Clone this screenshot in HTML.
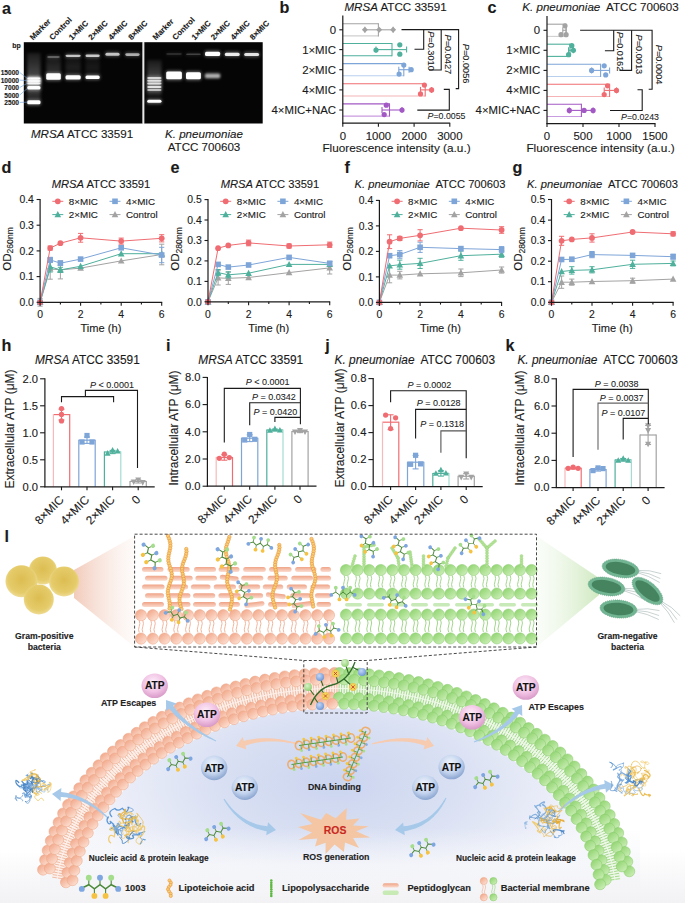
<!DOCTYPE html>
<html><head><meta charset="utf-8"><style>
html,body{margin:0;padding:0;background:#fff;width:685px;height:903px;overflow:hidden;}
svg{display:block;}
text{font-family:"Liberation Sans",sans-serif;white-space:pre;}
</style></head><body>
<svg width="685" height="903" viewBox="0 0 685 903">
<defs>
<filter id="gb05" x="-20%" y="-100%" width="140%" height="300%"><feGaussianBlur stdDeviation="0.5"/></filter>
<filter id="gb055" x="-20%" y="-100%" width="140%" height="300%"><feGaussianBlur stdDeviation="0.55"/></filter>
<filter id="gb06" x="-20%" y="-100%" width="140%" height="300%"><feGaussianBlur stdDeviation="0.6"/></filter>
<filter id="gb07" x="-20%" y="-100%" width="140%" height="300%"><feGaussianBlur stdDeviation="0.7"/></filter>
<filter id="gb08" x="-20%" y="-100%" width="140%" height="300%"><feGaussianBlur stdDeviation="0.8"/></filter>
<filter id="gb15" x="-30%" y="-150%" width="160%" height="400%"><feGaussianBlur stdDeviation="1.5"/></filter>
<linearGradient id="smear" x1="0" y1="0" x2="0" y2="1"><stop offset="0" stop-color="#fff" stop-opacity="0.3"/><stop offset="0.6" stop-color="#fff" stop-opacity="1"/><stop offset="1" stop-color="#fff" stop-opacity="0.4"/></linearGradient>

<linearGradient id="fadebot" x1="0" y1="0" x2="0" y2="1"><stop offset="0" stop-color="#f6f7fa" stop-opacity="0"/><stop offset="0.6" stop-color="#f6f7fa" stop-opacity="0.85"/><stop offset="1" stop-color="#f4f4f7" stop-opacity="1"/></linearGradient>
<radialGradient id="molblue" cx="0.4" cy="0.35" r="0.65"><stop offset="0" stop-color="#c5d8f5"/><stop offset="1" stop-color="#6f98d8"/></radialGradient>
<radialGradient id="molgreen" cx="0.4" cy="0.35" r="0.65"><stop offset="0" stop-color="#d8f2c8"/><stop offset="1" stop-color="#92d277"/></radialGradient>
<linearGradient id="sball" x1="0.15" y1="0.1" x2="0.85" y2="0.95"><stop offset="0" stop-color="#f2a98c"/><stop offset="1" stop-color="#fde2d5"/></linearGradient>
<linearGradient id="gball" x1="0.15" y1="0.1" x2="0.85" y2="0.95"><stop offset="0" stop-color="#92d572"/><stop offset="1" stop-color="#cdefb9"/></linearGradient>
<linearGradient id="pepg" x1="0" y1="0" x2="0" y2="1"><stop offset="0" stop-color="#efa386"/><stop offset="1" stop-color="#fbdccf"/></linearGradient>
<radialGradient id="yball" cx="0.5" cy="0.45" r="0.55"><stop offset="0" stop-color="#dcbd52"/><stop offset="0.75" stop-color="#e5cb6a"/><stop offset="1" stop-color="#efdc95"/></radialGradient>
<radialGradient id="pinkball" cx="0.45" cy="0.35" r="0.65"><stop offset="0" stop-color="#fdf0fa"/><stop offset="0.6" stop-color="#f1c2e4"/><stop offset="1" stop-color="#d89ac8"/></radialGradient>
<radialGradient id="blueball" cx="0.45" cy="0.35" r="0.65"><stop offset="0" stop-color="#f3f7fd"/><stop offset="0.6" stop-color="#c4d4ee"/><stop offset="1" stop-color="#8aa5d0"/></radialGradient>
<linearGradient id="conesal" x1="0" y1="0" x2="1" y2="0"><stop offset="0" stop-color="#f2cbbb"/><stop offset="1" stop-color="#fdf7f4" stop-opacity="0.5"/></linearGradient>
<linearGradient id="conegrn" x1="1" y1="0" x2="0" y2="0"><stop offset="0" stop-color="#cfe9c0"/><stop offset="1" stop-color="#f3faef" stop-opacity="0.4"/></linearGradient>
<radialGradient id="cellgrad" gradientUnits="userSpaceOnUse" cx="336" cy="782" r="265" gradientTransform="translate(336,782) scale(1,0.5) translate(-336,-782)"><stop offset="0" stop-color="#cbd5ef"/><stop offset="0.45" stop-color="#d9e0f3"/><stop offset="0.8" stop-color="#eaedf8"/><stop offset="1" stop-color="#f5f6fb"/></radialGradient>
<linearGradient id="botgrad" gradientUnits="userSpaceOnUse" x1="0" y1="850" x2="0" y2="903"><stop offset="0" stop-color="#ffffff"/><stop offset="0.6" stop-color="#f7f7f9"/><stop offset="1" stop-color="#f2f2f5"/></linearGradient>
<radialGradient id="rosgrad" cx="0.5" cy="0.5" r="0.5"><stop offset="0" stop-color="#fbe0c8"/><stop offset="1" stop-color="#f6b88a"/></radialGradient>
</defs>
<rect width="685" height="903" fill="#fff"/>
<text x="4.5" y="541.5" font-size="16.2" font-weight="bold" fill="#1a1a1a" stroke="#1a1a1a" stroke-width="0.12">l</text>
<rect x="0" y="850" width="685" height="53" fill="url(#botgrad)"/>
<polygon points="76.4,890.0 76.4,885.8 76.7,883.1 77.1,880.4 77.5,877.7 78.0,875.0 78.6,872.3 79.2,869.6 79.8,866.9 80.6,864.2 81.3,861.5 82.1,858.9 83.0,856.2 83.9,853.5 84.9,850.9 85.9,848.2 87.0,845.6 88.1,842.9 89.3,840.3 90.5,837.7 91.8,835.1 93.1,832.5 94.5,829.9 95.9,827.3 97.4,824.7 99.0,822.2 100.6,819.6 102.2,817.1 103.9,814.6 105.7,812.1 107.5,809.6 109.3,807.1 111.3,804.6 113.2,802.2 115.2,799.8 117.3,797.3 119.4,795.0 121.6,792.6 123.8,790.2 126.0,787.9 128.4,785.6 130.7,783.3 133.1,781.0 135.6,778.8 138.1,776.6 140.6,774.4 143.2,772.2 145.9,770.1 148.6,768.0 151.3,765.9 154.1,763.8 156.9,761.8 159.8,759.8 162.7,757.8 165.6,755.9 168.6,754.0 171.7,752.1 174.7,750.3 177.8,748.5 181.0,746.7 184.2,745.0 187.4,743.3 190.7,741.6 194.0,739.9 197.3,738.3 200.7,736.8 204.1,735.3 207.5,733.8 211.0,732.3 214.5,730.9 218.0,729.5 221.6,728.2 225.2,726.9 228.8,725.7 232.4,724.5 236.1,723.3 239.8,722.2 243.5,721.1 247.2,720.0 251.0,719.0 254.8,718.1 258.6,717.2 262.4,716.3 266.2,715.5 270.1,714.7 274.0,713.9 277.9,713.2 281.8,712.6 285.7,712.0 289.6,711.4 293.6,710.9 297.5,710.5 301.5,710.0 305.4,709.7 309.4,709.3 313.4,709.0 317.4,708.8 321.4,708.6 325.4,708.5 329.4,708.4 333.4,708.3 337.4,708.3 341.4,708.3 345.4,708.4 349.4,708.6 353.4,708.7 357.4,709.0 361.4,709.2 365.4,709.6 369.4,709.9 373.3,710.3 377.3,710.8 381.2,711.3 385.2,711.8 389.1,712.4 393.0,713.0 396.9,713.7 400.8,714.5 404.6,715.2 408.5,716.0 412.3,716.9 416.1,717.8 419.9,718.7 423.7,719.7 427.4,720.8 431.1,721.8 434.8,722.9 438.5,724.1 442.2,725.3 445.8,726.5 449.4,727.8 452.9,729.1 456.5,730.5 460.0,731.9 463.5,733.3 466.9,734.8 470.3,736.3 473.7,737.9 477.0,739.5 480.4,741.1 483.6,742.8 486.9,744.5 490.1,746.2 493.2,747.9 496.4,749.7 499.4,751.6 502.5,753.4 505.5,755.3 508.5,757.3 511.4,759.2 514.3,761.2 517.1,763.2 519.9,765.3 522.6,767.4 525.3,769.5 528.0,771.6 530.6,773.8 533.2,775.9 535.7,778.2 538.2,780.4 540.6,782.6 543.0,784.9 545.3,787.2 547.6,789.5 549.8,791.9 552.0,794.3 554.1,796.6 556.2,799.0 558.2,801.5 560.2,803.9 562.1,806.4 564.0,808.8 565.8,811.3 567.6,813.8 569.3,816.3 570.9,818.9 572.6,821.4 574.1,824.0 575.6,826.5 577.1,829.1 578.5,831.7 579.8,834.3 581.1,836.9 582.4,839.5 583.6,842.2 584.7,844.8 585.8,847.4 586.8,850.1 587.8,852.7 588.8,855.4 589.6,858.1 590.5,860.7 591.2,863.4 592.0,866.1 592.6,868.8 593.2,871.5 593.8,874.2 594.3,876.9 594.8,879.6 595.2,882.3 595.5,885.0 595.8,887.7 595.8,890.0" fill="url(#cellgrad)"/>
<rect x="40" y="828" width="600" height="62" fill="url(#fadebot)"/>
<polygon points="74,570 134.6,536 134.6,647 74,598" fill="url(#conesal)"/>
<polygon points="599,578 536.5,536 536.5,647 599,595" fill="url(#conegrn)"/>
<circle cx="42.9" cy="570.5" r="14.0" fill="url(#yball)"/>
<circle cx="21.5" cy="581.2" r="16.0" fill="url(#yball)"/>
<circle cx="64.0" cy="581.5" r="15.0" fill="url(#yball)"/>
<circle cx="38.8" cy="599.5" r="15.0" fill="url(#yball)"/>
<text x="44.3" y="639.2" font-size="8.7" text-anchor="middle" font-weight="bold" fill="#222" stroke="#222" stroke-width="0.12">Gram-positive</text>
<text x="44.3" y="649.6" font-size="8.7" text-anchor="middle" font-weight="bold" fill="#222" stroke="#222" stroke-width="0.12">bacteria</text>
<g transform="translate(620.5,568.5) rotate(10)"><path d="M17,0 q12,-1 24,3 M17,1 q12,1 24,6 M17,-1 q12,-3 24,-1" stroke="#9aa" stroke-width="0.5" fill="none"/><ellipse cx="0" cy="0" rx="18.5" ry="9" fill="#72b593" stroke="#62a383" stroke-width="0.8" stroke-dasharray="1,1"/><ellipse cx="0" cy="0" rx="15" ry="6.2" fill="#45845f"/></g>
<g transform="translate(606.5,586.5) rotate(10)"><path d="M17,0 q12,-1 24,3 M17,1 q12,1 24,6 M17,-1 q12,-3 24,-1" stroke="#9aa" stroke-width="0.5" fill="none"/><ellipse cx="0" cy="0" rx="18.5" ry="9" fill="#72b593" stroke="#62a383" stroke-width="0.8" stroke-dasharray="1,1"/><ellipse cx="0" cy="0" rx="15" ry="6.2" fill="#45845f"/></g>
<g transform="translate(647.5,591.0) rotate(40)"><path d="M17,0 q12,-1 24,3 M17,1 q12,1 24,6 M17,-1 q12,-3 24,-1" stroke="#9aa" stroke-width="0.5" fill="none"/><ellipse cx="0" cy="0" rx="18.5" ry="9" fill="#72b593" stroke="#62a383" stroke-width="0.8" stroke-dasharray="1,1"/><ellipse cx="0" cy="0" rx="15" ry="6.2" fill="#45845f"/></g>
<g transform="translate(618.5,609.0) rotate(5)"><path d="M17,0 q12,-1 24,3 M17,1 q12,1 24,6 M17,-1 q12,-3 24,-1" stroke="#9aa" stroke-width="0.5" fill="none"/><ellipse cx="0" cy="0" rx="18.5" ry="9" fill="#72b593" stroke="#62a383" stroke-width="0.8" stroke-dasharray="1,1"/><ellipse cx="0" cy="0" rx="15" ry="6.2" fill="#45845f"/></g>
<text x="627.5" y="639.0" font-size="8.6" text-anchor="middle" font-weight="bold" fill="#222" stroke="#222" stroke-width="0.12">Gram-negative</text>
<text x="627.5" y="649.8" font-size="8.6" text-anchor="middle" font-weight="bold" fill="#222" stroke="#222" stroke-width="0.12">bacteria</text>
<rect x="142.0" y="566.9" width="21.5" height="5.0" rx="2.5" fill="url(#pepg)" transform="rotate(0 152.7 569.4)"/>
<rect x="167.5" y="566.9" width="22.2" height="5.0" rx="2.5" fill="url(#pepg)" transform="rotate(0 178.6 569.4)"/>
<rect x="194.0" y="566.9" width="22.0" height="5.0" rx="2.5" fill="url(#pepg)" transform="rotate(0 205.0 569.4)"/>
<rect x="218.6" y="566.9" width="20.9" height="5.0" rx="2.5" fill="url(#pepg)" transform="rotate(0 229.0 569.4)"/>
<rect x="243.2" y="566.9" width="22.6" height="5.0" rx="2.5" fill="url(#pepg)" transform="rotate(0 254.5 569.4)"/>
<rect x="269.1" y="566.9" width="22.5" height="5.0" rx="2.5" fill="url(#pepg)" transform="rotate(0 280.3 569.4)"/>
<rect x="295.1" y="566.9" width="21.3" height="5.0" rx="2.5" fill="url(#pepg)" transform="rotate(0 305.8 569.4)"/>
<rect x="320.4" y="566.9" width="10.6" height="5.0" rx="2.5" fill="url(#pepg)" transform="rotate(0 325.7 569.4)"/>
<rect x="145.0" y="575.7" width="22.5" height="5.0" rx="2.5" fill="url(#pepg)" transform="rotate(0 156.2 578.2)"/>
<rect x="170.7" y="575.7" width="22.0" height="5.0" rx="2.5" fill="url(#pepg)" transform="rotate(0 181.8 578.2)"/>
<rect x="195.4" y="575.7" width="21.5" height="5.0" rx="2.5" fill="url(#pepg)" transform="rotate(0 206.2 578.2)"/>
<rect x="219.7" y="575.7" width="19.0" height="5.0" rx="2.5" fill="url(#pepg)" transform="rotate(7 229.2 578.2)"/>
<rect x="241.2" y="575.7" width="22.1" height="5.0" rx="2.5" fill="url(#pepg)" transform="rotate(0 252.2 578.2)"/>
<rect x="267.5" y="575.7" width="20.2" height="5.0" rx="2.5" fill="url(#pepg)" transform="rotate(0 277.6 578.2)"/>
<rect x="291.3" y="575.7" width="21.7" height="5.0" rx="2.5" fill="url(#pepg)" transform="rotate(0 302.1 578.2)"/>
<rect x="315.8" y="575.7" width="15.2" height="5.0" rx="2.5" fill="url(#pepg)" transform="rotate(0 323.4 578.2)"/>
<rect x="142.0" y="584.5" width="22.6" height="5.0" rx="2.5" fill="url(#pepg)" transform="rotate(0 153.3 587.0)"/>
<rect x="167.7" y="584.5" width="20.4" height="5.0" rx="2.5" fill="url(#pepg)" transform="rotate(0 177.9 587.0)"/>
<rect x="190.9" y="584.5" width="19.6" height="5.0" rx="2.5" fill="url(#pepg)" transform="rotate(0 200.7 587.0)"/>
<rect x="213.7" y="584.5" width="22.3" height="5.0" rx="2.5" fill="url(#pepg)" transform="rotate(0 224.8 587.0)"/>
<rect x="238.5" y="584.5" width="21.7" height="5.0" rx="2.5" fill="url(#pepg)" transform="rotate(0 249.3 587.0)"/>
<rect x="262.8" y="584.5" width="20.4" height="5.0" rx="2.5" fill="url(#pepg)" transform="rotate(0 273.0 587.0)"/>
<rect x="286.7" y="584.5" width="20.3" height="5.0" rx="2.5" fill="url(#pepg)" transform="rotate(0 296.8 587.0)"/>
<rect x="310.4" y="584.5" width="19.7" height="5.0" rx="2.5" fill="url(#pepg)" transform="rotate(0 320.3 587.0)"/>
<rect x="145.0" y="593.3" width="19.1" height="5.0" rx="2.5" fill="url(#pepg)" transform="rotate(0 154.5 595.8)"/>
<rect x="168.1" y="593.3" width="22.4" height="5.0" rx="2.5" fill="url(#pepg)" transform="rotate(0 179.3 595.8)"/>
<rect x="193.0" y="593.3" width="22.2" height="5.0" rx="2.5" fill="url(#pepg)" transform="rotate(0 204.1 595.8)"/>
<rect x="218.4" y="593.3" width="22.4" height="5.0" rx="2.5" fill="url(#pepg)" transform="rotate(0 229.6 595.8)"/>
<rect x="243.4" y="593.3" width="19.7" height="5.0" rx="2.5" fill="url(#pepg)" transform="rotate(0 253.2 595.8)"/>
<rect x="265.8" y="593.3" width="20.0" height="5.0" rx="2.5" fill="url(#pepg)" transform="rotate(7 275.8 595.8)"/>
<rect x="290.2" y="593.3" width="20.4" height="5.0" rx="2.5" fill="url(#pepg)" transform="rotate(0 300.4 595.8)"/>
<rect x="314.9" y="593.3" width="16.1" height="5.0" rx="2.5" fill="url(#pepg)" transform="rotate(0 322.9 595.8)"/>
<rect x="142.0" y="602.1" width="22.0" height="5.0" rx="2.5" fill="url(#pepg)" transform="rotate(0 153.0 604.6)"/>
<rect x="168.1" y="602.1" width="22.4" height="5.0" rx="2.5" fill="url(#pepg)" transform="rotate(0 179.3 604.6)"/>
<rect x="193.1" y="602.1" width="22.8" height="5.0" rx="2.5" fill="url(#pepg)" transform="rotate(0 204.5 604.6)"/>
<rect x="218.8" y="602.1" width="21.1" height="5.0" rx="2.5" fill="url(#pepg)" transform="rotate(0 229.3 604.6)"/>
<rect x="244.2" y="602.1" width="20.4" height="5.0" rx="2.5" fill="url(#pepg)" transform="rotate(-7 254.4 604.6)"/>
<rect x="268.1" y="602.1" width="20.2" height="5.0" rx="2.5" fill="url(#pepg)" transform="rotate(0 278.3 604.6)"/>
<rect x="291.5" y="602.1" width="22.2" height="5.0" rx="2.5" fill="url(#pepg)" transform="rotate(-7 302.6 604.6)"/>
<rect x="316.5" y="602.1" width="14.5" height="5.0" rx="2.5" fill="url(#pepg)" transform="rotate(0 323.7 604.6)"/>
<circle cx="141.0" cy="615.2" r="5.6" fill="url(#sball)" stroke="#eba283" stroke-width="0.5"/>
<circle cx="152.8" cy="615.2" r="5.6" fill="url(#sball)" stroke="#eba283" stroke-width="0.5"/>
<circle cx="164.5" cy="615.2" r="5.6" fill="url(#sball)" stroke="#eba283" stroke-width="0.5"/>
<circle cx="176.2" cy="615.2" r="5.6" fill="url(#sball)" stroke="#eba283" stroke-width="0.5"/>
<circle cx="188.0" cy="615.2" r="5.6" fill="url(#sball)" stroke="#eba283" stroke-width="0.5"/>
<circle cx="199.8" cy="615.2" r="5.6" fill="url(#sball)" stroke="#eba283" stroke-width="0.5"/>
<circle cx="211.5" cy="615.2" r="5.6" fill="url(#sball)" stroke="#eba283" stroke-width="0.5"/>
<circle cx="223.2" cy="615.2" r="5.6" fill="url(#sball)" stroke="#eba283" stroke-width="0.5"/>
<circle cx="235.0" cy="615.2" r="5.6" fill="url(#sball)" stroke="#eba283" stroke-width="0.5"/>
<circle cx="246.8" cy="615.2" r="5.6" fill="url(#sball)" stroke="#eba283" stroke-width="0.5"/>
<circle cx="258.5" cy="615.2" r="5.6" fill="url(#sball)" stroke="#eba283" stroke-width="0.5"/>
<circle cx="270.2" cy="615.2" r="5.6" fill="url(#sball)" stroke="#eba283" stroke-width="0.5"/>
<circle cx="282.0" cy="615.2" r="5.6" fill="url(#sball)" stroke="#eba283" stroke-width="0.5"/>
<circle cx="293.8" cy="615.2" r="5.6" fill="url(#sball)" stroke="#eba283" stroke-width="0.5"/>
<circle cx="305.5" cy="615.2" r="5.6" fill="url(#sball)" stroke="#eba283" stroke-width="0.5"/>
<circle cx="317.2" cy="615.2" r="5.6" fill="url(#sball)" stroke="#eba283" stroke-width="0.5"/>
<circle cx="329.0" cy="615.2" r="5.6" fill="url(#sball)" stroke="#eba283" stroke-width="0.5"/>
<circle cx="141.0" cy="638.6" r="5.6" fill="url(#sball)" stroke="#eba283" stroke-width="0.5"/>
<circle cx="152.8" cy="638.6" r="5.6" fill="url(#sball)" stroke="#eba283" stroke-width="0.5"/>
<circle cx="164.5" cy="638.6" r="5.6" fill="url(#sball)" stroke="#eba283" stroke-width="0.5"/>
<circle cx="176.2" cy="638.6" r="5.6" fill="url(#sball)" stroke="#eba283" stroke-width="0.5"/>
<circle cx="188.0" cy="638.6" r="5.6" fill="url(#sball)" stroke="#eba283" stroke-width="0.5"/>
<circle cx="199.8" cy="638.6" r="5.6" fill="url(#sball)" stroke="#eba283" stroke-width="0.5"/>
<circle cx="211.5" cy="638.6" r="5.6" fill="url(#sball)" stroke="#eba283" stroke-width="0.5"/>
<circle cx="223.2" cy="638.6" r="5.6" fill="url(#sball)" stroke="#eba283" stroke-width="0.5"/>
<circle cx="235.0" cy="638.6" r="5.6" fill="url(#sball)" stroke="#eba283" stroke-width="0.5"/>
<circle cx="246.8" cy="638.6" r="5.6" fill="url(#sball)" stroke="#eba283" stroke-width="0.5"/>
<circle cx="258.5" cy="638.6" r="5.6" fill="url(#sball)" stroke="#eba283" stroke-width="0.5"/>
<circle cx="270.2" cy="638.6" r="5.6" fill="url(#sball)" stroke="#eba283" stroke-width="0.5"/>
<circle cx="282.0" cy="638.6" r="5.6" fill="url(#sball)" stroke="#eba283" stroke-width="0.5"/>
<circle cx="293.8" cy="638.6" r="5.6" fill="url(#sball)" stroke="#eba283" stroke-width="0.5"/>
<circle cx="305.5" cy="638.6" r="5.6" fill="url(#sball)" stroke="#eba283" stroke-width="0.5"/>
<circle cx="317.2" cy="638.6" r="5.6" fill="url(#sball)" stroke="#eba283" stroke-width="0.5"/>
<circle cx="329.0" cy="638.6" r="5.6" fill="url(#sball)" stroke="#eba283" stroke-width="0.5"/>
<path d="M139.2,620.5q1.3,3 0,6q-1.3,3 0,6M142.8,620.5q1.3,3 0,6q-1.3,3 0,6M150.9,620.5q1.3,3 0,6q-1.3,3 0,6M154.6,620.5q1.3,3 0,6q-1.3,3 0,6M162.7,620.5q1.3,3 0,6q-1.3,3 0,6M166.3,620.5q1.3,3 0,6q-1.3,3 0,6M174.4,620.5q1.3,3 0,6q-1.3,3 0,6M178.1,620.5q1.3,3 0,6q-1.3,3 0,6M186.2,620.5q1.3,3 0,6q-1.3,3 0,6M189.8,620.5q1.3,3 0,6q-1.3,3 0,6M197.9,620.5q1.3,3 0,6q-1.3,3 0,6M201.6,620.5q1.3,3 0,6q-1.3,3 0,6M209.7,620.5q1.3,3 0,6q-1.3,3 0,6M213.3,620.5q1.3,3 0,6q-1.3,3 0,6M221.4,620.5q1.3,3 0,6q-1.3,3 0,6M225.1,620.5q1.3,3 0,6q-1.3,3 0,6M233.2,620.5q1.3,3 0,6q-1.3,3 0,6M236.8,620.5q1.3,3 0,6q-1.3,3 0,6M244.9,620.5q1.3,3 0,6q-1.3,3 0,6M248.6,620.5q1.3,3 0,6q-1.3,3 0,6M256.7,620.5q1.3,3 0,6q-1.3,3 0,6M260.3,620.5q1.3,3 0,6q-1.3,3 0,6M268.4,620.5q1.3,3 0,6q-1.3,3 0,6M272.1,620.5q1.3,3 0,6q-1.3,3 0,6M280.2,620.5q1.3,3 0,6q-1.3,3 0,6M283.8,620.5q1.3,3 0,6q-1.3,3 0,6M291.9,620.5q1.3,3 0,6q-1.3,3 0,6M295.6,620.5q1.3,3 0,6q-1.3,3 0,6M303.7,620.5q1.3,3 0,6q-1.3,3 0,6M307.3,620.5q1.3,3 0,6q-1.3,3 0,6M315.4,620.5q1.3,3 0,6q-1.3,3 0,6M319.1,620.5q1.3,3 0,6q-1.3,3 0,6M327.2,620.5q1.3,3 0,6q-1.3,3 0,6M330.8,620.5q1.3,3 0,6q-1.3,3 0,6" stroke="#efae92" stroke-width="0.9" fill="none"/>
<circle cx="168.0" cy="536.0" r="1.75" fill="#f8cf72" stroke="#e68e3a" stroke-width="0.55"/><circle cx="169.0" cy="538.5" r="1.75" fill="#f8cf72" stroke="#e68e3a" stroke-width="0.55"/><circle cx="169.8" cy="541.0" r="1.75" fill="#f8cf72" stroke="#e68e3a" stroke-width="0.55"/><circle cx="170.3" cy="543.5" r="1.75" fill="#f8cf72" stroke="#e68e3a" stroke-width="0.55"/><circle cx="170.4" cy="546.0" r="1.75" fill="#f8cf72" stroke="#e68e3a" stroke-width="0.55"/><circle cx="170.1" cy="548.5" r="1.75" fill="#f8cf72" stroke="#e68e3a" stroke-width="0.55"/><circle cx="169.6" cy="551.0" r="1.75" fill="#f8cf72" stroke="#e68e3a" stroke-width="0.55"/><circle cx="169.0" cy="553.5" r="1.75" fill="#f8cf72" stroke="#e68e3a" stroke-width="0.55"/><circle cx="168.5" cy="556.0" r="1.75" fill="#f8cf72" stroke="#e68e3a" stroke-width="0.55"/><circle cx="168.3" cy="558.5" r="1.75" fill="#f8cf72" stroke="#e68e3a" stroke-width="0.55"/><circle cx="168.4" cy="561.0" r="1.75" fill="#f8cf72" stroke="#e68e3a" stroke-width="0.55"/><circle cx="168.9" cy="563.5" r="1.75" fill="#f8cf72" stroke="#e68e3a" stroke-width="0.55"/><circle cx="169.7" cy="566.0" r="1.75" fill="#f8cf72" stroke="#e68e3a" stroke-width="0.55"/><circle cx="170.5" cy="568.5" r="1.75" fill="#f8cf72" stroke="#e68e3a" stroke-width="0.55"/><circle cx="171.2" cy="571.0" r="1.75" fill="#f8cf72" stroke="#e68e3a" stroke-width="0.55"/><circle cx="171.7" cy="573.5" r="1.75" fill="#f8cf72" stroke="#e68e3a" stroke-width="0.55"/><circle cx="171.8" cy="576.0" r="1.75" fill="#f8cf72" stroke="#e68e3a" stroke-width="0.55"/><circle cx="171.4" cy="578.5" r="1.75" fill="#f8cf72" stroke="#e68e3a" stroke-width="0.55"/><circle cx="170.7" cy="581.0" r="1.75" fill="#f8cf72" stroke="#e68e3a" stroke-width="0.55"/><circle cx="169.8" cy="583.5" r="1.75" fill="#f8cf72" stroke="#e68e3a" stroke-width="0.55"/><circle cx="168.9" cy="586.0" r="1.75" fill="#f8cf72" stroke="#e68e3a" stroke-width="0.55"/><circle cx="168.3" cy="588.5" r="1.75" fill="#f8cf72" stroke="#e68e3a" stroke-width="0.55"/><circle cx="167.9" cy="591.0" r="1.75" fill="#f8cf72" stroke="#e68e3a" stroke-width="0.55"/><circle cx="167.9" cy="593.5" r="1.75" fill="#f8cf72" stroke="#e68e3a" stroke-width="0.55"/><circle cx="168.3" cy="596.0" r="1.75" fill="#f8cf72" stroke="#e68e3a" stroke-width="0.55"/><circle cx="168.8" cy="598.5" r="1.75" fill="#f8cf72" stroke="#e68e3a" stroke-width="0.55"/><circle cx="169.4" cy="601.0" r="1.75" fill="#f8cf72" stroke="#e68e3a" stroke-width="0.55"/><circle cx="169.7" cy="603.5" r="1.75" fill="#f8cf72" stroke="#e68e3a" stroke-width="0.55"/><circle cx="169.8" cy="606.0" r="1.75" fill="#f8cf72" stroke="#e68e3a" stroke-width="0.55"/><circle cx="169.5" cy="608.5" r="1.75" fill="#f8cf72" stroke="#e68e3a" stroke-width="0.55"/>
<circle cx="186.3" cy="549.0" r="1.75" fill="#f8cf72" stroke="#e68e3a" stroke-width="0.55"/><circle cx="186.5" cy="551.5" r="1.75" fill="#f8cf72" stroke="#e68e3a" stroke-width="0.55"/><circle cx="186.2" cy="554.0" r="1.75" fill="#f8cf72" stroke="#e68e3a" stroke-width="0.55"/><circle cx="185.6" cy="556.5" r="1.75" fill="#f8cf72" stroke="#e68e3a" stroke-width="0.55"/><circle cx="184.7" cy="559.0" r="1.75" fill="#f8cf72" stroke="#e68e3a" stroke-width="0.55"/><circle cx="183.7" cy="561.5" r="1.75" fill="#f8cf72" stroke="#e68e3a" stroke-width="0.55"/><circle cx="182.8" cy="564.0" r="1.75" fill="#f8cf72" stroke="#e68e3a" stroke-width="0.55"/><circle cx="182.3" cy="566.5" r="1.75" fill="#f8cf72" stroke="#e68e3a" stroke-width="0.55"/><circle cx="182.1" cy="569.0" r="1.75" fill="#f8cf72" stroke="#e68e3a" stroke-width="0.55"/><circle cx="182.2" cy="571.5" r="1.75" fill="#f8cf72" stroke="#e68e3a" stroke-width="0.55"/><circle cx="182.7" cy="574.0" r="1.75" fill="#f8cf72" stroke="#e68e3a" stroke-width="0.55"/><circle cx="183.2" cy="576.5" r="1.75" fill="#f8cf72" stroke="#e68e3a" stroke-width="0.55"/><circle cx="183.7" cy="579.0" r="1.75" fill="#f8cf72" stroke="#e68e3a" stroke-width="0.55"/><circle cx="183.9" cy="581.5" r="1.75" fill="#f8cf72" stroke="#e68e3a" stroke-width="0.55"/><circle cx="183.8" cy="584.0" r="1.75" fill="#f8cf72" stroke="#e68e3a" stroke-width="0.55"/><circle cx="183.2" cy="586.5" r="1.75" fill="#f8cf72" stroke="#e68e3a" stroke-width="0.55"/><circle cx="182.4" cy="589.0" r="1.75" fill="#f8cf72" stroke="#e68e3a" stroke-width="0.55"/><circle cx="181.5" cy="591.5" r="1.75" fill="#f8cf72" stroke="#e68e3a" stroke-width="0.55"/><circle cx="180.5" cy="594.0" r="1.75" fill="#f8cf72" stroke="#e68e3a" stroke-width="0.55"/><circle cx="179.8" cy="596.5" r="1.75" fill="#f8cf72" stroke="#e68e3a" stroke-width="0.55"/><circle cx="179.5" cy="599.0" r="1.75" fill="#f8cf72" stroke="#e68e3a" stroke-width="0.55"/><circle cx="179.6" cy="601.5" r="1.75" fill="#f8cf72" stroke="#e68e3a" stroke-width="0.55"/><circle cx="180.1" cy="604.0" r="1.75" fill="#f8cf72" stroke="#e68e3a" stroke-width="0.55"/><circle cx="180.7" cy="606.5" r="1.75" fill="#f8cf72" stroke="#e68e3a" stroke-width="0.55"/><circle cx="181.5" cy="609.0" r="1.75" fill="#f8cf72" stroke="#e68e3a" stroke-width="0.55"/>
<circle cx="229.3" cy="537.0" r="1.75" fill="#f8cf72" stroke="#e68e3a" stroke-width="0.55"/><circle cx="228.6" cy="539.5" r="1.75" fill="#f8cf72" stroke="#e68e3a" stroke-width="0.55"/><circle cx="227.8" cy="542.0" r="1.75" fill="#f8cf72" stroke="#e68e3a" stroke-width="0.55"/><circle cx="226.9" cy="544.5" r="1.75" fill="#f8cf72" stroke="#e68e3a" stroke-width="0.55"/><circle cx="226.2" cy="547.0" r="1.75" fill="#f8cf72" stroke="#e68e3a" stroke-width="0.55"/><circle cx="225.8" cy="549.5" r="1.75" fill="#f8cf72" stroke="#e68e3a" stroke-width="0.55"/><circle cx="225.8" cy="552.0" r="1.75" fill="#f8cf72" stroke="#e68e3a" stroke-width="0.55"/><circle cx="226.2" cy="554.5" r="1.75" fill="#f8cf72" stroke="#e68e3a" stroke-width="0.55"/><circle cx="226.9" cy="557.0" r="1.75" fill="#f8cf72" stroke="#e68e3a" stroke-width="0.55"/><circle cx="227.7" cy="559.5" r="1.75" fill="#f8cf72" stroke="#e68e3a" stroke-width="0.55"/><circle cx="228.5" cy="562.0" r="1.75" fill="#f8cf72" stroke="#e68e3a" stroke-width="0.55"/><circle cx="229.1" cy="564.5" r="1.75" fill="#f8cf72" stroke="#e68e3a" stroke-width="0.55"/><circle cx="229.3" cy="567.0" r="1.75" fill="#f8cf72" stroke="#e68e3a" stroke-width="0.55"/><circle cx="229.1" cy="569.5" r="1.75" fill="#f8cf72" stroke="#e68e3a" stroke-width="0.55"/><circle cx="228.6" cy="572.0" r="1.75" fill="#f8cf72" stroke="#e68e3a" stroke-width="0.55"/><circle cx="228.0" cy="574.5" r="1.75" fill="#f8cf72" stroke="#e68e3a" stroke-width="0.55"/><circle cx="227.5" cy="577.0" r="1.75" fill="#f8cf72" stroke="#e68e3a" stroke-width="0.55"/><circle cx="227.2" cy="579.5" r="1.75" fill="#f8cf72" stroke="#e68e3a" stroke-width="0.55"/><circle cx="227.2" cy="582.0" r="1.75" fill="#f8cf72" stroke="#e68e3a" stroke-width="0.55"/><circle cx="227.6" cy="584.5" r="1.75" fill="#f8cf72" stroke="#e68e3a" stroke-width="0.55"/><circle cx="228.4" cy="587.0" r="1.75" fill="#f8cf72" stroke="#e68e3a" stroke-width="0.55"/><circle cx="229.4" cy="589.5" r="1.75" fill="#f8cf72" stroke="#e68e3a" stroke-width="0.55"/><circle cx="230.4" cy="592.0" r="1.75" fill="#f8cf72" stroke="#e68e3a" stroke-width="0.55"/><circle cx="231.3" cy="594.5" r="1.75" fill="#f8cf72" stroke="#e68e3a" stroke-width="0.55"/><circle cx="231.8" cy="597.0" r="1.75" fill="#f8cf72" stroke="#e68e3a" stroke-width="0.55"/><circle cx="231.9" cy="599.5" r="1.75" fill="#f8cf72" stroke="#e68e3a" stroke-width="0.55"/><circle cx="231.7" cy="602.0" r="1.75" fill="#f8cf72" stroke="#e68e3a" stroke-width="0.55"/><circle cx="231.2" cy="604.5" r="1.75" fill="#f8cf72" stroke="#e68e3a" stroke-width="0.55"/><circle cx="230.6" cy="607.0" r="1.75" fill="#f8cf72" stroke="#e68e3a" stroke-width="0.55"/><circle cx="230.0" cy="609.5" r="1.75" fill="#f8cf72" stroke="#e68e3a" stroke-width="0.55"/>
<circle cx="279.3" cy="545.0" r="1.75" fill="#f8cf72" stroke="#e68e3a" stroke-width="0.55"/><circle cx="279.5" cy="547.5" r="1.75" fill="#f8cf72" stroke="#e68e3a" stroke-width="0.55"/><circle cx="279.2" cy="550.0" r="1.75" fill="#f8cf72" stroke="#e68e3a" stroke-width="0.55"/><circle cx="278.6" cy="552.5" r="1.75" fill="#f8cf72" stroke="#e68e3a" stroke-width="0.55"/><circle cx="277.7" cy="555.0" r="1.75" fill="#f8cf72" stroke="#e68e3a" stroke-width="0.55"/><circle cx="276.7" cy="557.5" r="1.75" fill="#f8cf72" stroke="#e68e3a" stroke-width="0.55"/><circle cx="275.8" cy="560.0" r="1.75" fill="#f8cf72" stroke="#e68e3a" stroke-width="0.55"/><circle cx="275.3" cy="562.5" r="1.75" fill="#f8cf72" stroke="#e68e3a" stroke-width="0.55"/><circle cx="275.1" cy="565.0" r="1.75" fill="#f8cf72" stroke="#e68e3a" stroke-width="0.55"/><circle cx="275.2" cy="567.5" r="1.75" fill="#f8cf72" stroke="#e68e3a" stroke-width="0.55"/><circle cx="275.7" cy="570.0" r="1.75" fill="#f8cf72" stroke="#e68e3a" stroke-width="0.55"/><circle cx="276.2" cy="572.5" r="1.75" fill="#f8cf72" stroke="#e68e3a" stroke-width="0.55"/><circle cx="276.7" cy="575.0" r="1.75" fill="#f8cf72" stroke="#e68e3a" stroke-width="0.55"/><circle cx="276.9" cy="577.5" r="1.75" fill="#f8cf72" stroke="#e68e3a" stroke-width="0.55"/><circle cx="276.8" cy="580.0" r="1.75" fill="#f8cf72" stroke="#e68e3a" stroke-width="0.55"/><circle cx="276.2" cy="582.5" r="1.75" fill="#f8cf72" stroke="#e68e3a" stroke-width="0.55"/><circle cx="275.4" cy="585.0" r="1.75" fill="#f8cf72" stroke="#e68e3a" stroke-width="0.55"/><circle cx="274.5" cy="587.5" r="1.75" fill="#f8cf72" stroke="#e68e3a" stroke-width="0.55"/><circle cx="273.5" cy="590.0" r="1.75" fill="#f8cf72" stroke="#e68e3a" stroke-width="0.55"/><circle cx="272.8" cy="592.5" r="1.75" fill="#f8cf72" stroke="#e68e3a" stroke-width="0.55"/><circle cx="272.5" cy="595.0" r="1.75" fill="#f8cf72" stroke="#e68e3a" stroke-width="0.55"/><circle cx="272.6" cy="597.5" r="1.75" fill="#f8cf72" stroke="#e68e3a" stroke-width="0.55"/><circle cx="273.1" cy="600.0" r="1.75" fill="#f8cf72" stroke="#e68e3a" stroke-width="0.55"/><circle cx="273.7" cy="602.5" r="1.75" fill="#f8cf72" stroke="#e68e3a" stroke-width="0.55"/><circle cx="274.5" cy="605.0" r="1.75" fill="#f8cf72" stroke="#e68e3a" stroke-width="0.55"/><circle cx="275.1" cy="607.5" r="1.75" fill="#f8cf72" stroke="#e68e3a" stroke-width="0.55"/>
<circle cx="311.5" cy="539.0" r="1.75" fill="#f8cf72" stroke="#e68e3a" stroke-width="0.55"/><circle cx="312.5" cy="541.5" r="1.75" fill="#f8cf72" stroke="#e68e3a" stroke-width="0.55"/><circle cx="313.3" cy="544.0" r="1.75" fill="#f8cf72" stroke="#e68e3a" stroke-width="0.55"/><circle cx="313.8" cy="546.5" r="1.75" fill="#f8cf72" stroke="#e68e3a" stroke-width="0.55"/><circle cx="313.9" cy="549.0" r="1.75" fill="#f8cf72" stroke="#e68e3a" stroke-width="0.55"/><circle cx="313.6" cy="551.5" r="1.75" fill="#f8cf72" stroke="#e68e3a" stroke-width="0.55"/><circle cx="313.1" cy="554.0" r="1.75" fill="#f8cf72" stroke="#e68e3a" stroke-width="0.55"/><circle cx="312.5" cy="556.5" r="1.75" fill="#f8cf72" stroke="#e68e3a" stroke-width="0.55"/><circle cx="312.0" cy="559.0" r="1.75" fill="#f8cf72" stroke="#e68e3a" stroke-width="0.55"/><circle cx="311.8" cy="561.5" r="1.75" fill="#f8cf72" stroke="#e68e3a" stroke-width="0.55"/><circle cx="311.9" cy="564.0" r="1.75" fill="#f8cf72" stroke="#e68e3a" stroke-width="0.55"/><circle cx="312.4" cy="566.5" r="1.75" fill="#f8cf72" stroke="#e68e3a" stroke-width="0.55"/><circle cx="313.2" cy="569.0" r="1.75" fill="#f8cf72" stroke="#e68e3a" stroke-width="0.55"/><circle cx="314.0" cy="571.5" r="1.75" fill="#f8cf72" stroke="#e68e3a" stroke-width="0.55"/><circle cx="314.7" cy="574.0" r="1.75" fill="#f8cf72" stroke="#e68e3a" stroke-width="0.55"/><circle cx="315.2" cy="576.5" r="1.75" fill="#f8cf72" stroke="#e68e3a" stroke-width="0.55"/><circle cx="315.3" cy="579.0" r="1.75" fill="#f8cf72" stroke="#e68e3a" stroke-width="0.55"/><circle cx="314.9" cy="581.5" r="1.75" fill="#f8cf72" stroke="#e68e3a" stroke-width="0.55"/><circle cx="314.2" cy="584.0" r="1.75" fill="#f8cf72" stroke="#e68e3a" stroke-width="0.55"/><circle cx="313.3" cy="586.5" r="1.75" fill="#f8cf72" stroke="#e68e3a" stroke-width="0.55"/><circle cx="312.4" cy="589.0" r="1.75" fill="#f8cf72" stroke="#e68e3a" stroke-width="0.55"/><circle cx="311.8" cy="591.5" r="1.75" fill="#f8cf72" stroke="#e68e3a" stroke-width="0.55"/><circle cx="311.4" cy="594.0" r="1.75" fill="#f8cf72" stroke="#e68e3a" stroke-width="0.55"/><circle cx="311.4" cy="596.5" r="1.75" fill="#f8cf72" stroke="#e68e3a" stroke-width="0.55"/><circle cx="311.8" cy="599.0" r="1.75" fill="#f8cf72" stroke="#e68e3a" stroke-width="0.55"/><circle cx="312.3" cy="601.5" r="1.75" fill="#f8cf72" stroke="#e68e3a" stroke-width="0.55"/><circle cx="312.9" cy="604.0" r="1.75" fill="#f8cf72" stroke="#e68e3a" stroke-width="0.55"/><circle cx="313.2" cy="606.5" r="1.75" fill="#f8cf72" stroke="#e68e3a" stroke-width="0.55"/>
<circle cx="346.0" cy="570.0" r="5.6" fill="url(#gball)" stroke="#86c96a" stroke-width="0.5"/>
<circle cx="357.6" cy="570.0" r="5.6" fill="url(#gball)" stroke="#86c96a" stroke-width="0.5"/>
<circle cx="369.2" cy="570.0" r="5.6" fill="url(#gball)" stroke="#86c96a" stroke-width="0.5"/>
<circle cx="380.8" cy="570.0" r="5.6" fill="url(#gball)" stroke="#86c96a" stroke-width="0.5"/>
<circle cx="392.4" cy="570.0" r="5.6" fill="url(#gball)" stroke="#86c96a" stroke-width="0.5"/>
<circle cx="404.0" cy="570.0" r="5.6" fill="url(#gball)" stroke="#86c96a" stroke-width="0.5"/>
<circle cx="415.6" cy="570.0" r="5.6" fill="url(#gball)" stroke="#86c96a" stroke-width="0.5"/>
<circle cx="427.2" cy="570.0" r="5.6" fill="url(#gball)" stroke="#86c96a" stroke-width="0.5"/>
<circle cx="438.8" cy="570.0" r="5.6" fill="url(#gball)" stroke="#86c96a" stroke-width="0.5"/>
<circle cx="450.4" cy="570.0" r="5.6" fill="url(#gball)" stroke="#86c96a" stroke-width="0.5"/>
<circle cx="462.0" cy="570.0" r="5.6" fill="url(#gball)" stroke="#86c96a" stroke-width="0.5"/>
<circle cx="473.6" cy="570.0" r="5.6" fill="url(#gball)" stroke="#86c96a" stroke-width="0.5"/>
<circle cx="485.2" cy="570.0" r="5.6" fill="url(#gball)" stroke="#86c96a" stroke-width="0.5"/>
<circle cx="496.8" cy="570.0" r="5.6" fill="url(#gball)" stroke="#86c96a" stroke-width="0.5"/>
<circle cx="508.4" cy="570.0" r="5.6" fill="url(#gball)" stroke="#86c96a" stroke-width="0.5"/>
<circle cx="520.0" cy="570.0" r="5.6" fill="url(#gball)" stroke="#86c96a" stroke-width="0.5"/>
<circle cx="531.6" cy="570.0" r="5.6" fill="url(#gball)" stroke="#86c96a" stroke-width="0.5"/>
<circle cx="346.0" cy="593.6" r="5.6" fill="url(#gball)" stroke="#86c96a" stroke-width="0.5"/>
<circle cx="357.6" cy="593.6" r="5.6" fill="url(#gball)" stroke="#86c96a" stroke-width="0.5"/>
<circle cx="369.2" cy="593.6" r="5.6" fill="url(#gball)" stroke="#86c96a" stroke-width="0.5"/>
<circle cx="380.8" cy="593.6" r="5.6" fill="url(#gball)" stroke="#86c96a" stroke-width="0.5"/>
<circle cx="392.4" cy="593.6" r="5.6" fill="url(#gball)" stroke="#86c96a" stroke-width="0.5"/>
<circle cx="404.0" cy="593.6" r="5.6" fill="url(#gball)" stroke="#86c96a" stroke-width="0.5"/>
<circle cx="415.6" cy="593.6" r="5.6" fill="url(#gball)" stroke="#86c96a" stroke-width="0.5"/>
<circle cx="427.2" cy="593.6" r="5.6" fill="url(#gball)" stroke="#86c96a" stroke-width="0.5"/>
<circle cx="438.8" cy="593.6" r="5.6" fill="url(#gball)" stroke="#86c96a" stroke-width="0.5"/>
<circle cx="450.4" cy="593.6" r="5.6" fill="url(#gball)" stroke="#86c96a" stroke-width="0.5"/>
<circle cx="462.0" cy="593.6" r="5.6" fill="url(#gball)" stroke="#86c96a" stroke-width="0.5"/>
<circle cx="473.6" cy="593.6" r="5.6" fill="url(#gball)" stroke="#86c96a" stroke-width="0.5"/>
<circle cx="485.2" cy="593.6" r="5.6" fill="url(#gball)" stroke="#86c96a" stroke-width="0.5"/>
<circle cx="496.8" cy="593.6" r="5.6" fill="url(#gball)" stroke="#86c96a" stroke-width="0.5"/>
<circle cx="508.4" cy="593.6" r="5.6" fill="url(#gball)" stroke="#86c96a" stroke-width="0.5"/>
<circle cx="520.0" cy="593.6" r="5.6" fill="url(#gball)" stroke="#86c96a" stroke-width="0.5"/>
<circle cx="531.6" cy="593.6" r="5.6" fill="url(#gball)" stroke="#86c96a" stroke-width="0.5"/>
<circle cx="346.0" cy="614.6" r="5.6" fill="url(#gball)" stroke="#86c96a" stroke-width="0.5"/>
<circle cx="357.6" cy="614.6" r="5.6" fill="url(#gball)" stroke="#86c96a" stroke-width="0.5"/>
<circle cx="369.2" cy="614.6" r="5.6" fill="url(#gball)" stroke="#86c96a" stroke-width="0.5"/>
<circle cx="380.8" cy="614.6" r="5.6" fill="url(#gball)" stroke="#86c96a" stroke-width="0.5"/>
<circle cx="392.4" cy="614.6" r="5.6" fill="url(#gball)" stroke="#86c96a" stroke-width="0.5"/>
<circle cx="404.0" cy="614.6" r="5.6" fill="url(#gball)" stroke="#86c96a" stroke-width="0.5"/>
<circle cx="415.6" cy="614.6" r="5.6" fill="url(#gball)" stroke="#86c96a" stroke-width="0.5"/>
<circle cx="427.2" cy="614.6" r="5.6" fill="url(#gball)" stroke="#86c96a" stroke-width="0.5"/>
<circle cx="438.8" cy="614.6" r="5.6" fill="url(#gball)" stroke="#86c96a" stroke-width="0.5"/>
<circle cx="450.4" cy="614.6" r="5.6" fill="url(#gball)" stroke="#86c96a" stroke-width="0.5"/>
<circle cx="462.0" cy="614.6" r="5.6" fill="url(#gball)" stroke="#86c96a" stroke-width="0.5"/>
<circle cx="473.6" cy="614.6" r="5.6" fill="url(#gball)" stroke="#86c96a" stroke-width="0.5"/>
<circle cx="485.2" cy="614.6" r="5.6" fill="url(#gball)" stroke="#86c96a" stroke-width="0.5"/>
<circle cx="496.8" cy="614.6" r="5.6" fill="url(#gball)" stroke="#86c96a" stroke-width="0.5"/>
<circle cx="508.4" cy="614.6" r="5.6" fill="url(#gball)" stroke="#86c96a" stroke-width="0.5"/>
<circle cx="520.0" cy="614.6" r="5.6" fill="url(#gball)" stroke="#86c96a" stroke-width="0.5"/>
<circle cx="531.6" cy="614.6" r="5.6" fill="url(#gball)" stroke="#86c96a" stroke-width="0.5"/>
<circle cx="346.0" cy="638.4" r="5.6" fill="url(#gball)" stroke="#86c96a" stroke-width="0.5"/>
<circle cx="357.6" cy="638.4" r="5.6" fill="url(#gball)" stroke="#86c96a" stroke-width="0.5"/>
<circle cx="369.2" cy="638.4" r="5.6" fill="url(#gball)" stroke="#86c96a" stroke-width="0.5"/>
<circle cx="380.8" cy="638.4" r="5.6" fill="url(#gball)" stroke="#86c96a" stroke-width="0.5"/>
<circle cx="392.4" cy="638.4" r="5.6" fill="url(#gball)" stroke="#86c96a" stroke-width="0.5"/>
<circle cx="404.0" cy="638.4" r="5.6" fill="url(#gball)" stroke="#86c96a" stroke-width="0.5"/>
<circle cx="415.6" cy="638.4" r="5.6" fill="url(#gball)" stroke="#86c96a" stroke-width="0.5"/>
<circle cx="427.2" cy="638.4" r="5.6" fill="url(#gball)" stroke="#86c96a" stroke-width="0.5"/>
<circle cx="438.8" cy="638.4" r="5.6" fill="url(#gball)" stroke="#86c96a" stroke-width="0.5"/>
<circle cx="450.4" cy="638.4" r="5.6" fill="url(#gball)" stroke="#86c96a" stroke-width="0.5"/>
<circle cx="462.0" cy="638.4" r="5.6" fill="url(#gball)" stroke="#86c96a" stroke-width="0.5"/>
<circle cx="473.6" cy="638.4" r="5.6" fill="url(#gball)" stroke="#86c96a" stroke-width="0.5"/>
<circle cx="485.2" cy="638.4" r="5.6" fill="url(#gball)" stroke="#86c96a" stroke-width="0.5"/>
<circle cx="496.8" cy="638.4" r="5.6" fill="url(#gball)" stroke="#86c96a" stroke-width="0.5"/>
<circle cx="508.4" cy="638.4" r="5.6" fill="url(#gball)" stroke="#86c96a" stroke-width="0.5"/>
<circle cx="520.0" cy="638.4" r="5.6" fill="url(#gball)" stroke="#86c96a" stroke-width="0.5"/>
<circle cx="531.6" cy="638.4" r="5.6" fill="url(#gball)" stroke="#86c96a" stroke-width="0.5"/>
<path d="M344.2,575.5q1.3,3 0,6q-1.3,3 0,6M344.2,620.0q1.3,3 0,6q-1.3,3 0,6M347.8,575.5q1.3,3 0,6q-1.3,3 0,6M347.8,620.0q1.3,3 0,6q-1.3,3 0,6M355.8,575.5q1.3,3 0,6q-1.3,3 0,6M355.8,620.0q1.3,3 0,6q-1.3,3 0,6M359.4,575.5q1.3,3 0,6q-1.3,3 0,6M359.4,620.0q1.3,3 0,6q-1.3,3 0,6M367.4,575.5q1.3,3 0,6q-1.3,3 0,6M367.4,620.0q1.3,3 0,6q-1.3,3 0,6M371.0,575.5q1.3,3 0,6q-1.3,3 0,6M371.0,620.0q1.3,3 0,6q-1.3,3 0,6M379.0,575.5q1.3,3 0,6q-1.3,3 0,6M379.0,620.0q1.3,3 0,6q-1.3,3 0,6M382.6,575.5q1.3,3 0,6q-1.3,3 0,6M382.6,620.0q1.3,3 0,6q-1.3,3 0,6M390.6,575.5q1.3,3 0,6q-1.3,3 0,6M390.6,620.0q1.3,3 0,6q-1.3,3 0,6M394.2,575.5q1.3,3 0,6q-1.3,3 0,6M394.2,620.0q1.3,3 0,6q-1.3,3 0,6M402.2,575.5q1.3,3 0,6q-1.3,3 0,6M402.2,620.0q1.3,3 0,6q-1.3,3 0,6M405.8,575.5q1.3,3 0,6q-1.3,3 0,6M405.8,620.0q1.3,3 0,6q-1.3,3 0,6M413.8,575.5q1.3,3 0,6q-1.3,3 0,6M413.8,620.0q1.3,3 0,6q-1.3,3 0,6M417.4,575.5q1.3,3 0,6q-1.3,3 0,6M417.4,620.0q1.3,3 0,6q-1.3,3 0,6M425.4,575.5q1.3,3 0,6q-1.3,3 0,6M425.4,620.0q1.3,3 0,6q-1.3,3 0,6M429.0,575.5q1.3,3 0,6q-1.3,3 0,6M429.0,620.0q1.3,3 0,6q-1.3,3 0,6M437.0,575.5q1.3,3 0,6q-1.3,3 0,6M437.0,620.0q1.3,3 0,6q-1.3,3 0,6M440.6,575.5q1.3,3 0,6q-1.3,3 0,6M440.6,620.0q1.3,3 0,6q-1.3,3 0,6M448.6,575.5q1.3,3 0,6q-1.3,3 0,6M448.6,620.0q1.3,3 0,6q-1.3,3 0,6M452.2,575.5q1.3,3 0,6q-1.3,3 0,6M452.2,620.0q1.3,3 0,6q-1.3,3 0,6M460.2,575.5q1.3,3 0,6q-1.3,3 0,6M460.2,620.0q1.3,3 0,6q-1.3,3 0,6M463.8,575.5q1.3,3 0,6q-1.3,3 0,6M463.8,620.0q1.3,3 0,6q-1.3,3 0,6M471.8,575.5q1.3,3 0,6q-1.3,3 0,6M471.8,620.0q1.3,3 0,6q-1.3,3 0,6M475.4,575.5q1.3,3 0,6q-1.3,3 0,6M475.4,620.0q1.3,3 0,6q-1.3,3 0,6M483.4,575.5q1.3,3 0,6q-1.3,3 0,6M483.4,620.0q1.3,3 0,6q-1.3,3 0,6M487.0,575.5q1.3,3 0,6q-1.3,3 0,6M487.0,620.0q1.3,3 0,6q-1.3,3 0,6M495.0,575.5q1.3,3 0,6q-1.3,3 0,6M495.0,620.0q1.3,3 0,6q-1.3,3 0,6M498.6,575.5q1.3,3 0,6q-1.3,3 0,6M498.6,620.0q1.3,3 0,6q-1.3,3 0,6M506.6,575.5q1.3,3 0,6q-1.3,3 0,6M506.6,620.0q1.3,3 0,6q-1.3,3 0,6M510.2,575.5q1.3,3 0,6q-1.3,3 0,6M510.2,620.0q1.3,3 0,6q-1.3,3 0,6M518.2,575.5q1.3,3 0,6q-1.3,3 0,6M518.2,620.0q1.3,3 0,6q-1.3,3 0,6M521.8,575.5q1.3,3 0,6q-1.3,3 0,6M521.8,620.0q1.3,3 0,6q-1.3,3 0,6M529.8,575.5q1.3,3 0,6q-1.3,3 0,6M529.8,620.0q1.3,3 0,6q-1.3,3 0,6M533.4,575.5q1.3,3 0,6q-1.3,3 0,6M533.4,620.0q1.3,3 0,6q-1.3,3 0,6" stroke="#98d37f" stroke-width="0.9" fill="none"/>
<rect x="345.0" y="603.0" width="17" height="3.4" rx="1.7" fill="#c8eab8"/>
<rect x="367.0" y="603.0" width="17" height="3.4" rx="1.7" fill="#c8eab8"/>
<rect x="389.0" y="603.0" width="17" height="3.4" rx="1.7" fill="#c8eab8"/>
<rect x="411.0" y="603.0" width="17" height="3.4" rx="1.7" fill="#c8eab8"/>
<rect x="433.0" y="603.0" width="17" height="3.4" rx="1.7" fill="#c8eab8"/>
<rect x="455.0" y="603.0" width="17" height="3.4" rx="1.7" fill="#c8eab8"/>
<rect x="477.0" y="603.0" width="17" height="3.4" rx="1.7" fill="#c8eab8"/>
<rect x="499.0" y="603.0" width="17" height="3.4" rx="1.7" fill="#c8eab8"/>
<rect x="521.0" y="603.0" width="17" height="3.4" rx="1.7" fill="#c8eab8"/>
<circle cx="374.0" cy="545.0" r="1.5" fill="#b3e296" stroke="#95d177" stroke-width="0.4"/><circle cx="371.5" cy="545.5" r="1.5" fill="#b3e296" stroke="#95d177" stroke-width="0.4"/><circle cx="369.0" cy="546.0" r="1.5" fill="#b3e296" stroke="#95d177" stroke-width="0.4"/><circle cx="366.5" cy="546.5" r="1.5" fill="#b3e296" stroke="#95d177" stroke-width="0.4"/><circle cx="364.0" cy="547.0" r="1.5" fill="#b3e296" stroke="#95d177" stroke-width="0.4"/><circle cx="364.0" cy="547.0" r="1.5" fill="#b3e296" stroke="#95d177" stroke-width="0.4"/><circle cx="364.0" cy="549.4" r="1.5" fill="#b3e296" stroke="#95d177" stroke-width="0.4"/><circle cx="364.0" cy="551.8" r="1.5" fill="#b3e296" stroke="#95d177" stroke-width="0.4"/><circle cx="364.0" cy="554.1" r="1.5" fill="#b3e296" stroke="#95d177" stroke-width="0.4"/><circle cx="364.0" cy="556.5" r="1.5" fill="#b3e296" stroke="#95d177" stroke-width="0.4"/><circle cx="364.0" cy="558.9" r="1.5" fill="#b3e296" stroke="#95d177" stroke-width="0.4"/><circle cx="364.0" cy="561.2" r="1.5" fill="#b3e296" stroke="#95d177" stroke-width="0.4"/><circle cx="364.0" cy="563.6" r="1.5" fill="#b3e296" stroke="#95d177" stroke-width="0.4"/><circle cx="364.0" cy="566.0" r="1.5" fill="#b3e296" stroke="#95d177" stroke-width="0.4"/>
<circle cx="392.0" cy="548.0" r="1.5" fill="#b3e296" stroke="#95d177" stroke-width="0.4"/><circle cx="393.2" cy="550.0" r="1.5" fill="#b3e296" stroke="#95d177" stroke-width="0.4"/><circle cx="394.4" cy="552.0" r="1.5" fill="#b3e296" stroke="#95d177" stroke-width="0.4"/><circle cx="395.6" cy="554.0" r="1.5" fill="#b3e296" stroke="#95d177" stroke-width="0.4"/><circle cx="396.8" cy="556.0" r="1.5" fill="#b3e296" stroke="#95d177" stroke-width="0.4"/><circle cx="398.0" cy="558.0" r="1.5" fill="#b3e296" stroke="#95d177" stroke-width="0.4"/><circle cx="398.0" cy="558.0" r="1.5" fill="#b3e296" stroke="#95d177" stroke-width="0.4"/><circle cx="398.3" cy="560.7" r="1.5" fill="#b3e296" stroke="#95d177" stroke-width="0.4"/><circle cx="398.7" cy="563.3" r="1.5" fill="#b3e296" stroke="#95d177" stroke-width="0.4"/><circle cx="399.0" cy="566.0" r="1.5" fill="#b3e296" stroke="#95d177" stroke-width="0.4"/>
<circle cx="423.5" cy="556.0" r="1.5" fill="#b3e296" stroke="#95d177" stroke-width="0.4"/><circle cx="423.5" cy="558.5" r="1.5" fill="#b3e296" stroke="#95d177" stroke-width="0.4"/><circle cx="423.5" cy="561.0" r="1.5" fill="#b3e296" stroke="#95d177" stroke-width="0.4"/><circle cx="423.5" cy="563.5" r="1.5" fill="#b3e296" stroke="#95d177" stroke-width="0.4"/><circle cx="423.5" cy="566.0" r="1.5" fill="#b3e296" stroke="#95d177" stroke-width="0.4"/>
<circle cx="455.0" cy="548.0" r="1.5" fill="#b3e296" stroke="#95d177" stroke-width="0.4"/><circle cx="453.6" cy="550.0" r="1.5" fill="#b3e296" stroke="#95d177" stroke-width="0.4"/><circle cx="452.2" cy="552.0" r="1.5" fill="#b3e296" stroke="#95d177" stroke-width="0.4"/><circle cx="450.8" cy="554.0" r="1.5" fill="#b3e296" stroke="#95d177" stroke-width="0.4"/><circle cx="449.4" cy="556.0" r="1.5" fill="#b3e296" stroke="#95d177" stroke-width="0.4"/><circle cx="448.0" cy="558.0" r="1.5" fill="#b3e296" stroke="#95d177" stroke-width="0.4"/><circle cx="448.0" cy="558.0" r="1.5" fill="#b3e296" stroke="#95d177" stroke-width="0.4"/><circle cx="447.3" cy="560.7" r="1.5" fill="#b3e296" stroke="#95d177" stroke-width="0.4"/><circle cx="446.7" cy="563.3" r="1.5" fill="#b3e296" stroke="#95d177" stroke-width="0.4"/><circle cx="446.0" cy="566.0" r="1.5" fill="#b3e296" stroke="#95d177" stroke-width="0.4"/>
<circle cx="479.0" cy="539.0" r="1.5" fill="#b3e296" stroke="#95d177" stroke-width="0.4"/><circle cx="480.6" cy="540.8" r="1.5" fill="#b3e296" stroke="#95d177" stroke-width="0.4"/><circle cx="482.2" cy="542.6" r="1.5" fill="#b3e296" stroke="#95d177" stroke-width="0.4"/><circle cx="483.8" cy="544.4" r="1.5" fill="#b3e296" stroke="#95d177" stroke-width="0.4"/><circle cx="485.4" cy="546.2" r="1.5" fill="#b3e296" stroke="#95d177" stroke-width="0.4"/><circle cx="487.0" cy="548.0" r="1.5" fill="#b3e296" stroke="#95d177" stroke-width="0.4"/><circle cx="487.0" cy="548.0" r="1.5" fill="#b3e296" stroke="#95d177" stroke-width="0.4"/><circle cx="489.0" cy="546.2" r="1.5" fill="#b3e296" stroke="#95d177" stroke-width="0.4"/><circle cx="491.0" cy="544.5" r="1.5" fill="#b3e296" stroke="#95d177" stroke-width="0.4"/><circle cx="493.0" cy="542.8" r="1.5" fill="#b3e296" stroke="#95d177" stroke-width="0.4"/><circle cx="495.0" cy="541.0" r="1.5" fill="#b3e296" stroke="#95d177" stroke-width="0.4"/>
<circle cx="487.0" cy="548.0" r="1.5" fill="#b3e296" stroke="#95d177" stroke-width="0.4"/><circle cx="487.0" cy="550.6" r="1.5" fill="#b3e296" stroke="#95d177" stroke-width="0.4"/><circle cx="487.0" cy="553.1" r="1.5" fill="#b3e296" stroke="#95d177" stroke-width="0.4"/><circle cx="487.0" cy="555.7" r="1.5" fill="#b3e296" stroke="#95d177" stroke-width="0.4"/><circle cx="487.0" cy="558.3" r="1.5" fill="#b3e296" stroke="#95d177" stroke-width="0.4"/><circle cx="487.0" cy="560.9" r="1.5" fill="#b3e296" stroke="#95d177" stroke-width="0.4"/><circle cx="487.0" cy="563.4" r="1.5" fill="#b3e296" stroke="#95d177" stroke-width="0.4"/><circle cx="487.0" cy="566.0" r="1.5" fill="#b3e296" stroke="#95d177" stroke-width="0.4"/>
<circle cx="521.5" cy="556.0" r="1.5" fill="#b3e296" stroke="#95d177" stroke-width="0.4"/><circle cx="521.5" cy="558.5" r="1.5" fill="#b3e296" stroke="#95d177" stroke-width="0.4"/><circle cx="521.5" cy="561.0" r="1.5" fill="#b3e296" stroke="#95d177" stroke-width="0.4"/><circle cx="521.5" cy="563.5" r="1.5" fill="#b3e296" stroke="#95d177" stroke-width="0.4"/><circle cx="521.5" cy="566.0" r="1.5" fill="#b3e296" stroke="#95d177" stroke-width="0.4"/>
<circle cx="355.0" cy="556.0" r="1.5" fill="#b3e296" stroke="#95d177" stroke-width="0.4"/><circle cx="354.2" cy="558.5" r="1.5" fill="#b3e296" stroke="#95d177" stroke-width="0.4"/><circle cx="353.5" cy="561.0" r="1.5" fill="#b3e296" stroke="#95d177" stroke-width="0.4"/><circle cx="352.8" cy="563.5" r="1.5" fill="#b3e296" stroke="#95d177" stroke-width="0.4"/><circle cx="352.0" cy="566.0" r="1.5" fill="#b3e296" stroke="#95d177" stroke-width="0.4"/>
<circle cx="410.0" cy="552.0" r="1.5" fill="#b3e296" stroke="#95d177" stroke-width="0.4"/><circle cx="410.3" cy="554.3" r="1.5" fill="#b3e296" stroke="#95d177" stroke-width="0.4"/><circle cx="410.7" cy="556.7" r="1.5" fill="#b3e296" stroke="#95d177" stroke-width="0.4"/><circle cx="411.0" cy="559.0" r="1.5" fill="#b3e296" stroke="#95d177" stroke-width="0.4"/><circle cx="411.3" cy="561.3" r="1.5" fill="#b3e296" stroke="#95d177" stroke-width="0.4"/><circle cx="411.7" cy="563.7" r="1.5" fill="#b3e296" stroke="#95d177" stroke-width="0.4"/><circle cx="412.0" cy="566.0" r="1.5" fill="#b3e296" stroke="#95d177" stroke-width="0.4"/>
<g transform="translate(150.0,556.0) rotate(65) scale(1.0)"><path d="M-12,0 L-8,-2 L-4,1 L0,-2 L4,1 L8,-2 L12,0" stroke="#4c8a3a" stroke-width="1.1" fill="none"/><path d="M-8,-2 L-8,-6 M0,-2 L0,-6 M8,-2 L8,-6 M-4,1 L-4,5 M4,1 L4,5" stroke="#4c8a3a" stroke-width="0.8"/><circle cx="-8" cy="-7" r="2.1" fill="#a4dd8c"/><circle cx="0" cy="-7" r="2.1" fill="#7ea6e0"/><circle cx="8" cy="-7" r="2.1" fill="#a4dd8c"/><circle cx="-4" cy="6" r="2.1" fill="#f5c242"/><circle cx="4" cy="6" r="2.1" fill="#f5c242"/><circle cx="-13" cy="1" r="2.1" fill="#7ea6e0"/><circle cx="13" cy="1" r="2.1" fill="#7ea6e0"/></g>
<g transform="translate(225.0,560.0) rotate(60) scale(1.0)"><path d="M-12,0 L-8,-2 L-4,1 L0,-2 L4,1 L8,-2 L12,0" stroke="#4c8a3a" stroke-width="1.1" fill="none"/><path d="M-8,-2 L-8,-6 M0,-2 L0,-6 M8,-2 L8,-6 M-4,1 L-4,5 M4,1 L4,5" stroke="#4c8a3a" stroke-width="0.8"/><circle cx="-8" cy="-7" r="2.1" fill="#a4dd8c"/><circle cx="0" cy="-7" r="2.1" fill="#7ea6e0"/><circle cx="8" cy="-7" r="2.1" fill="#a4dd8c"/><circle cx="-4" cy="6" r="2.1" fill="#f5c242"/><circle cx="4" cy="6" r="2.1" fill="#f5c242"/><circle cx="-13" cy="1" r="2.1" fill="#7ea6e0"/><circle cx="13" cy="1" r="2.1" fill="#7ea6e0"/></g>
<g transform="translate(260.0,545.0) rotate(10) scale(0.9)"><path d="M-12,0 L-8,-2 L-4,1 L0,-2 L4,1 L8,-2 L12,0" stroke="#4c8a3a" stroke-width="1.1" fill="none"/><path d="M-8,-2 L-8,-6 M0,-2 L0,-6 M8,-2 L8,-6 M-4,1 L-4,5 M4,1 L4,5" stroke="#4c8a3a" stroke-width="0.8"/><circle cx="-8" cy="-7" r="2.1" fill="#a4dd8c"/><circle cx="0" cy="-7" r="2.1" fill="#7ea6e0"/><circle cx="8" cy="-7" r="2.1" fill="#a4dd8c"/><circle cx="-4" cy="6" r="2.1" fill="#f5c242"/><circle cx="4" cy="6" r="2.1" fill="#f5c242"/><circle cx="-13" cy="1" r="2.1" fill="#7ea6e0"/><circle cx="13" cy="1" r="2.1" fill="#7ea6e0"/></g>
<g transform="translate(300.0,553.0) rotate(-50) scale(0.9)"><path d="M-12,0 L-8,-2 L-4,1 L0,-2 L4,1 L8,-2 L12,0" stroke="#4c8a3a" stroke-width="1.1" fill="none"/><path d="M-8,-2 L-8,-6 M0,-2 L0,-6 M8,-2 L8,-6 M-4,1 L-4,5 M4,1 L4,5" stroke="#4c8a3a" stroke-width="0.8"/><circle cx="-8" cy="-7" r="2.1" fill="#a4dd8c"/><circle cx="0" cy="-7" r="2.1" fill="#7ea6e0"/><circle cx="8" cy="-7" r="2.1" fill="#a4dd8c"/><circle cx="-4" cy="6" r="2.1" fill="#f5c242"/><circle cx="4" cy="6" r="2.1" fill="#f5c242"/><circle cx="-13" cy="1" r="2.1" fill="#7ea6e0"/><circle cx="13" cy="1" r="2.1" fill="#7ea6e0"/></g>
<g transform="translate(177.0,616.0) rotate(20) scale(0.9)"><path d="M-12,0 L-8,-2 L-4,1 L0,-2 L4,1 L8,-2 L12,0" stroke="#4c8a3a" stroke-width="1.1" fill="none"/><path d="M-8,-2 L-8,-6 M0,-2 L0,-6 M8,-2 L8,-6 M-4,1 L-4,5 M4,1 L4,5" stroke="#4c8a3a" stroke-width="0.8"/><circle cx="-8" cy="-7" r="2.1" fill="#a4dd8c"/><circle cx="0" cy="-7" r="2.1" fill="#7ea6e0"/><circle cx="8" cy="-7" r="2.1" fill="#a4dd8c"/><circle cx="-4" cy="6" r="2.1" fill="#f5c242"/><circle cx="4" cy="6" r="2.1" fill="#f5c242"/><circle cx="-13" cy="1" r="2.1" fill="#7ea6e0"/><circle cx="13" cy="1" r="2.1" fill="#7ea6e0"/></g>
<g transform="translate(243.0,593.0) rotate(70) scale(0.9)"><path d="M-12,0 L-8,-2 L-4,1 L0,-2 L4,1 L8,-2 L12,0" stroke="#4c8a3a" stroke-width="1.1" fill="none"/><path d="M-8,-2 L-8,-6 M0,-2 L0,-6 M8,-2 L8,-6 M-4,1 L-4,5 M4,1 L4,5" stroke="#4c8a3a" stroke-width="0.8"/><circle cx="-8" cy="-7" r="2.1" fill="#a4dd8c"/><circle cx="0" cy="-7" r="2.1" fill="#7ea6e0"/><circle cx="8" cy="-7" r="2.1" fill="#a4dd8c"/><circle cx="-4" cy="6" r="2.1" fill="#f5c242"/><circle cx="4" cy="6" r="2.1" fill="#f5c242"/><circle cx="-13" cy="1" r="2.1" fill="#7ea6e0"/><circle cx="13" cy="1" r="2.1" fill="#7ea6e0"/></g>
<g transform="translate(294.0,600.0) rotate(80) scale(0.9)"><path d="M-12,0 L-8,-2 L-4,1 L0,-2 L4,1 L8,-2 L12,0" stroke="#4c8a3a" stroke-width="1.1" fill="none"/><path d="M-8,-2 L-8,-6 M0,-2 L0,-6 M8,-2 L8,-6 M-4,1 L-4,5 M4,1 L4,5" stroke="#4c8a3a" stroke-width="0.8"/><circle cx="-8" cy="-7" r="2.1" fill="#a4dd8c"/><circle cx="0" cy="-7" r="2.1" fill="#7ea6e0"/><circle cx="8" cy="-7" r="2.1" fill="#a4dd8c"/><circle cx="-4" cy="6" r="2.1" fill="#f5c242"/><circle cx="4" cy="6" r="2.1" fill="#f5c242"/><circle cx="-13" cy="1" r="2.1" fill="#7ea6e0"/><circle cx="13" cy="1" r="2.1" fill="#7ea6e0"/></g>
<g transform="translate(327.0,631.0) rotate(-10) scale(0.9)"><path d="M-12,0 L-8,-2 L-4,1 L0,-2 L4,1 L8,-2 L12,0" stroke="#4c8a3a" stroke-width="1.1" fill="none"/><path d="M-8,-2 L-8,-6 M0,-2 L0,-6 M8,-2 L8,-6 M-4,1 L-4,5 M4,1 L4,5" stroke="#4c8a3a" stroke-width="0.8"/><circle cx="-8" cy="-7" r="2.1" fill="#a4dd8c"/><circle cx="0" cy="-7" r="2.1" fill="#7ea6e0"/><circle cx="8" cy="-7" r="2.1" fill="#a4dd8c"/><circle cx="-4" cy="6" r="2.1" fill="#f5c242"/><circle cx="4" cy="6" r="2.1" fill="#f5c242"/><circle cx="-13" cy="1" r="2.1" fill="#7ea6e0"/><circle cx="13" cy="1" r="2.1" fill="#7ea6e0"/></g>
<g transform="translate(368.0,546.0) rotate(60) scale(0.9)"><path d="M-12,0 L-8,-2 L-4,1 L0,-2 L4,1 L8,-2 L12,0" stroke="#4c8a3a" stroke-width="1.1" fill="none"/><path d="M-8,-2 L-8,-6 M0,-2 L0,-6 M8,-2 L8,-6 M-4,1 L-4,5 M4,1 L4,5" stroke="#4c8a3a" stroke-width="0.8"/><circle cx="-8" cy="-7" r="2.1" fill="#a4dd8c"/><circle cx="0" cy="-7" r="2.1" fill="#7ea6e0"/><circle cx="8" cy="-7" r="2.1" fill="#a4dd8c"/><circle cx="-4" cy="6" r="2.1" fill="#f5c242"/><circle cx="4" cy="6" r="2.1" fill="#f5c242"/><circle cx="-13" cy="1" r="2.1" fill="#7ea6e0"/><circle cx="13" cy="1" r="2.1" fill="#7ea6e0"/></g>
<g transform="translate(400.0,548.0) rotate(70) scale(0.9)"><path d="M-12,0 L-8,-2 L-4,1 L0,-2 L4,1 L8,-2 L12,0" stroke="#4c8a3a" stroke-width="1.1" fill="none"/><path d="M-8,-2 L-8,-6 M0,-2 L0,-6 M8,-2 L8,-6 M-4,1 L-4,5 M4,1 L4,5" stroke="#4c8a3a" stroke-width="0.8"/><circle cx="-8" cy="-7" r="2.1" fill="#a4dd8c"/><circle cx="0" cy="-7" r="2.1" fill="#7ea6e0"/><circle cx="8" cy="-7" r="2.1" fill="#a4dd8c"/><circle cx="-4" cy="6" r="2.1" fill="#f5c242"/><circle cx="4" cy="6" r="2.1" fill="#f5c242"/><circle cx="-13" cy="1" r="2.1" fill="#7ea6e0"/><circle cx="13" cy="1" r="2.1" fill="#7ea6e0"/></g>
<g transform="translate(435.0,558.0) rotate(70) scale(0.9)"><path d="M-12,0 L-8,-2 L-4,1 L0,-2 L4,1 L8,-2 L12,0" stroke="#4c8a3a" stroke-width="1.1" fill="none"/><path d="M-8,-2 L-8,-6 M0,-2 L0,-6 M8,-2 L8,-6 M-4,1 L-4,5 M4,1 L4,5" stroke="#4c8a3a" stroke-width="0.8"/><circle cx="-8" cy="-7" r="2.1" fill="#a4dd8c"/><circle cx="0" cy="-7" r="2.1" fill="#7ea6e0"/><circle cx="8" cy="-7" r="2.1" fill="#a4dd8c"/><circle cx="-4" cy="6" r="2.1" fill="#f5c242"/><circle cx="4" cy="6" r="2.1" fill="#f5c242"/><circle cx="-13" cy="1" r="2.1" fill="#7ea6e0"/><circle cx="13" cy="1" r="2.1" fill="#7ea6e0"/></g>
<g transform="translate(470.0,545.0) rotate(-40) scale(0.9)"><path d="M-12,0 L-8,-2 L-4,1 L0,-2 L4,1 L8,-2 L12,0" stroke="#4c8a3a" stroke-width="1.1" fill="none"/><path d="M-8,-2 L-8,-6 M0,-2 L0,-6 M8,-2 L8,-6 M-4,1 L-4,5 M4,1 L4,5" stroke="#4c8a3a" stroke-width="0.8"/><circle cx="-8" cy="-7" r="2.1" fill="#a4dd8c"/><circle cx="0" cy="-7" r="2.1" fill="#7ea6e0"/><circle cx="8" cy="-7" r="2.1" fill="#a4dd8c"/><circle cx="-4" cy="6" r="2.1" fill="#f5c242"/><circle cx="4" cy="6" r="2.1" fill="#f5c242"/><circle cx="-13" cy="1" r="2.1" fill="#7ea6e0"/><circle cx="13" cy="1" r="2.1" fill="#7ea6e0"/></g>
<g transform="translate(395.0,601.0) rotate(20) scale(0.9)"><path d="M-12,0 L-8,-2 L-4,1 L0,-2 L4,1 L8,-2 L12,0" stroke="#4c8a3a" stroke-width="1.1" fill="none"/><path d="M-8,-2 L-8,-6 M0,-2 L0,-6 M8,-2 L8,-6 M-4,1 L-4,5 M4,1 L4,5" stroke="#4c8a3a" stroke-width="0.8"/><circle cx="-8" cy="-7" r="2.1" fill="#a4dd8c"/><circle cx="0" cy="-7" r="2.1" fill="#7ea6e0"/><circle cx="8" cy="-7" r="2.1" fill="#a4dd8c"/><circle cx="-4" cy="6" r="2.1" fill="#f5c242"/><circle cx="4" cy="6" r="2.1" fill="#f5c242"/><circle cx="-13" cy="1" r="2.1" fill="#7ea6e0"/><circle cx="13" cy="1" r="2.1" fill="#7ea6e0"/></g>
<g transform="translate(475.0,606.0) rotate(40) scale(0.9)"><path d="M-12,0 L-8,-2 L-4,1 L0,-2 L4,1 L8,-2 L12,0" stroke="#4c8a3a" stroke-width="1.1" fill="none"/><path d="M-8,-2 L-8,-6 M0,-2 L0,-6 M8,-2 L8,-6 M-4,1 L-4,5 M4,1 L4,5" stroke="#4c8a3a" stroke-width="0.8"/><circle cx="-8" cy="-7" r="2.1" fill="#a4dd8c"/><circle cx="0" cy="-7" r="2.1" fill="#7ea6e0"/><circle cx="8" cy="-7" r="2.1" fill="#a4dd8c"/><circle cx="-4" cy="6" r="2.1" fill="#f5c242"/><circle cx="4" cy="6" r="2.1" fill="#f5c242"/><circle cx="-13" cy="1" r="2.1" fill="#7ea6e0"/><circle cx="13" cy="1" r="2.1" fill="#7ea6e0"/></g>
<g transform="translate(343.0,594.0) rotate(0) scale(0.9)"><path d="M-12,0 L-8,-2 L-4,1 L0,-2 L4,1 L8,-2 L12,0" stroke="#4c8a3a" stroke-width="1.1" fill="none"/><path d="M-8,-2 L-8,-6 M0,-2 L0,-6 M8,-2 L8,-6 M-4,1 L-4,5 M4,1 L4,5" stroke="#4c8a3a" stroke-width="0.8"/><circle cx="-8" cy="-7" r="2.1" fill="#a4dd8c"/><circle cx="0" cy="-7" r="2.1" fill="#7ea6e0"/><circle cx="8" cy="-7" r="2.1" fill="#a4dd8c"/><circle cx="-4" cy="6" r="2.1" fill="#f5c242"/><circle cx="4" cy="6" r="2.1" fill="#f5c242"/><circle cx="-13" cy="1" r="2.1" fill="#7ea6e0"/><circle cx="13" cy="1" r="2.1" fill="#7ea6e0"/></g>
<rect x="134.6" y="534.2" width="401.9" height="112.8" fill="none" stroke="#333" stroke-width="0.9" stroke-dasharray="3,2"/>
<path d="M134.6,647 L303.8,660.5 M536.5,647 L367.2,660.5" stroke="#333" stroke-width="0.9" stroke-dasharray="3,2" fill="none"/>
<polygon points="51.3,877.1 51.5,875.8 51.7,874.5 51.9,873.2 52.2,871.9 52.4,870.6 52.7,869.3 52.9,868.0 53.2,866.7 53.5,865.4 53.8,864.1 54.1,862.8 54.4,861.5 54.7,860.2 55.1,858.9 55.4,857.6 55.8,856.3 56.1,855.0 56.5,853.7 56.9,852.4 57.3,851.2 57.7,849.9 58.1,848.6 58.5,847.3 59.0,846.0 59.4,844.7 59.9,843.5 60.3,842.2 60.8,840.9 61.3,839.7 61.8,838.4 62.3,837.1 62.8,835.9 63.4,834.6 63.9,833.3 64.4,832.1 65.0,830.8 65.6,829.6 66.2,828.3 66.7,827.1 67.3,825.8 67.9,824.6 68.6,823.4 69.2,822.1 69.8,820.9 70.5,819.7 71.1,818.4 71.8,817.2 72.5,816.0 73.2,814.8 73.9,813.5 74.6,812.3 75.3,811.1 76.0,809.9 76.7,808.7 77.5,807.5 78.2,806.3 79.0,805.1 79.8,803.9 80.6,802.7 81.3,801.5 82.1,800.3 83.0,799.2 83.8,798.0 84.6,796.8 85.5,795.7 86.3,794.5 87.2,793.3 88.0,792.2 88.9,791.0 89.8,789.9 90.7,788.7 91.6,787.6 92.5,786.4 93.4,785.3 94.4,784.2 95.3,783.0 96.3,781.9 97.2,780.8 98.2,779.7 99.2,778.6 100.1,777.5 101.1,776.4 102.1,775.3 103.2,774.2 104.2,773.1 105.2,772.0 106.3,771.0 107.3,769.9 108.4,768.8 109.4,767.7 110.5,766.7 111.6,765.6 112.7,764.6 113.8,763.5 114.9,762.5 116.0,761.5 117.1,760.4 118.3,759.4 119.4,758.4 120.6,757.4 121.7,756.4 122.9,755.4 124.1,754.4 125.2,753.4 126.4,752.4 127.6,751.4 128.8,750.4 130.0,749.5 131.3,748.5 132.5,747.5 133.7,746.6 135.0,745.6 136.2,744.7 137.5,743.8 138.8,742.8 140.0,741.9 141.3,741.0 142.6,740.1 143.9,739.2 145.2,738.3 146.5,737.4 147.9,736.5 149.2,735.6 150.5,734.7 151.9,733.8 153.2,733.0 154.6,732.1 155.9,731.3 157.3,730.4 158.7,729.6 160.1,728.7 161.5,727.9 162.9,727.1 164.3,726.3 165.7,725.5 167.1,724.7 168.5,723.9 170.0,723.1 171.4,722.3 172.8,721.5 174.3,720.8 175.7,720.0 177.2,719.3 178.7,718.5 180.2,717.8 181.6,717.0 183.1,716.3 184.6,715.6 186.1,714.9 187.6,714.2 189.1,713.5 190.6,712.8 192.2,712.1 193.7,711.4 195.2,710.8 196.8,710.1 198.3,709.4 199.9,708.8 201.4,708.1 203.0,707.5 204.5,706.9 206.1,706.3 207.7,705.7 209.3,705.1 210.8,704.5 212.4,703.9 214.0,703.3 215.6,702.7 217.2,702.1 218.8,701.6 220.5,701.0 222.1,700.5 223.7,700.0 225.3,699.4 226.9,698.9 228.6,698.4 230.2,697.9 231.9,697.4 233.5,696.9 235.2,696.4 236.8,695.9 238.5,695.5 240.1,695.0 241.8,694.6 243.5,694.1 245.2,693.7 246.8,693.3 248.5,692.8 250.2,692.4 251.9,692.0 253.6,691.6 255.3,691.2 257.0,690.9 258.7,690.5 260.4,690.1 262.1,689.8 263.8,689.4 265.5,689.1 267.2,688.8 268.9,688.4 270.6,688.1 272.4,687.8 274.1,687.5 275.8,687.2 277.5,686.9 279.3,686.7 281.0,686.4 282.8,686.1 284.5,685.9 286.2,685.7 288.0,685.4 289.7,685.2 291.5,685.0 293.2,684.8 295.0,684.6 296.7,684.4 298.5,684.2 300.2,684.0 302.0,683.9 303.7,683.7 305.5,683.6 307.2,683.4 309.0,683.3 310.8,683.2 312.5,683.0 314.3,682.9 316.1,682.8 317.8,682.7 319.6,682.7 321.4,682.6 323.1,682.5 324.9,682.5 326.7,682.4 328.4,682.4 330.2,682.3 332.0,682.3 333.7,682.3 335.5,682.3 337.3,682.3 339.0,682.3 338.9,694.3 337.2,694.3 335.5,694.3 333.8,694.3 332.1,694.3 330.4,694.3 328.7,694.4 327.0,694.4 325.2,694.5 323.5,694.5 321.8,694.6 320.1,694.7 318.4,694.7 316.7,694.8 315.0,694.9 313.3,695.0 311.6,695.1 309.9,695.2 308.2,695.4 306.5,695.5 304.8,695.7 303.1,695.8 301.4,696.0 299.7,696.1 298.0,696.3 296.3,696.5 294.6,696.7 292.9,696.9 291.2,697.1 289.5,697.3 287.8,697.5 286.2,697.8 284.5,698.0 282.8,698.3 281.1,698.5 279.4,698.8 277.8,699.1 276.1,699.3 274.4,699.6 272.8,699.9 271.1,700.2 269.5,700.5 267.8,700.9 266.1,701.2 264.5,701.5 262.8,701.9 261.2,702.2 259.6,702.6 257.9,702.9 256.3,703.3 254.6,703.7 253.0,704.1 251.4,704.5 249.8,704.9 248.1,705.3 246.5,705.7 244.9,706.2 243.3,706.6 241.7,707.0 240.1,707.5 238.5,707.9 236.9,708.4 235.3,708.9 233.7,709.4 232.1,709.8 230.6,710.3 229.0,710.8 227.4,711.4 225.9,711.9 224.3,712.4 222.8,712.9 221.2,713.5 219.7,714.0 218.1,714.6 216.6,715.1 215.0,715.7 213.5,716.3 212.0,716.9 210.5,717.4 209.0,718.0 207.5,718.6 206.0,719.3 204.5,719.9 203.0,720.5 201.5,721.1 200.0,721.8 198.5,722.4 197.1,723.1 195.6,723.7 194.1,724.4 192.7,725.1 191.2,725.7 189.8,726.4 188.4,727.1 186.9,727.8 185.5,728.5 184.1,729.2 182.7,729.9 181.3,730.7 179.9,731.4 178.5,732.1 177.1,732.9 175.7,733.6 174.3,734.4 173.0,735.1 171.6,735.9 170.3,736.7 168.9,737.5 167.6,738.3 166.2,739.0 164.9,739.8 163.6,740.6 162.3,741.5 161.0,742.3 159.7,743.1 158.4,743.9 157.1,744.8 155.8,745.6 154.5,746.4 153.3,747.3 152.0,748.2 150.8,749.0 149.5,749.9 148.3,750.8 147.1,751.6 145.8,752.5 144.6,753.4 143.4,754.3 142.2,755.2 141.0,756.1 139.9,757.0 138.7,757.9 137.5,758.9 136.3,759.8 135.2,760.7 134.1,761.7 132.9,762.6 131.8,763.5 130.7,764.5 129.6,765.4 128.5,766.4 127.4,767.4 126.3,768.3 125.2,769.3 124.1,770.3 123.1,771.3 122.0,772.3 121.0,773.3 119.9,774.3 118.9,775.3 117.9,776.3 116.9,777.3 115.9,778.3 114.9,779.3 113.9,780.3 112.9,781.4 111.9,782.4 111.0,783.4 110.0,784.5 109.1,785.5 108.1,786.6 107.2,787.6 106.3,788.7 105.4,789.7 104.5,790.8 103.6,791.8 102.7,792.9 101.8,794.0 101.0,795.1 100.1,796.1 99.3,797.2 98.4,798.3 97.6,799.4 96.8,800.5 96.0,801.6 95.2,802.7 94.4,803.8 93.6,804.9 92.8,806.0 92.1,807.1 91.3,808.2 90.6,809.3 89.8,810.5 89.1,811.6 88.4,812.7 87.7,813.8 87.0,815.0 86.3,816.1 85.6,817.2 84.9,818.4 84.3,819.5 83.6,820.7 83.0,821.8 82.3,823.0 81.7,824.1 81.1,825.3 80.5,826.4 79.9,827.6 79.3,828.7 78.7,829.9 78.1,831.1 77.6,832.2 77.0,833.4 76.5,834.6 76.0,835.7 75.4,836.9 74.9,838.1 74.4,839.3 73.9,840.5 73.4,841.6 73.0,842.8 72.5,844.0 72.0,845.2 71.6,846.4 71.2,847.6 70.7,848.8 70.3,850.0 69.9,851.1 69.5,852.3 69.1,853.5 68.7,854.7 68.4,855.9 68.0,857.1 67.7,858.3 67.3,859.5 67.0,860.7 66.7,861.9 66.4,863.2 66.0,864.4 65.8,865.6 65.5,866.8 65.2,868.0 64.9,869.2 64.7,870.4 64.4,871.6 64.2,872.8 64.0,874.0 63.8,875.3 63.5,876.5 63.3,877.7 63.2,878.9" fill="#fcefe9"/>
<path d="M52.3,877.2L56.8,877.9M57.8,878.0L62.2,878.7M52.7,874.6L57.2,875.3M58.2,875.5L62.6,876.2M53.2,872.0L57.7,872.8M58.7,873.0L63.0,873.8M53.7,869.3L58.2,870.2M59.2,870.4L63.5,871.2M54.2,866.7L58.7,867.6M59.7,867.9L64.0,868.8M54.8,864.1L59.3,865.1M60.3,865.4L64.5,866.4M55.4,861.5L59.9,862.6M60.9,862.9L65.1,863.9M56.1,858.8L60.6,860.0M61.5,860.3L65.8,861.4M56.8,856.3L61.2,857.5M62.2,857.8L66.4,859.0M57.6,853.7L62.0,855.0M62.9,855.3L67.1,856.6M58.3,851.1L62.7,852.5M63.7,852.8L67.9,854.1M59.2,848.6L63.5,850.0M64.5,850.4L68.7,851.7M60.0,846.0L64.4,847.6M65.3,847.9L69.5,849.3M60.9,843.5L65.3,845.1M66.2,845.4L70.3,846.9M61.8,841.1L66.1,842.7M67.1,843.1L71.2,844.6M62.8,838.6L67.1,840.3M68.0,840.6L72.1,842.3M63.8,836.0L68.1,837.8M69.0,838.2L73.1,839.9M64.9,833.6L69.1,835.5M70.0,835.9L74.0,837.6M66.0,831.1L70.2,833.0M71.1,833.4L75.1,835.2M67.1,828.8L71.2,830.7M72.1,831.1L76.1,833.0M68.2,826.4L72.3,828.4M73.2,828.8L77.2,830.7M69.4,823.9L73.5,826.0M74.4,826.4L78.3,828.4M70.6,821.5L74.7,823.7M75.6,824.1L79.5,826.2M71.9,819.2L75.9,821.4M76.8,821.8L80.7,823.9M73.1,816.8L77.2,819.1M78.0,819.6L81.9,821.7M74.4,814.5L78.4,816.8M79.3,817.3L83.1,819.5M75.8,812.2L79.8,814.5M80.6,815.0L84.4,817.3M77.1,810.0L81.1,812.4M81.9,812.9L85.7,815.2M78.5,807.7L82.4,810.1M83.3,810.7L87.0,813.0M80.0,805.4L83.9,807.9M84.7,808.4L88.4,810.8M81.4,803.2L85.3,805.8M86.1,806.3L89.8,808.7M82.9,801.0L86.7,803.6M87.6,804.1L91.2,806.6M84.4,798.8L88.2,801.4M89.0,802.0L92.6,804.5M86.0,796.7L89.7,799.3M90.5,799.9L94.1,802.5M87.6,794.4L91.3,797.2M92.1,797.8L95.6,800.4M89.2,792.3L92.8,795.1M93.6,795.7L97.1,798.4M90.8,790.2L94.4,793.0M95.2,793.6L98.7,796.3M92.4,788.1L96.0,791.0M96.8,791.6L100.3,794.4M94.1,786.1L97.6,789.0M98.4,789.7L101.8,792.5M95.8,784.1L99.3,787.0M100.1,787.6L103.4,790.5M97.5,782.0L101.0,785.0M101.8,785.6L105.1,788.5M99.3,780.0L102.7,783.0M103.5,783.7L106.8,786.6M101.0,778.0L104.4,781.1M105.2,781.8L108.4,784.7M102.8,776.0L106.2,779.1M107.0,779.8L110.2,782.8M104.6,774.1L108.0,777.3M108.7,777.9L111.9,781.0M106.4,772.2L109.7,775.4M110.5,776.1L113.6,779.1M108.4,770.2L111.6,773.5M112.3,774.2L115.5,777.3M110.2,768.4L113.5,771.6M114.2,772.4L117.3,775.5M112.1,766.5L115.3,769.8M116.0,770.5L119.1,773.7M114.0,764.7L117.2,768.0M117.9,768.7L120.9,771.9M116.0,762.9L119.1,766.2M119.8,767.0L122.8,770.2M117.9,761.1L121.0,764.5M121.7,765.2L124.7,768.5M119.8,759.3L122.9,762.8M123.6,763.5L126.5,766.8M121.9,757.6L124.9,761.0M125.5,761.8L128.4,765.1M123.9,755.8L126.9,759.3M127.5,760.1L130.4,763.4M125.9,754.1L128.8,757.7M129.5,758.4L132.3,761.8M128.0,752.4L130.9,756.0M131.5,756.8L134.3,760.2M130.0,750.8L132.9,754.4M133.5,755.2L136.2,758.6M132.1,749.1L135.0,752.7M135.6,753.5L138.3,757.0M134.2,747.5L137.0,751.1M137.6,751.9L140.3,755.4M136.3,745.9L139.0,749.6M139.6,750.4L142.3,753.9M138.4,744.3L141.1,748.0M141.7,748.8L144.3,752.4M140.5,742.8L143.2,746.5M143.8,747.3L146.4,750.9M142.7,741.2L145.3,745.0M145.9,745.8L148.5,749.4M144.9,739.7L147.5,743.5M148.0,744.3L150.5,748.0M147.1,738.2L149.6,742.0M150.2,742.9L152.7,746.5M149.3,736.7L151.8,740.6M152.4,741.4L154.8,745.1M151.5,735.3L154.0,739.1M154.6,740.0L157.0,743.7M153.8,733.8L156.2,737.7M156.8,738.5L159.1,742.3M155.9,732.5L158.4,736.4M158.9,737.2L161.2,740.9M158.2,731.0L160.6,735.0M161.1,735.8L163.4,739.6M160.4,729.7L162.8,733.7M163.3,734.5L165.6,738.3M162.8,728.3L165.1,732.3M165.6,733.2L167.8,736.9M165.0,727.0L167.3,731.0M167.8,731.9L170.0,735.7M167.4,725.7L169.6,729.7M170.1,730.6L172.3,734.4M169.6,724.4L171.9,728.4M172.3,729.3L174.5,733.2M171.9,723.2L174.1,727.2M174.6,728.1L176.7,732.0M174.3,721.9L176.5,725.9M177.0,726.8L179.0,730.7M176.7,720.7L178.8,724.7M179.2,725.6L181.3,729.5M179.0,719.5L181.1,723.6M181.5,724.5L183.5,728.4M181.4,718.3L183.4,722.4M183.9,723.3L185.8,727.2M183.7,717.1L185.7,721.3M186.2,722.2L188.1,726.1M186.1,716.0L188.1,720.1M188.5,721.0L190.4,725.0M188.5,714.9L190.5,719.0M190.9,719.9L192.7,723.9M190.9,713.7L192.8,717.9M193.2,718.9L195.1,722.9M193.4,712.7L195.2,716.9M195.6,717.8L197.4,721.8M195.7,711.6L197.5,715.9M197.9,716.8L199.7,720.8M198.1,710.6L199.9,714.8M200.3,715.7L202.0,719.8M200.6,709.6L202.4,713.8M202.8,714.7L204.4,718.8M203.1,708.5L204.8,712.8M205.2,713.7L206.8,717.8M205.5,707.6L207.2,711.9M207.5,712.8L209.1,716.9M208.0,706.6L209.6,710.9M210.0,711.8L211.6,715.9M210.4,705.7L212.0,710.0M212.3,710.9L213.9,715.1M212.9,704.8L214.5,709.1M214.8,710.0L216.4,714.1M215.3,703.9L216.9,708.2M217.2,709.2L218.7,713.3M217.9,703.0L219.4,707.3M219.7,708.3L221.2,712.4M220.3,702.1L221.8,706.5M222.1,707.4L223.5,711.6M222.9,701.3L224.4,705.6M224.7,706.6L226.1,710.8M225.4,700.5L226.8,704.8M227.1,705.8L228.4,710.0M227.8,699.7L229.2,704.1M229.5,705.0L230.8,709.2M230.4,698.9L231.8,703.3M232.1,704.2L233.4,708.4M232.9,698.1L234.3,702.5M234.5,703.5L235.8,707.7M235.4,697.4L236.7,701.8M237.0,702.8L238.2,707.0M238.0,696.7L239.2,701.1M239.5,702.0L240.7,706.3M240.6,695.9L241.8,700.4M242.1,701.3L243.2,705.6M243.1,695.2L244.3,699.7M244.6,700.7L245.7,704.9M245.7,694.6L246.8,699.0M247.1,700.0L248.2,704.3M248.2,693.9L249.3,698.4M249.6,699.4L250.6,703.6M250.8,693.3L251.8,697.8M252.1,698.8L253.1,703.0M253.3,692.7L254.4,697.2M254.6,698.2L255.6,702.4M255.9,692.1L256.9,696.6M257.1,697.6L258.1,701.9M258.5,691.6L259.4,696.0M259.7,697.0L260.6,701.3M261.0,691.0L262.0,695.5M262.2,696.5L263.1,700.8M263.6,690.5L264.5,695.0M264.7,696.0L265.6,700.3M266.2,690.0L267.1,694.5M267.3,695.5L268.1,699.8M268.8,689.5L269.7,694.0M269.9,695.0L270.7,699.3M271.4,689.0L272.2,693.5M272.4,694.5L273.2,698.8M274.1,688.5L274.8,693.1M275.0,694.1L275.7,698.4M276.7,688.1L277.4,692.6M277.6,693.6L278.3,698.0M279.2,687.7L279.9,692.2M280.0,693.2L280.7,697.6M281.8,687.3L282.5,691.8M282.6,692.8L283.3,697.2M284.4,686.9L285.1,691.5M285.2,692.5L285.8,696.8M287.1,686.6L287.7,691.1M287.8,692.1L288.4,696.5M289.7,686.2L290.3,690.8M290.4,691.8L291.0,696.1M292.2,685.9L292.8,690.5M292.9,691.5L293.4,695.8M294.9,685.6L295.4,690.2M295.5,691.2L296.0,695.5M297.5,685.3L298.0,689.9M298.1,690.9L298.6,695.3M300.2,685.0L300.6,689.6M300.7,690.6L301.1,695.0M302.7,684.8L303.1,689.4M303.2,690.4L303.6,694.8M305.4,684.6L305.7,689.2M305.8,690.1L306.2,694.5M308.0,684.4L308.4,688.9M308.4,689.9L308.8,694.3M310.7,684.2L311.0,688.8M311.1,689.8L311.4,694.1M313.2,684.0L313.5,688.6M313.6,689.6L313.8,694.0M315.9,683.8L316.1,688.4M316.2,689.4L316.4,693.8M318.6,683.7L318.8,688.3M318.8,689.3L319.0,693.7M321.1,683.6L321.3,688.2M321.3,689.2L321.5,693.6M323.8,683.5L323.9,688.1M324.0,689.1L324.1,693.5M326.5,683.4L326.6,688.0M326.6,689.0L326.7,693.4M329.0,683.4L329.1,688.0M329.1,689.0L329.2,693.4M331.7,683.3L331.7,687.9M331.8,688.9L331.8,693.3M334.4,683.3L334.4,687.9M334.4,688.9L334.4,693.3M336.9,683.3L336.9,687.9M336.9,688.9L336.9,693.3" stroke="#eeb196" stroke-width="0.85" fill="none"/>
<polygon points="339.0,682.3 340.8,682.3 342.5,682.4 344.3,682.4 346.1,682.4 347.8,682.5 349.6,682.5 351.3,682.6 353.1,682.7 354.8,682.8 356.6,682.9 358.3,683.0 360.1,683.1 361.8,683.2 363.6,683.3 365.3,683.5 367.1,683.6 368.8,683.8 370.6,683.9 372.3,684.1 374.0,684.3 375.8,684.4 377.5,684.6 379.3,684.8 381.0,685.0 382.7,685.3 384.5,685.5 386.2,685.7 387.9,686.0 389.6,686.2 391.4,686.5 393.1,686.7 394.8,687.0 396.5,687.3 398.2,687.6 399.9,687.9 401.7,688.2 403.4,688.5 405.1,688.8 406.8,689.1 408.5,689.5 410.2,689.8 411.9,690.2 413.6,690.5 415.2,690.9 416.9,691.3 418.6,691.7 420.3,692.1 422.0,692.5 423.6,692.9 425.3,693.3 427.0,693.7 428.6,694.1 430.3,694.6 431.9,695.0 433.6,695.5 435.2,696.0 436.9,696.4 438.5,696.9 440.2,697.4 441.8,697.9 443.4,698.4 445.0,698.9 446.7,699.4 448.3,699.9 449.9,700.5 451.5,701.0 453.1,701.6 454.7,702.1 456.3,702.7 457.9,703.2 459.4,703.8 461.0,704.4 462.6,705.0 464.2,705.6 465.7,706.2 467.3,706.8 468.8,707.4 470.4,708.1 471.9,708.7 473.5,709.3 475.0,710.0 476.5,710.7 478.1,711.3 479.6,712.0 481.1,712.7 482.6,713.3 484.1,714.0 485.6,714.7 487.1,715.4 488.6,716.2 490.0,716.9 491.5,717.6 493.0,718.3 494.4,719.1 495.9,719.8 497.3,720.6 498.8,721.3 500.2,722.1 501.6,722.9 503.1,723.7 504.5,724.4 505.9,725.2 507.3,726.0 508.7,726.8 510.1,727.7 511.5,728.5 512.8,729.3 514.2,730.1 515.6,731.0 516.9,731.8 518.3,732.7 519.6,733.5 521.0,734.4 522.3,735.3 523.6,736.1 524.9,737.0 526.2,737.9 527.5,738.8 528.8,739.7 530.1,740.6 531.4,741.5 532.7,742.4 533.9,743.3 535.2,744.3 536.4,745.2 537.7,746.1 538.9,747.1 540.1,748.0 541.4,749.0 542.6,750.0 543.8,750.9 545.0,751.9 546.1,752.9 547.3,753.9 548.5,754.8 549.7,755.8 550.8,756.8 552.0,757.8 553.1,758.8 554.2,759.9 555.4,760.9 556.5,761.9 557.6,762.9 558.7,764.0 559.8,765.0 560.8,766.0 561.9,767.1 563.0,768.1 564.0,769.2 565.1,770.3 566.1,771.3 567.1,772.4 568.2,773.5 569.2,774.6 570.2,775.6 571.2,776.7 572.2,777.8 573.1,778.9 574.1,780.0 575.1,781.1 576.0,782.2 577.0,783.4 577.9,784.5 578.8,785.6 579.7,786.7 580.6,787.9 581.5,789.0 582.4,790.1 583.3,791.3 584.2,792.4 585.0,793.6 585.9,794.7 586.7,795.9 587.5,797.0 588.4,798.2 589.2,799.4 590.0,800.5 590.8,801.7 591.6,802.9 592.3,804.1 593.1,805.3 593.9,806.4 594.6,807.6 595.3,808.8 596.1,810.0 596.8,811.2 597.5,812.4 598.2,813.6 598.9,814.9 599.6,816.1 600.2,817.3 600.9,818.5 601.6,819.7 602.2,820.9 602.8,822.2 603.5,823.4 604.1,824.6 604.7,825.9 605.3,827.1 605.8,828.3 606.4,829.6 607.0,830.8 607.5,832.1 608.1,833.3 608.6,834.6 609.1,835.8 609.7,837.1 610.2,838.3 610.7,839.6 611.1,840.8 611.6,842.1 612.1,843.4 612.5,844.6 613.0,845.9 613.4,847.2 613.8,848.4 614.3,849.7 614.7,851.0 615.1,852.3 615.4,853.5 615.8,854.8 616.2,856.1 616.5,857.4 616.9,858.7 617.2,860.0 617.5,861.2 617.9,862.5 618.2,863.8 618.5,865.1 618.7,866.4 619.0,867.7 619.3,869.0 619.5,870.3 619.8,871.6 620.0,872.9 620.2,874.2 620.5,875.5 620.7,876.8 620.8,878.1 621.0,879.4 609.1,881.0 609.0,879.8 608.8,878.6 608.6,877.4 608.4,876.2 608.2,875.0 608.0,873.8 607.8,872.5 607.5,871.3 607.3,870.1 607.0,868.9 606.7,867.7 606.5,866.5 606.2,865.3 605.9,864.1 605.6,862.9 605.3,861.7 605.0,860.5 604.6,859.4 604.3,858.2 603.9,857.0 603.6,855.8 603.2,854.6 602.8,853.4 602.4,852.2 602.1,851.0 601.6,849.8 601.2,848.7 600.8,847.5 600.4,846.3 599.9,845.1 599.5,843.9 599.0,842.8 598.5,841.6 598.1,840.4 597.6,839.2 597.1,838.1 596.6,836.9 596.0,835.7 595.5,834.6 595.0,833.4 594.4,832.2 593.9,831.1 593.3,829.9 592.7,828.8 592.1,827.6 591.6,826.5 591.0,825.3 590.3,824.2 589.7,823.0 589.1,821.9 588.5,820.8 587.8,819.6 587.1,818.5 586.5,817.4 585.8,816.2 585.1,815.1 584.4,814.0 583.7,812.9 583.0,811.7 582.3,810.6 581.6,809.5 580.8,808.4 580.1,807.3 579.3,806.2 578.5,805.1 577.8,804.0 577.0,802.9 576.2,801.8 575.4,800.7 574.6,799.6 573.8,798.6 572.9,797.5 572.1,796.4 571.2,795.3 570.4,794.3 569.5,793.2 568.6,792.1 567.8,791.1 566.9,790.0 566.0,789.0 565.1,787.9 564.1,786.9 563.2,785.8 562.3,784.8 561.3,783.8 560.4,782.7 559.4,781.7 558.5,780.7 557.5,779.7 556.5,778.7 555.5,777.7 554.5,776.6 553.5,775.6 552.5,774.6 551.5,773.7 550.4,772.7 549.4,771.7 548.3,770.7 547.3,769.7 546.2,768.8 545.1,767.8 544.0,766.8 542.9,765.9 541.8,764.9 540.7,764.0 539.6,763.0 538.5,762.1 537.4,761.2 536.2,760.2 535.1,759.3 533.9,758.4 532.8,757.5 531.6,756.6 530.4,755.7 529.2,754.8 528.0,753.9 526.8,753.0 525.6,752.1 524.4,751.3 523.2,750.4 522.0,749.5 520.7,748.7 519.5,747.8 518.2,747.0 517.0,746.1 515.7,745.3 514.4,744.4 513.2,743.6 511.9,742.8 510.6,742.0 509.3,741.2 508.0,740.4 506.7,739.6 505.3,738.8 504.0,738.0 502.7,737.2 501.3,736.4 500.0,735.7 498.6,734.9 497.3,734.2 495.9,733.4 494.5,732.7 493.2,731.9 491.8,731.2 490.4,730.5 489.0,729.8 487.6,729.1 486.2,728.4 484.8,727.7 483.3,727.0 481.9,726.3 480.5,725.6 479.0,724.9 477.6,724.3 476.2,723.6 474.7,722.9 473.2,722.3 471.8,721.7 470.3,721.0 468.8,720.4 467.3,719.8 465.9,719.2 464.4,718.6 462.9,718.0 461.4,717.4 459.9,716.8 458.3,716.2 456.8,715.6 455.3,715.1 453.8,714.5 452.3,714.0 450.7,713.4 449.2,712.9 447.6,712.4 446.1,711.9 444.5,711.3 443.0,710.8 441.4,710.3 439.8,709.8 438.3,709.4 436.7,708.9 435.1,708.4 433.5,708.0 432.0,707.5 430.4,707.0 428.8,706.6 427.2,706.2 425.6,705.8 424.0,705.3 422.4,704.9 420.7,704.5 419.1,704.1 417.5,703.7 415.9,703.4 414.3,703.0 412.6,702.6 411.0,702.3 409.4,701.9 407.7,701.6 406.1,701.2 404.5,700.9 402.8,700.6 401.2,700.3 399.5,700.0 397.9,699.7 396.2,699.4 394.6,699.1 392.9,698.8 391.2,698.6 389.6,698.3 387.9,698.1 386.2,697.8 384.6,697.6 382.9,697.4 381.2,697.2 379.5,696.9 377.9,696.7 376.2,696.6 374.5,696.4 372.8,696.2 371.1,696.0 369.4,695.9 367.8,695.7 366.1,695.6 364.4,695.4 362.7,695.3 361.0,695.2 359.3,695.1 357.6,694.9 355.9,694.9 354.2,694.8 352.5,694.7 350.8,694.6 349.1,694.5 347.4,694.5 345.7,694.4 344.0,694.4 342.3,694.4 340.6,694.3 338.9,694.3" fill="#eef8e8"/>
<path d="M339.2,683.3L339.1,687.9M339.1,688.9L339.1,693.3M341.7,683.3L341.6,687.9M341.6,688.9L341.5,693.3M344.4,683.4L344.2,688.0M344.2,689.0L344.1,693.4M347.0,683.5L346.9,688.1M346.8,689.1L346.7,693.5M349.7,683.6L349.5,688.1M349.5,689.1L349.3,693.5M352.3,683.7L352.1,688.3M352.1,689.3L351.9,693.6M354.8,683.8L354.6,688.4M354.6,689.4L354.3,693.8M357.5,683.9L357.2,688.5M357.2,689.5L356.9,693.9M360.2,684.1L359.9,688.7M359.8,689.7L359.5,694.1M362.8,684.3L362.5,688.9M362.4,689.9L362.1,694.2M365.5,684.5L365.1,689.1M365.0,690.1L364.7,694.4M368.1,684.7L367.7,689.3M367.6,690.3L367.2,694.7M370.6,684.9L370.2,689.5M370.1,690.5L369.7,694.9M373.2,685.2L372.8,689.8M372.7,690.7L372.2,695.1M375.9,685.5L375.4,690.0M375.3,691.0L374.8,695.4M378.5,685.7L378.0,690.3M377.9,691.3L377.4,695.7M381.1,686.1L380.6,690.6M380.5,691.6L379.9,696.0M383.8,686.4L383.2,691.0M383.0,691.9L382.5,696.3M386.4,686.7L385.8,691.3M385.6,692.3L385.0,696.7M389.0,687.1L388.4,691.7M388.2,692.7L387.6,697.0M391.6,687.5L390.9,692.1M390.8,693.0L390.1,697.4M394.2,687.9L393.5,692.5M393.3,693.4L392.7,697.8M396.8,688.3L396.1,692.9M395.9,693.9L395.2,698.2M399.4,688.8L398.6,693.3M398.5,694.3L397.7,698.6M402.0,689.3L401.2,693.8M401.0,694.8L400.2,699.1M404.6,689.7L403.7,694.3M403.6,695.2L402.7,699.6M407.2,690.2L406.3,694.7M406.1,695.7L405.2,700.0M409.8,690.8L408.8,695.3M408.6,696.2L407.7,700.6M412.3,691.3L411.4,695.8M411.2,696.8L410.2,701.1M414.9,691.9L413.9,696.3M413.7,697.3L412.7,701.6M417.4,692.4L416.4,696.9M416.2,697.9L415.2,702.2M420.1,693.0L419.1,697.5M418.8,698.5L417.8,702.8M422.7,693.7L421.6,698.1M421.3,699.1L420.3,703.4M425.2,694.3L424.1,698.8M423.8,699.7L422.7,704.0M427.7,694.9L426.5,699.4M426.3,700.4L425.2,704.6M430.4,695.6L429.2,700.1M428.9,701.0L427.8,705.3M432.9,696.3L431.6,700.8M431.4,701.7L430.2,706.0M435.4,697.0L434.1,701.4M433.8,702.4L432.6,706.6M438.0,697.8L436.7,702.2M436.4,703.2L435.2,707.4M440.5,698.5L439.1,702.9M438.8,703.9L437.6,708.1M442.9,699.3L441.6,703.7M441.3,704.6L440.0,708.8M445.5,700.1L444.1,704.5M443.8,705.4L442.5,709.6M448.0,700.9L446.5,705.3M446.2,706.2L444.8,710.4M450.5,701.7L449.1,706.1M448.7,707.0L447.3,711.2M453.0,702.6L451.5,706.9M451.1,707.9L449.7,712.0M455.5,703.5L454.0,707.8M453.6,708.7L452.2,712.9M458.0,704.4L456.5,708.7M456.1,709.6L454.6,713.8M460.4,705.2L458.8,709.6M458.5,710.5L456.9,714.6M462.9,706.2L461.3,710.5M460.9,711.4L459.4,715.5M465.4,707.2L463.8,711.4M463.4,712.4L461.8,716.5M467.8,708.1L466.1,712.4M465.7,713.3L464.1,717.4M470.3,709.1L468.5,713.3M468.1,714.3L466.5,718.3M472.7,710.1L470.9,714.4M470.6,715.3L468.9,719.3M475.2,711.1L473.4,715.4M473.0,716.3L471.2,720.3M477.6,712.2L475.7,716.4M475.3,717.3L473.6,721.4M480.0,713.3L478.1,717.5M477.7,718.4L475.9,722.4M482.4,714.4L480.5,718.5M480.1,719.5L478.2,723.5M484.8,715.5L482.9,719.6M482.4,720.5L480.6,724.5M487.2,716.6L485.2,720.8M484.8,721.7L482.9,725.6M489.5,717.7L487.5,721.9M487.1,722.8L485.1,726.7M491.9,718.9L489.8,723.0M489.4,723.9L487.4,727.9M494.3,720.1L492.2,724.2M491.8,725.1L489.8,729.0M496.6,721.3L494.5,725.4M494.1,726.3L492.0,730.2M498.9,722.6L496.8,726.6M496.3,727.5L494.2,731.4M501.3,723.9L499.1,727.9M498.7,728.8L496.5,732.6M503.6,725.1L501.4,729.1M500.9,730.0L498.7,733.8M506.0,726.4L503.7,730.4M503.2,731.3L501.0,735.1M508.2,727.7L505.9,731.7M505.4,732.6L503.2,736.4M510.5,729.1L508.2,733.0M507.7,733.9L505.4,737.7M512.7,730.4L510.3,734.3M509.8,735.2L507.5,738.9M515.0,731.8L512.6,735.7M512.1,736.6L509.7,740.3M517.3,733.2L514.8,737.1M514.3,737.9L511.9,741.7M519.5,734.6L517.0,738.5M516.5,739.3L514.1,743.0M521.7,736.1L519.2,739.9M518.7,740.8L516.3,744.4M524.0,737.6L521.4,741.4M520.8,742.2L518.4,745.9M526.1,739.0L523.5,742.8M523.0,743.7L520.5,747.3M528.3,740.5L525.7,744.3M525.1,745.1L522.6,748.7M530.5,742.1L527.8,745.8M527.2,746.6L524.6,750.2M532.6,743.6L529.9,747.3M529.3,748.1L526.7,751.7M534.7,745.1L531.9,748.8M531.4,749.6L528.7,753.2M536.9,746.8L534.1,750.4M533.5,751.2L530.8,754.7M538.9,748.4L536.1,752.0M535.5,752.8L532.8,756.3M541.1,750.0L538.2,753.6M537.6,754.4L534.9,757.9M543.1,751.7L540.2,755.2M539.6,756.0L536.8,759.4M545.2,753.4L542.3,756.9M541.6,757.7L538.8,761.1M547.2,755.0L544.2,758.5M543.5,759.3L540.7,762.7M549.2,756.7L546.2,760.2M545.5,761.0L542.7,764.3M551.2,758.5L548.2,762.0M547.5,762.7L544.6,766.0M553.2,760.3L550.1,763.7M549.5,764.4L546.5,767.7M555.2,762.1L552.1,765.4M551.4,766.2L548.4,769.4M557.1,763.9L554.0,767.2M553.3,767.9L550.3,771.2M559.0,765.7L555.8,769.0M555.1,769.7L552.1,772.9M560.9,767.5L557.7,770.8M557.0,771.5L553.9,774.7M562.9,769.4L559.6,772.7M558.9,773.4L555.8,776.5M564.7,771.3L561.4,774.5M560.7,775.2L557.5,778.3M566.5,773.2L563.2,776.4M562.4,777.0L559.3,780.1M568.4,775.2L565.0,778.3M564.3,779.0L561.0,782.0M570.1,777.1L566.7,780.2M566.0,780.8L562.7,783.8M571.9,779.1L568.5,782.1M567.7,782.8L564.5,785.7M573.7,781.1L570.2,784.1M569.5,784.8L566.1,787.6M575.4,783.1L571.9,786.1M571.2,786.7L567.8,789.6M577.2,785.2L573.6,788.1M572.8,788.7L569.5,791.5M578.8,787.2L575.3,790.1M574.5,790.7L571.1,793.5M580.5,789.3L576.9,792.1M576.1,792.8L572.6,795.5M582.1,791.4L578.5,794.2M577.7,794.8L574.2,797.5M583.7,793.5L580.0,796.2M579.2,796.8L575.7,799.5M585.3,795.6L581.6,798.3M580.7,798.9L577.2,801.5M586.9,797.8L583.1,800.5M582.3,801.0L578.7,803.6M588.4,799.9L584.6,802.6M583.8,803.1L580.1,805.6M589.9,802.2L586.1,804.7M585.2,805.3L581.6,807.8M591.4,804.4L587.5,807.0M586.7,807.5L583.0,809.9M592.8,806.6L588.9,809.1M588.1,809.6L584.3,812.0M594.2,808.9L590.3,811.3M589.4,811.8L585.7,814.1M595.6,811.2L591.6,813.5M590.8,814.0L587.0,816.3M596.9,813.5L593.0,815.8M592.1,816.3L588.3,818.5M598.3,815.8L594.3,818.0M593.4,818.5L589.6,820.7M599.6,818.1L595.5,820.3M594.6,820.8L590.8,822.9M600.8,820.4L596.7,822.6M595.9,823.0L592.0,825.1M602.1,822.9L598.0,825.0M597.1,825.4L593.2,827.4M603.2,825.2L599.1,827.2M598.2,827.7L594.3,829.6M604.4,827.7L600.3,829.6M599.4,830.1L595.4,832.0M605.5,830.0L601.4,832.0M600.4,832.4L596.4,834.2M606.6,832.5L602.4,834.4M601.5,834.8L597.5,836.5M607.7,834.9L603.4,836.7M602.5,837.1L598.5,838.8M608.7,837.4L604.4,839.1M603.5,839.5L599.4,841.2M609.7,839.9L605.4,841.6M604.5,841.9L600.4,843.5M610.7,842.4L606.3,844.0M605.4,844.4L601.3,845.9M611.6,844.9L607.2,846.5M606.3,846.8L602.2,848.3M612.5,847.4L608.1,848.9M607.1,849.2L603.0,850.7M613.3,850.0L608.9,851.4M608.0,851.7L603.8,853.0M614.1,852.5L609.7,853.9M608.7,854.1L604.5,855.4M614.8,855.1L610.4,856.3M609.5,856.6L605.2,857.8M615.6,857.7L611.1,858.9M610.2,859.2L605.9,860.3M616.3,860.3L611.8,861.4M610.8,861.6L606.6,862.7M616.9,862.8L612.4,863.9M611.5,864.1L607.2,865.1M617.5,865.5L613.0,866.5M612.1,866.7L607.8,867.7M618.1,868.1L613.6,869.0M612.6,869.2L608.3,870.1M618.6,870.7L614.1,871.6M613.1,871.8L608.8,872.6M619.1,873.3L614.5,874.1M613.6,874.3L609.2,875.0M619.5,876.0L615.0,876.7M614.0,876.9L609.6,877.6M619.9,878.7L615.4,879.3M614.4,879.5L610.0,880.1" stroke="#98d37e" stroke-width="0.85" fill="none"/>
<circle cx="43.0" cy="869.7" r="5.5" fill="url(#sball)" stroke="#eba283" stroke-width="0.5"/>
<circle cx="45.1" cy="860.0" r="5.5" fill="url(#sball)" stroke="#eba283" stroke-width="0.5"/>
<circle cx="47.7" cy="850.4" r="5.5" fill="url(#sball)" stroke="#eba283" stroke-width="0.5"/>
<circle cx="50.8" cy="840.8" r="5.5" fill="url(#sball)" stroke="#eba283" stroke-width="0.5"/>
<circle cx="54.5" cy="831.5" r="5.5" fill="url(#sball)" stroke="#eba283" stroke-width="0.5"/>
<circle cx="58.6" cy="822.4" r="5.5" fill="url(#sball)" stroke="#eba283" stroke-width="0.5"/>
<circle cx="63.1" cy="813.4" r="5.5" fill="url(#sball)" stroke="#eba283" stroke-width="0.5"/>
<circle cx="68.1" cy="804.8" r="5.5" fill="url(#sball)" stroke="#eba283" stroke-width="0.5"/>
<circle cx="73.5" cy="796.4" r="5.5" fill="url(#sball)" stroke="#eba283" stroke-width="0.5"/>
<circle cx="79.3" cy="788.2" r="5.5" fill="url(#sball)" stroke="#eba283" stroke-width="0.5"/>
<circle cx="85.4" cy="780.3" r="5.5" fill="url(#sball)" stroke="#eba283" stroke-width="0.5"/>
<circle cx="91.8" cy="772.7" r="5.5" fill="url(#sball)" stroke="#eba283" stroke-width="0.5"/>
<circle cx="98.6" cy="765.3" r="5.5" fill="url(#sball)" stroke="#eba283" stroke-width="0.5"/>
<circle cx="105.7" cy="758.2" r="5.5" fill="url(#sball)" stroke="#eba283" stroke-width="0.5"/>
<circle cx="113.0" cy="751.5" r="5.5" fill="url(#sball)" stroke="#eba283" stroke-width="0.5"/>
<circle cx="120.7" cy="745.0" r="5.5" fill="url(#sball)" stroke="#eba283" stroke-width="0.5"/>
<circle cx="128.5" cy="738.7" r="5.5" fill="url(#sball)" stroke="#eba283" stroke-width="0.5"/>
<circle cx="136.6" cy="732.8" r="5.5" fill="url(#sball)" stroke="#eba283" stroke-width="0.5"/>
<circle cx="144.8" cy="727.2" r="5.5" fill="url(#sball)" stroke="#eba283" stroke-width="0.5"/>
<circle cx="153.3" cy="721.9" r="5.5" fill="url(#sball)" stroke="#eba283" stroke-width="0.5"/>
<circle cx="161.9" cy="716.8" r="5.5" fill="url(#sball)" stroke="#eba283" stroke-width="0.5"/>
<circle cx="170.6" cy="712.1" r="5.5" fill="url(#sball)" stroke="#eba283" stroke-width="0.5"/>
<circle cx="179.6" cy="707.6" r="5.5" fill="url(#sball)" stroke="#eba283" stroke-width="0.5"/>
<circle cx="188.7" cy="703.3" r="5.5" fill="url(#sball)" stroke="#eba283" stroke-width="0.5"/>
<circle cx="197.8" cy="699.4" r="5.5" fill="url(#sball)" stroke="#eba283" stroke-width="0.5"/>
<circle cx="207.2" cy="695.8" r="5.5" fill="url(#sball)" stroke="#eba283" stroke-width="0.5"/>
<circle cx="216.5" cy="692.4" r="5.5" fill="url(#sball)" stroke="#eba283" stroke-width="0.5"/>
<circle cx="226.1" cy="689.3" r="5.5" fill="url(#sball)" stroke="#eba283" stroke-width="0.5"/>
<circle cx="235.7" cy="686.5" r="5.5" fill="url(#sball)" stroke="#eba283" stroke-width="0.5"/>
<circle cx="245.4" cy="683.9" r="5.5" fill="url(#sball)" stroke="#eba283" stroke-width="0.5"/>
<circle cx="255.1" cy="681.6" r="5.5" fill="url(#sball)" stroke="#eba283" stroke-width="0.5"/>
<circle cx="264.9" cy="679.6" r="5.5" fill="url(#sball)" stroke="#eba283" stroke-width="0.5"/>
<circle cx="274.7" cy="677.9" r="5.5" fill="url(#sball)" stroke="#eba283" stroke-width="0.5"/>
<circle cx="284.7" cy="676.4" r="5.5" fill="url(#sball)" stroke="#eba283" stroke-width="0.5"/>
<circle cx="294.5" cy="675.2" r="5.5" fill="url(#sball)" stroke="#eba283" stroke-width="0.5"/>
<circle cx="304.5" cy="674.2" r="5.5" fill="url(#sball)" stroke="#eba283" stroke-width="0.5"/>
<circle cx="314.5" cy="673.5" r="5.5" fill="url(#sball)" stroke="#eba283" stroke-width="0.5"/>
<circle cx="324.4" cy="673.1" r="5.5" fill="url(#sball)" stroke="#eba283" stroke-width="0.5"/>
<circle cx="334.4" cy="672.9" r="5.5" fill="url(#sball)" stroke="#eba283" stroke-width="0.5"/>
<circle cx="339.3" cy="672.9" r="5.5" fill="url(#gball)" stroke="#86c96a" stroke-width="0.5"/>
<circle cx="349.2" cy="673.1" r="5.5" fill="url(#gball)" stroke="#86c96a" stroke-width="0.5"/>
<circle cx="359.2" cy="673.6" r="5.5" fill="url(#gball)" stroke="#86c96a" stroke-width="0.5"/>
<circle cx="369.2" cy="674.3" r="5.5" fill="url(#gball)" stroke="#86c96a" stroke-width="0.5"/>
<circle cx="379.1" cy="675.4" r="5.5" fill="url(#gball)" stroke="#86c96a" stroke-width="0.5"/>
<circle cx="389.0" cy="676.6" r="5.5" fill="url(#gball)" stroke="#86c96a" stroke-width="0.5"/>
<circle cx="398.9" cy="678.1" r="5.5" fill="url(#gball)" stroke="#86c96a" stroke-width="0.5"/>
<circle cx="408.8" cy="680.0" r="5.5" fill="url(#gball)" stroke="#86c96a" stroke-width="0.5"/>
<circle cx="418.5" cy="682.0" r="5.5" fill="url(#gball)" stroke="#86c96a" stroke-width="0.5"/>
<circle cx="428.2" cy="684.3" r="5.5" fill="url(#gball)" stroke="#86c96a" stroke-width="0.5"/>
<circle cx="437.8" cy="686.9" r="5.5" fill="url(#gball)" stroke="#86c96a" stroke-width="0.5"/>
<circle cx="447.5" cy="689.8" r="5.5" fill="url(#gball)" stroke="#86c96a" stroke-width="0.5"/>
<circle cx="456.9" cy="692.9" r="5.5" fill="url(#gball)" stroke="#86c96a" stroke-width="0.5"/>
<circle cx="466.4" cy="696.4" r="5.5" fill="url(#gball)" stroke="#86c96a" stroke-width="0.5"/>
<circle cx="475.6" cy="700.0" r="5.5" fill="url(#gball)" stroke="#86c96a" stroke-width="0.5"/>
<circle cx="484.8" cy="704.0" r="5.5" fill="url(#gball)" stroke="#86c96a" stroke-width="0.5"/>
<circle cx="493.9" cy="708.3" r="5.5" fill="url(#gball)" stroke="#86c96a" stroke-width="0.5"/>
<circle cx="502.8" cy="712.8" r="5.5" fill="url(#gball)" stroke="#86c96a" stroke-width="0.5"/>
<circle cx="511.5" cy="717.6" r="5.5" fill="url(#gball)" stroke="#86c96a" stroke-width="0.5"/>
<circle cx="520.1" cy="722.7" r="5.5" fill="url(#gball)" stroke="#86c96a" stroke-width="0.5"/>
<circle cx="528.5" cy="728.1" r="5.5" fill="url(#gball)" stroke="#86c96a" stroke-width="0.5"/>
<circle cx="536.8" cy="733.8" r="5.5" fill="url(#gball)" stroke="#86c96a" stroke-width="0.5"/>
<circle cx="544.8" cy="739.7" r="5.5" fill="url(#gball)" stroke="#86c96a" stroke-width="0.5"/>
<circle cx="552.6" cy="746.0" r="5.5" fill="url(#gball)" stroke="#86c96a" stroke-width="0.5"/>
<circle cx="560.2" cy="752.5" r="5.5" fill="url(#gball)" stroke="#86c96a" stroke-width="0.5"/>
<circle cx="567.5" cy="759.4" r="5.5" fill="url(#gball)" stroke="#86c96a" stroke-width="0.5"/>
<circle cx="574.5" cy="766.5" r="5.5" fill="url(#gball)" stroke="#86c96a" stroke-width="0.5"/>
<circle cx="581.3" cy="773.9" r="5.5" fill="url(#gball)" stroke="#86c96a" stroke-width="0.5"/>
<circle cx="587.7" cy="781.6" r="5.5" fill="url(#gball)" stroke="#86c96a" stroke-width="0.5"/>
<circle cx="593.7" cy="789.5" r="5.5" fill="url(#gball)" stroke="#86c96a" stroke-width="0.5"/>
<circle cx="599.4" cy="797.8" r="5.5" fill="url(#gball)" stroke="#86c96a" stroke-width="0.5"/>
<circle cx="604.7" cy="806.2" r="5.5" fill="url(#gball)" stroke="#86c96a" stroke-width="0.5"/>
<circle cx="609.7" cy="814.9" r="5.5" fill="url(#gball)" stroke="#86c96a" stroke-width="0.5"/>
<circle cx="614.1" cy="823.9" r="5.5" fill="url(#gball)" stroke="#86c96a" stroke-width="0.5"/>
<circle cx="618.2" cy="833.0" r="5.5" fill="url(#gball)" stroke="#86c96a" stroke-width="0.5"/>
<circle cx="621.7" cy="842.4" r="5.5" fill="url(#gball)" stroke="#86c96a" stroke-width="0.5"/>
<circle cx="624.8" cy="851.9" r="5.5" fill="url(#gball)" stroke="#86c96a" stroke-width="0.5"/>
<circle cx="627.3" cy="861.6" r="5.5" fill="url(#gball)" stroke="#86c96a" stroke-width="0.5"/>
<circle cx="629.3" cy="871.3" r="5.5" fill="url(#gball)" stroke="#86c96a" stroke-width="0.5"/>
<circle cx="49.8" cy="868.4" r="5.5" fill="url(#sball)" stroke="#eba283" stroke-width="0.5"/>
<circle cx="52.0" cy="858.7" r="5.5" fill="url(#sball)" stroke="#eba283" stroke-width="0.5"/>
<circle cx="54.8" cy="849.0" r="5.5" fill="url(#sball)" stroke="#eba283" stroke-width="0.5"/>
<circle cx="58.1" cy="839.6" r="5.5" fill="url(#sball)" stroke="#eba283" stroke-width="0.5"/>
<circle cx="62.0" cy="830.3" r="5.5" fill="url(#sball)" stroke="#eba283" stroke-width="0.5"/>
<circle cx="66.2" cy="821.3" r="5.5" fill="url(#sball)" stroke="#eba283" stroke-width="0.5"/>
<circle cx="71.0" cy="812.5" r="5.5" fill="url(#sball)" stroke="#eba283" stroke-width="0.5"/>
<circle cx="76.1" cy="804.0" r="5.5" fill="url(#sball)" stroke="#eba283" stroke-width="0.5"/>
<circle cx="81.8" cy="795.6" r="5.5" fill="url(#sball)" stroke="#eba283" stroke-width="0.5"/>
<circle cx="87.7" cy="787.6" r="5.5" fill="url(#sball)" stroke="#eba283" stroke-width="0.5"/>
<circle cx="94.0" cy="779.9" r="5.5" fill="url(#sball)" stroke="#eba283" stroke-width="0.5"/>
<circle cx="100.7" cy="772.4" r="5.5" fill="url(#sball)" stroke="#eba283" stroke-width="0.5"/>
<circle cx="107.6" cy="765.3" r="5.5" fill="url(#sball)" stroke="#eba283" stroke-width="0.5"/>
<circle cx="115.0" cy="758.4" r="5.5" fill="url(#sball)" stroke="#eba283" stroke-width="0.5"/>
<circle cx="122.5" cy="751.8" r="5.5" fill="url(#sball)" stroke="#eba283" stroke-width="0.5"/>
<circle cx="130.2" cy="745.5" r="5.5" fill="url(#sball)" stroke="#eba283" stroke-width="0.5"/>
<circle cx="138.2" cy="739.5" r="5.5" fill="url(#sball)" stroke="#eba283" stroke-width="0.5"/>
<circle cx="146.5" cy="733.8" r="5.5" fill="url(#sball)" stroke="#eba283" stroke-width="0.5"/>
<circle cx="154.9" cy="728.4" r="5.5" fill="url(#sball)" stroke="#eba283" stroke-width="0.5"/>
<circle cx="163.5" cy="723.3" r="5.5" fill="url(#sball)" stroke="#eba283" stroke-width="0.5"/>
<circle cx="172.3" cy="718.5" r="5.5" fill="url(#sball)" stroke="#eba283" stroke-width="0.5"/>
<circle cx="181.2" cy="713.9" r="5.5" fill="url(#sball)" stroke="#eba283" stroke-width="0.5"/>
<circle cx="190.2" cy="709.7" r="5.5" fill="url(#sball)" stroke="#eba283" stroke-width="0.5"/>
<circle cx="199.4" cy="705.7" r="5.5" fill="url(#sball)" stroke="#eba283" stroke-width="0.5"/>
<circle cx="208.7" cy="702.1" r="5.5" fill="url(#sball)" stroke="#eba283" stroke-width="0.5"/>
<circle cx="218.0" cy="698.7" r="5.5" fill="url(#sball)" stroke="#eba283" stroke-width="0.5"/>
<circle cx="227.6" cy="695.5" r="5.5" fill="url(#sball)" stroke="#eba283" stroke-width="0.5"/>
<circle cx="237.2" cy="692.7" r="5.5" fill="url(#sball)" stroke="#eba283" stroke-width="0.5"/>
<circle cx="246.8" cy="690.2" r="5.5" fill="url(#sball)" stroke="#eba283" stroke-width="0.5"/>
<circle cx="256.5" cy="687.9" r="5.5" fill="url(#sball)" stroke="#eba283" stroke-width="0.5"/>
<circle cx="266.4" cy="685.9" r="5.5" fill="url(#sball)" stroke="#eba283" stroke-width="0.5"/>
<circle cx="276.3" cy="684.1" r="5.5" fill="url(#sball)" stroke="#eba283" stroke-width="0.5"/>
<circle cx="286.1" cy="682.6" r="5.5" fill="url(#sball)" stroke="#eba283" stroke-width="0.5"/>
<circle cx="296.0" cy="681.4" r="5.5" fill="url(#sball)" stroke="#eba283" stroke-width="0.5"/>
<circle cx="305.9" cy="680.5" r="5.5" fill="url(#sball)" stroke="#eba283" stroke-width="0.5"/>
<circle cx="315.9" cy="679.8" r="5.5" fill="url(#sball)" stroke="#eba283" stroke-width="0.5"/>
<circle cx="325.9" cy="679.4" r="5.5" fill="url(#sball)" stroke="#eba283" stroke-width="0.5"/>
<circle cx="336.0" cy="679.3" r="5.5" fill="url(#sball)" stroke="#eba283" stroke-width="0.5"/>
<circle cx="344.1" cy="679.4" r="5.5" fill="url(#gball)" stroke="#86c96a" stroke-width="0.5"/>
<circle cx="354.2" cy="679.7" r="5.5" fill="url(#gball)" stroke="#86c96a" stroke-width="0.5"/>
<circle cx="364.1" cy="680.4" r="5.5" fill="url(#gball)" stroke="#86c96a" stroke-width="0.5"/>
<circle cx="374.1" cy="681.2" r="5.5" fill="url(#gball)" stroke="#86c96a" stroke-width="0.5"/>
<circle cx="384.0" cy="682.4" r="5.5" fill="url(#gball)" stroke="#86c96a" stroke-width="0.5"/>
<circle cx="393.9" cy="683.8" r="5.5" fill="url(#gball)" stroke="#86c96a" stroke-width="0.5"/>
<circle cx="403.7" cy="685.5" r="5.5" fill="url(#gball)" stroke="#86c96a" stroke-width="0.5"/>
<circle cx="413.6" cy="687.5" r="5.5" fill="url(#gball)" stroke="#86c96a" stroke-width="0.5"/>
<circle cx="423.3" cy="689.7" r="5.5" fill="url(#gball)" stroke="#86c96a" stroke-width="0.5"/>
<circle cx="433.0" cy="692.2" r="5.5" fill="url(#gball)" stroke="#86c96a" stroke-width="0.5"/>
<circle cx="442.5" cy="695.0" r="5.5" fill="url(#gball)" stroke="#86c96a" stroke-width="0.5"/>
<circle cx="452.1" cy="698.0" r="5.5" fill="url(#gball)" stroke="#86c96a" stroke-width="0.5"/>
<circle cx="461.5" cy="701.4" r="5.5" fill="url(#gball)" stroke="#86c96a" stroke-width="0.5"/>
<circle cx="470.9" cy="705.0" r="5.5" fill="url(#gball)" stroke="#86c96a" stroke-width="0.5"/>
<circle cx="480.1" cy="708.9" r="5.5" fill="url(#gball)" stroke="#86c96a" stroke-width="0.5"/>
<circle cx="489.2" cy="713.1" r="5.5" fill="url(#gball)" stroke="#86c96a" stroke-width="0.5"/>
<circle cx="498.1" cy="717.6" r="5.5" fill="url(#gball)" stroke="#86c96a" stroke-width="0.5"/>
<circle cx="506.9" cy="722.3" r="5.5" fill="url(#gball)" stroke="#86c96a" stroke-width="0.5"/>
<circle cx="515.5" cy="727.4" r="5.5" fill="url(#gball)" stroke="#86c96a" stroke-width="0.5"/>
<circle cx="523.9" cy="732.7" r="5.5" fill="url(#gball)" stroke="#86c96a" stroke-width="0.5"/>
<circle cx="532.2" cy="738.4" r="5.5" fill="url(#gball)" stroke="#86c96a" stroke-width="0.5"/>
<circle cx="540.2" cy="744.3" r="5.5" fill="url(#gball)" stroke="#86c96a" stroke-width="0.5"/>
<circle cx="548.0" cy="750.5" r="5.5" fill="url(#gball)" stroke="#86c96a" stroke-width="0.5"/>
<circle cx="555.6" cy="757.1" r="5.5" fill="url(#gball)" stroke="#86c96a" stroke-width="0.5"/>
<circle cx="563.0" cy="763.9" r="5.5" fill="url(#gball)" stroke="#86c96a" stroke-width="0.5"/>
<circle cx="570.0" cy="771.0" r="5.5" fill="url(#gball)" stroke="#86c96a" stroke-width="0.5"/>
<circle cx="576.7" cy="778.4" r="5.5" fill="url(#gball)" stroke="#86c96a" stroke-width="0.5"/>
<circle cx="583.0" cy="786.1" r="5.5" fill="url(#gball)" stroke="#86c96a" stroke-width="0.5"/>
<circle cx="589.1" cy="794.1" r="5.5" fill="url(#gball)" stroke="#86c96a" stroke-width="0.5"/>
<circle cx="594.8" cy="802.4" r="5.5" fill="url(#gball)" stroke="#86c96a" stroke-width="0.5"/>
<circle cx="600.0" cy="810.8" r="5.5" fill="url(#gball)" stroke="#86c96a" stroke-width="0.5"/>
<circle cx="604.9" cy="819.6" r="5.5" fill="url(#gball)" stroke="#86c96a" stroke-width="0.5"/>
<circle cx="609.3" cy="828.6" r="5.5" fill="url(#gball)" stroke="#86c96a" stroke-width="0.5"/>
<circle cx="613.2" cy="837.8" r="5.5" fill="url(#gball)" stroke="#86c96a" stroke-width="0.5"/>
<circle cx="616.6" cy="847.1" r="5.5" fill="url(#gball)" stroke="#86c96a" stroke-width="0.5"/>
<circle cx="619.5" cy="856.8" r="5.5" fill="url(#gball)" stroke="#86c96a" stroke-width="0.5"/>
<circle cx="621.8" cy="866.4" r="5.5" fill="url(#gball)" stroke="#86c96a" stroke-width="0.5"/>
<circle cx="65.9" cy="882.3" r="5.5" fill="url(#sball)" stroke="#eba283" stroke-width="0.5"/>
<circle cx="67.5" cy="872.5" r="5.5" fill="url(#sball)" stroke="#eba283" stroke-width="0.5"/>
<circle cx="69.8" cy="862.7" r="5.5" fill="url(#sball)" stroke="#eba283" stroke-width="0.5"/>
<circle cx="72.6" cy="853.2" r="5.5" fill="url(#sball)" stroke="#eba283" stroke-width="0.5"/>
<circle cx="76.0" cy="843.8" r="5.5" fill="url(#sball)" stroke="#eba283" stroke-width="0.5"/>
<circle cx="80.0" cy="834.6" r="5.5" fill="url(#sball)" stroke="#eba283" stroke-width="0.5"/>
<circle cx="84.5" cy="825.7" r="5.5" fill="url(#sball)" stroke="#eba283" stroke-width="0.5"/>
<circle cx="89.4" cy="817.1" r="5.5" fill="url(#sball)" stroke="#eba283" stroke-width="0.5"/>
<circle cx="94.9" cy="808.7" r="5.5" fill="url(#sball)" stroke="#eba283" stroke-width="0.5"/>
<circle cx="100.8" cy="800.5" r="5.5" fill="url(#sball)" stroke="#eba283" stroke-width="0.5"/>
<circle cx="107.0" cy="792.7" r="5.5" fill="url(#sball)" stroke="#eba283" stroke-width="0.5"/>
<circle cx="113.7" cy="785.2" r="5.5" fill="url(#sball)" stroke="#eba283" stroke-width="0.5"/>
<circle cx="120.6" cy="778.0" r="5.5" fill="url(#sball)" stroke="#eba283" stroke-width="0.5"/>
<circle cx="127.9" cy="771.2" r="5.5" fill="url(#sball)" stroke="#eba283" stroke-width="0.5"/>
<circle cx="135.4" cy="764.7" r="5.5" fill="url(#sball)" stroke="#eba283" stroke-width="0.5"/>
<circle cx="143.3" cy="758.4" r="5.5" fill="url(#sball)" stroke="#eba283" stroke-width="0.5"/>
<circle cx="151.4" cy="752.5" r="5.5" fill="url(#sball)" stroke="#eba283" stroke-width="0.5"/>
<circle cx="159.6" cy="746.9" r="5.5" fill="url(#sball)" stroke="#eba283" stroke-width="0.5"/>
<circle cx="168.1" cy="741.7" r="5.5" fill="url(#sball)" stroke="#eba283" stroke-width="0.5"/>
<circle cx="176.8" cy="736.7" r="5.5" fill="url(#sball)" stroke="#eba283" stroke-width="0.5"/>
<circle cx="185.7" cy="732.0" r="5.5" fill="url(#sball)" stroke="#eba283" stroke-width="0.5"/>
<circle cx="194.6" cy="727.7" r="5.5" fill="url(#sball)" stroke="#eba283" stroke-width="0.5"/>
<circle cx="203.8" cy="723.6" r="5.5" fill="url(#sball)" stroke="#eba283" stroke-width="0.5"/>
<circle cx="213.1" cy="719.9" r="5.5" fill="url(#sball)" stroke="#eba283" stroke-width="0.5"/>
<circle cx="222.4" cy="716.4" r="5.5" fill="url(#sball)" stroke="#eba283" stroke-width="0.5"/>
<circle cx="231.9" cy="713.3" r="5.5" fill="url(#sball)" stroke="#eba283" stroke-width="0.5"/>
<circle cx="241.6" cy="710.4" r="5.5" fill="url(#sball)" stroke="#eba283" stroke-width="0.5"/>
<circle cx="251.1" cy="707.8" r="5.5" fill="url(#sball)" stroke="#eba283" stroke-width="0.5"/>
<circle cx="260.9" cy="705.5" r="5.5" fill="url(#sball)" stroke="#eba283" stroke-width="0.5"/>
<circle cx="270.7" cy="703.6" r="5.5" fill="url(#sball)" stroke="#eba283" stroke-width="0.5"/>
<circle cx="280.6" cy="701.8" r="5.5" fill="url(#sball)" stroke="#eba283" stroke-width="0.5"/>
<circle cx="290.4" cy="700.4" r="5.5" fill="url(#sball)" stroke="#eba283" stroke-width="0.5"/>
<circle cx="300.5" cy="699.3" r="5.5" fill="url(#sball)" stroke="#eba283" stroke-width="0.5"/>
<circle cx="310.4" cy="698.4" r="5.5" fill="url(#sball)" stroke="#eba283" stroke-width="0.5"/>
<circle cx="320.4" cy="697.8" r="5.5" fill="url(#sball)" stroke="#eba283" stroke-width="0.5"/>
<circle cx="330.4" cy="697.5" r="5.5" fill="url(#sball)" stroke="#eba283" stroke-width="0.5"/>
<circle cx="339.0" cy="697.5" r="5.5" fill="url(#gball)" stroke="#86c96a" stroke-width="0.5"/>
<circle cx="349.0" cy="697.7" r="5.5" fill="url(#gball)" stroke="#86c96a" stroke-width="0.5"/>
<circle cx="358.9" cy="698.2" r="5.5" fill="url(#gball)" stroke="#86c96a" stroke-width="0.5"/>
<circle cx="368.9" cy="699.0" r="5.5" fill="url(#gball)" stroke="#86c96a" stroke-width="0.5"/>
<circle cx="378.9" cy="700.1" r="5.5" fill="url(#gball)" stroke="#86c96a" stroke-width="0.5"/>
<circle cx="388.8" cy="701.4" r="5.5" fill="url(#gball)" stroke="#86c96a" stroke-width="0.5"/>
<circle cx="398.7" cy="703.1" r="5.5" fill="url(#gball)" stroke="#86c96a" stroke-width="0.5"/>
<circle cx="408.4" cy="705.0" r="5.5" fill="url(#gball)" stroke="#86c96a" stroke-width="0.5"/>
<circle cx="418.2" cy="707.2" r="5.5" fill="url(#gball)" stroke="#86c96a" stroke-width="0.5"/>
<circle cx="428.0" cy="709.7" r="5.5" fill="url(#gball)" stroke="#86c96a" stroke-width="0.5"/>
<circle cx="437.5" cy="712.5" r="5.5" fill="url(#gball)" stroke="#86c96a" stroke-width="0.5"/>
<circle cx="447.1" cy="715.6" r="5.5" fill="url(#gball)" stroke="#86c96a" stroke-width="0.5"/>
<circle cx="456.4" cy="718.9" r="5.5" fill="url(#gball)" stroke="#86c96a" stroke-width="0.5"/>
<circle cx="465.8" cy="722.6" r="5.5" fill="url(#gball)" stroke="#86c96a" stroke-width="0.5"/>
<circle cx="474.9" cy="726.6" r="5.5" fill="url(#gball)" stroke="#86c96a" stroke-width="0.5"/>
<circle cx="484.0" cy="730.8" r="5.5" fill="url(#gball)" stroke="#86c96a" stroke-width="0.5"/>
<circle cx="492.8" cy="735.4" r="5.5" fill="url(#gball)" stroke="#86c96a" stroke-width="0.5"/>
<circle cx="501.6" cy="740.3" r="5.5" fill="url(#gball)" stroke="#86c96a" stroke-width="0.5"/>
<circle cx="510.1" cy="745.5" r="5.5" fill="url(#gball)" stroke="#86c96a" stroke-width="0.5"/>
<circle cx="518.5" cy="751.0" r="5.5" fill="url(#gball)" stroke="#86c96a" stroke-width="0.5"/>
<circle cx="526.6" cy="756.8" r="5.5" fill="url(#gball)" stroke="#86c96a" stroke-width="0.5"/>
<circle cx="534.5" cy="763.0" r="5.5" fill="url(#gball)" stroke="#86c96a" stroke-width="0.5"/>
<circle cx="542.1" cy="769.4" r="5.5" fill="url(#gball)" stroke="#86c96a" stroke-width="0.5"/>
<circle cx="549.5" cy="776.2" r="5.5" fill="url(#gball)" stroke="#86c96a" stroke-width="0.5"/>
<circle cx="556.5" cy="783.2" r="5.5" fill="url(#gball)" stroke="#86c96a" stroke-width="0.5"/>
<circle cx="563.2" cy="790.7" r="5.5" fill="url(#gball)" stroke="#86c96a" stroke-width="0.5"/>
<circle cx="569.6" cy="798.4" r="5.5" fill="url(#gball)" stroke="#86c96a" stroke-width="0.5"/>
<circle cx="575.5" cy="806.4" r="5.5" fill="url(#gball)" stroke="#86c96a" stroke-width="0.5"/>
<circle cx="581.1" cy="814.7" r="5.5" fill="url(#gball)" stroke="#86c96a" stroke-width="0.5"/>
<circle cx="586.2" cy="823.3" r="5.5" fill="url(#gball)" stroke="#86c96a" stroke-width="0.5"/>
<circle cx="590.8" cy="832.1" r="5.5" fill="url(#gball)" stroke="#86c96a" stroke-width="0.5"/>
<circle cx="595.0" cy="841.3" r="5.5" fill="url(#gball)" stroke="#86c96a" stroke-width="0.5"/>
<circle cx="598.5" cy="850.6" r="5.5" fill="url(#gball)" stroke="#86c96a" stroke-width="0.5"/>
<circle cx="601.5" cy="860.2" r="5.5" fill="url(#gball)" stroke="#86c96a" stroke-width="0.5"/>
<circle cx="603.9" cy="869.9" r="5.5" fill="url(#gball)" stroke="#86c96a" stroke-width="0.5"/>
<circle cx="605.7" cy="879.7" r="5.5" fill="url(#gball)" stroke="#86c96a" stroke-width="0.5"/>
<circle cx="72.5" cy="880.2" r="5.5" fill="url(#sball)" stroke="#eba283" stroke-width="0.5"/>
<circle cx="74.3" cy="870.4" r="5.5" fill="url(#sball)" stroke="#eba283" stroke-width="0.5"/>
<circle cx="76.8" cy="860.7" r="5.5" fill="url(#sball)" stroke="#eba283" stroke-width="0.5"/>
<circle cx="79.8" cy="851.2" r="5.5" fill="url(#sball)" stroke="#eba283" stroke-width="0.5"/>
<circle cx="83.5" cy="841.9" r="5.5" fill="url(#sball)" stroke="#eba283" stroke-width="0.5"/>
<circle cx="87.8" cy="832.8" r="5.5" fill="url(#sball)" stroke="#eba283" stroke-width="0.5"/>
<circle cx="92.5" cy="824.0" r="5.5" fill="url(#sball)" stroke="#eba283" stroke-width="0.5"/>
<circle cx="97.7" cy="815.5" r="5.5" fill="url(#sball)" stroke="#eba283" stroke-width="0.5"/>
<circle cx="103.4" cy="807.3" r="5.5" fill="url(#sball)" stroke="#eba283" stroke-width="0.5"/>
<circle cx="109.5" cy="799.4" r="5.5" fill="url(#sball)" stroke="#eba283" stroke-width="0.5"/>
<circle cx="116.0" cy="791.8" r="5.5" fill="url(#sball)" stroke="#eba283" stroke-width="0.5"/>
<circle cx="122.9" cy="784.5" r="5.5" fill="url(#sball)" stroke="#eba283" stroke-width="0.5"/>
<circle cx="130.1" cy="777.6" r="5.5" fill="url(#sball)" stroke="#eba283" stroke-width="0.5"/>
<circle cx="137.6" cy="770.9" r="5.5" fill="url(#sball)" stroke="#eba283" stroke-width="0.5"/>
<circle cx="145.4" cy="764.6" r="5.5" fill="url(#sball)" stroke="#eba283" stroke-width="0.5"/>
<circle cx="153.4" cy="758.7" r="5.5" fill="url(#sball)" stroke="#eba283" stroke-width="0.5"/>
<circle cx="161.7" cy="753.0" r="5.5" fill="url(#sball)" stroke="#eba283" stroke-width="0.5"/>
<circle cx="170.1" cy="747.7" r="5.5" fill="url(#sball)" stroke="#eba283" stroke-width="0.5"/>
<circle cx="178.8" cy="742.7" r="5.5" fill="url(#sball)" stroke="#eba283" stroke-width="0.5"/>
<circle cx="187.5" cy="738.0" r="5.5" fill="url(#sball)" stroke="#eba283" stroke-width="0.5"/>
<circle cx="196.6" cy="733.6" r="5.5" fill="url(#sball)" stroke="#eba283" stroke-width="0.5"/>
<circle cx="205.7" cy="729.5" r="5.5" fill="url(#sball)" stroke="#eba283" stroke-width="0.5"/>
<circle cx="215.0" cy="725.8" r="5.5" fill="url(#sball)" stroke="#eba283" stroke-width="0.5"/>
<circle cx="224.4" cy="722.3" r="5.5" fill="url(#sball)" stroke="#eba283" stroke-width="0.5"/>
<circle cx="233.8" cy="719.2" r="5.5" fill="url(#sball)" stroke="#eba283" stroke-width="0.5"/>
<circle cx="243.5" cy="716.3" r="5.5" fill="url(#sball)" stroke="#eba283" stroke-width="0.5"/>
<circle cx="253.1" cy="713.8" r="5.5" fill="url(#sball)" stroke="#eba283" stroke-width="0.5"/>
<circle cx="262.9" cy="711.5" r="5.5" fill="url(#sball)" stroke="#eba283" stroke-width="0.5"/>
<circle cx="272.6" cy="709.5" r="5.5" fill="url(#sball)" stroke="#eba283" stroke-width="0.5"/>
<circle cx="282.5" cy="707.8" r="5.5" fill="url(#sball)" stroke="#eba283" stroke-width="0.5"/>
<circle cx="292.4" cy="706.4" r="5.5" fill="url(#sball)" stroke="#eba283" stroke-width="0.5"/>
<circle cx="302.3" cy="705.3" r="5.5" fill="url(#sball)" stroke="#eba283" stroke-width="0.5"/>
<circle cx="312.3" cy="704.5" r="5.5" fill="url(#sball)" stroke="#eba283" stroke-width="0.5"/>
<circle cx="322.3" cy="704.0" r="5.5" fill="url(#sball)" stroke="#eba283" stroke-width="0.5"/>
<circle cx="332.3" cy="703.7" r="5.5" fill="url(#sball)" stroke="#eba283" stroke-width="0.5"/>
<circle cx="344.0" cy="703.8" r="5.5" fill="url(#gball)" stroke="#86c96a" stroke-width="0.5"/>
<circle cx="353.9" cy="704.2" r="5.5" fill="url(#gball)" stroke="#86c96a" stroke-width="0.5"/>
<circle cx="363.9" cy="704.8" r="5.5" fill="url(#gball)" stroke="#86c96a" stroke-width="0.5"/>
<circle cx="373.9" cy="705.8" r="5.5" fill="url(#gball)" stroke="#86c96a" stroke-width="0.5"/>
<circle cx="383.7" cy="707.0" r="5.5" fill="url(#gball)" stroke="#86c96a" stroke-width="0.5"/>
<circle cx="393.6" cy="708.5" r="5.5" fill="url(#gball)" stroke="#86c96a" stroke-width="0.5"/>
<circle cx="403.4" cy="710.3" r="5.5" fill="url(#gball)" stroke="#86c96a" stroke-width="0.5"/>
<circle cx="413.3" cy="712.4" r="5.5" fill="url(#gball)" stroke="#86c96a" stroke-width="0.5"/>
<circle cx="423.0" cy="714.8" r="5.5" fill="url(#gball)" stroke="#86c96a" stroke-width="0.5"/>
<circle cx="432.6" cy="717.5" r="5.5" fill="url(#gball)" stroke="#86c96a" stroke-width="0.5"/>
<circle cx="442.1" cy="720.4" r="5.5" fill="url(#gball)" stroke="#86c96a" stroke-width="0.5"/>
<circle cx="451.6" cy="723.7" r="5.5" fill="url(#gball)" stroke="#86c96a" stroke-width="0.5"/>
<circle cx="460.9" cy="727.3" r="5.5" fill="url(#gball)" stroke="#86c96a" stroke-width="0.5"/>
<circle cx="470.1" cy="731.2" r="5.5" fill="url(#gball)" stroke="#86c96a" stroke-width="0.5"/>
<circle cx="479.2" cy="735.4" r="5.5" fill="url(#gball)" stroke="#86c96a" stroke-width="0.5"/>
<circle cx="488.2" cy="739.9" r="5.5" fill="url(#gball)" stroke="#86c96a" stroke-width="0.5"/>
<circle cx="496.9" cy="744.7" r="5.5" fill="url(#gball)" stroke="#86c96a" stroke-width="0.5"/>
<circle cx="505.5" cy="749.9" r="5.5" fill="url(#gball)" stroke="#86c96a" stroke-width="0.5"/>
<circle cx="513.8" cy="755.3" r="5.5" fill="url(#gball)" stroke="#86c96a" stroke-width="0.5"/>
<circle cx="522.0" cy="761.1" r="5.5" fill="url(#gball)" stroke="#86c96a" stroke-width="0.5"/>
<circle cx="529.9" cy="767.2" r="5.5" fill="url(#gball)" stroke="#86c96a" stroke-width="0.5"/>
<circle cx="537.6" cy="773.7" r="5.5" fill="url(#gball)" stroke="#86c96a" stroke-width="0.5"/>
<circle cx="544.9" cy="780.4" r="5.5" fill="url(#gball)" stroke="#86c96a" stroke-width="0.5"/>
<circle cx="552.0" cy="787.5" r="5.5" fill="url(#gball)" stroke="#86c96a" stroke-width="0.5"/>
<circle cx="558.7" cy="795.0" r="5.5" fill="url(#gball)" stroke="#86c96a" stroke-width="0.5"/>
<circle cx="565.0" cy="802.7" r="5.5" fill="url(#gball)" stroke="#86c96a" stroke-width="0.5"/>
<circle cx="571.0" cy="810.7" r="5.5" fill="url(#gball)" stroke="#86c96a" stroke-width="0.5"/>
<circle cx="576.5" cy="819.0" r="5.5" fill="url(#gball)" stroke="#86c96a" stroke-width="0.5"/>
<circle cx="581.6" cy="827.7" r="5.5" fill="url(#gball)" stroke="#86c96a" stroke-width="0.5"/>
<circle cx="586.1" cy="836.6" r="5.5" fill="url(#gball)" stroke="#86c96a" stroke-width="0.5"/>
<circle cx="590.1" cy="845.8" r="5.5" fill="url(#gball)" stroke="#86c96a" stroke-width="0.5"/>
<circle cx="593.5" cy="855.1" r="5.5" fill="url(#gball)" stroke="#86c96a" stroke-width="0.5"/>
<circle cx="596.4" cy="864.7" r="5.5" fill="url(#gball)" stroke="#86c96a" stroke-width="0.5"/>
<circle cx="598.6" cy="874.5" r="5.5" fill="url(#gball)" stroke="#86c96a" stroke-width="0.5"/>
<circle cx="600.1" cy="884.3" r="5.5" fill="url(#gball)" stroke="#86c96a" stroke-width="0.5"/>
<rect x="303.8" y="660.5" width="63.4" height="52.5" fill="none" stroke="#333" stroke-width="0.9" stroke-dasharray="3,2"/>
<g><path d="M310.5,705 Q318,688 332,685 Q348,681 355,662" stroke="#2e6b2a" stroke-width="1.3" fill="none"/><line x1="320" y1="677" x2="323" y2="686" stroke="#2e6b2a" stroke-width="1.1"/><line x1="320" y1="706" x2="314" y2="697" stroke="#2e6b2a" stroke-width="1.1"/><line x1="362" y1="672" x2="352" y2="667" stroke="#2e6b2a" stroke-width="1.1"/><line x1="308" y1="687" x2="314" y2="695" stroke="#2e6b2a" stroke-width="1.1"/><line x1="345" y1="663" x2="349" y2="675" stroke="#2e6b2a" stroke-width="1.1"/><line x1="325.5" y1="696" x2="321" y2="689" stroke="#2e6b2a" stroke-width="1.1"/><line x1="335.5" y1="673.5" x2="338" y2="683" stroke="#2e6b2a" stroke-width="1.1"/><line x1="353" y1="687" x2="344" y2="679" stroke="#2e6b2a" stroke-width="1.1"/><circle cx="320" cy="677" r="4.1" fill="url(#molblue)"/><circle cx="320" cy="706" r="4.1" fill="url(#molblue)"/><circle cx="362" cy="672" r="4.1" fill="url(#molblue)"/><circle cx="308" cy="687" r="3.9" fill="url(#molgreen)"/><circle cx="345" cy="663" r="3.9" fill="url(#molgreen)"/><circle cx="325.5" cy="696" r="3.7" fill="#f3d35a" stroke="#e6b83a" stroke-width="0.5"/><path d="M323.9,694.4 L327.1,697.6 M327.1,694.4 L323.9,697.6" stroke="#c0392b" stroke-width="0.8"/><circle cx="335.5" cy="673.5" r="3.7" fill="#f3d35a" stroke="#e6b83a" stroke-width="0.5"/><path d="M333.9,671.9 L337.1,675.1 M337.1,671.9 L333.9,675.1" stroke="#c0392b" stroke-width="0.8"/><circle cx="353" cy="687" r="3.7" fill="#f3d35a" stroke="#e6b83a" stroke-width="0.5"/><path d="M351.4,685.4 L354.6,688.6 M354.6,685.4 L351.4,688.6" stroke="#c0392b" stroke-width="0.8"/></g>
<polygon points="216.3,740.5 214.2,739.4 212.3,738.3 210.3,737.3 208.4,736.2 206.6,735.1 204.8,734.0 203.0,732.9 201.3,731.8 199.6,730.7 197.9,729.5 196.3,728.4 194.7,727.3 193.2,726.1 191.7,725.0 190.3,723.8 188.8,722.7 187.5,721.5 186.1,720.3 184.9,719.1 183.6,718.0 182.4,716.8 181.2,715.6 180.1,714.4 179.0,713.1 178.0,711.9 177.0,710.7 176.0,709.5 175.1,708.3 174.2,707.0 173.3,705.8 176.5,703.4 166.0,700.0 166.1,711.1 169.3,708.7 170.3,710.0 171.4,711.2 172.5,712.5 173.6,713.7 174.7,714.9 175.9,716.1 177.2,717.3 178.5,718.4 179.8,719.6 181.1,720.7 182.5,721.9 183.9,723.0 185.4,724.1 186.9,725.2 188.4,726.3 190.0,727.4 191.6,728.5 193.2,729.5 194.9,730.6 196.6,731.6 198.3,732.7 200.1,733.7 201.9,734.7 203.8,735.7 205.7,736.7 207.6,737.7 209.6,738.7 211.6,739.6 213.7,740.6 215.7,741.5" fill="#a6c9ea"/>
<polygon points="108.4,817.6 106.9,816.1 105.4,814.6 103.9,813.2 102.4,811.8 100.9,810.5 99.4,809.2 97.8,808.0 96.3,806.8 94.8,805.7 93.2,804.6 91.7,803.5 90.1,802.5 88.6,801.5 87.0,800.6 85.4,799.7 83.9,798.9 82.3,798.1 80.7,797.4 79.1,796.7 77.5,796.0 75.9,795.4 74.3,794.9 72.7,794.4 71.0,793.9 69.4,793.5 67.8,793.1 66.1,792.8 64.5,792.5 62.8,792.2 61.1,792.0 61.4,788.1 52.0,794.0 60.6,801.0 60.8,797.0 62.4,797.1 63.9,797.2 65.4,797.3 67.0,797.5 68.5,797.7 70.1,798.0 71.6,798.3 73.2,798.7 74.7,799.1 76.3,799.6 77.8,800.1 79.4,800.6 80.9,801.2 82.5,801.8 84.1,802.5 85.6,803.3 87.2,804.0 88.7,804.9 90.3,805.7 91.9,806.7 93.5,807.6 95.0,808.6 96.6,809.7 98.2,810.8 99.7,812.0 101.3,813.2 102.9,814.4 104.4,815.7 106.0,817.0 107.6,818.4" fill="#a6c9ea"/>
<polygon points="223.5,799.3 224.5,801.1 225.6,802.8 226.7,804.4 227.8,806.1 228.9,807.6 230.1,809.1 231.3,810.6 232.5,812.0 233.8,813.4 235.1,814.8 236.4,816.0 237.7,817.3 239.1,818.5 240.5,819.6 241.9,820.7 243.3,821.8 244.8,822.8 246.3,823.7 247.9,824.6 249.5,825.5 251.1,826.3 252.7,827.0 254.3,827.7 256.0,828.4 257.7,829.0 259.5,829.5 261.3,830.0 263.1,830.5 264.9,830.9 266.7,831.2 266.2,835.2 276.0,830.0 268.0,822.3 267.4,826.3 265.7,826.1 264.0,825.8 262.3,825.5 260.6,825.2 259.0,824.8 257.4,824.4 255.8,823.9 254.2,823.3 252.6,822.7 251.1,822.1 249.5,821.4 248.0,820.7 246.6,819.9 245.1,819.1 243.7,818.2 242.2,817.2 240.8,816.2 239.4,815.2 238.1,814.1 236.7,813.0 235.4,811.8 234.1,810.5 232.8,809.2 231.6,807.9 230.4,806.5 229.1,805.0 228.0,803.5 226.8,802.0 225.6,800.3 224.5,798.7" fill="#a6c9ea"/>
<polygon points="445.5,797.7 444.5,799.5 443.4,801.1 442.4,802.7 441.3,804.3 440.2,805.8 439.1,807.3 437.9,808.7 436.7,810.0 435.5,811.3 434.2,812.6 432.9,813.7 431.6,814.9 430.3,816.0 428.9,817.0 427.6,817.9 426.2,818.9 424.7,819.7 423.3,820.5 421.8,821.3 420.2,822.0 418.7,822.7 417.1,823.3 415.5,823.8 413.9,824.3 412.3,824.8 410.6,825.2 408.9,825.6 407.1,825.9 405.4,826.1 403.6,826.3 403.1,822.4 395.0,830.0 404.8,835.2 404.3,831.3 406.2,830.9 408.1,830.5 409.9,830.1 411.7,829.5 413.5,829.0 415.3,828.4 417.0,827.7 418.7,827.0 420.3,826.2 421.9,825.4 423.5,824.5 425.0,823.5 426.5,822.6 428.0,821.5 429.4,820.4 430.8,819.3 432.1,818.1 433.5,816.9 434.7,815.6 436.0,814.3 437.2,812.9 438.4,811.5 439.5,810.0 440.6,808.5 441.7,806.9 442.7,805.3 443.7,803.6 444.7,801.9 445.6,800.1 446.5,798.3" fill="#a6c9ea"/>
<polygon points="474.2,742.6 476.3,741.8 478.3,741.0 480.3,740.3 482.3,739.5 484.2,738.7 486.1,737.9 487.9,737.0 489.7,736.2 491.4,735.3 493.2,734.5 494.8,733.6 496.5,732.7 498.0,731.8 499.6,730.8 501.1,729.9 502.6,728.9 504.0,728.0 505.4,727.0 506.8,726.0 508.1,724.9 509.4,723.9 510.6,722.9 511.8,721.8 512.9,720.7 514.0,719.6 515.1,718.5 516.2,717.4 517.1,716.2 518.1,715.0 519.0,713.8 522.3,716.1 522.0,705.0 511.6,708.8 514.9,711.0 514.1,712.2 513.4,713.3 512.6,714.4 511.7,715.6 510.8,716.7 509.9,717.8 508.9,718.9 507.8,720.0 506.8,721.0 505.6,722.1 504.5,723.2 503.3,724.2 502.0,725.3 500.7,726.3 499.4,727.3 498.0,728.3 496.5,729.4 495.0,730.3 493.5,731.3 491.9,732.3 490.3,733.3 488.7,734.2 487.0,735.2 485.2,736.1 483.4,737.0 481.6,737.9 479.7,738.8 477.8,739.7 475.8,740.6 473.8,741.4" fill="#a6c9ea"/>
<polygon points="558.4,812.4 559.9,811.0 561.4,809.7 563.0,808.4 564.5,807.1 566.0,805.9 567.5,804.7 569.1,803.6 570.6,802.5 572.2,801.4 573.7,800.4 575.3,799.4 576.8,798.5 578.4,797.6 579.9,796.7 581.5,795.9 583.1,795.2 584.7,794.5 586.2,793.8 587.8,793.1 589.4,792.5 591.0,792.0 592.6,791.5 594.2,791.0 595.8,790.5 597.4,790.2 599.0,789.8 600.6,789.5 602.2,789.2 603.8,789.0 605.5,788.8 606.0,792.7 614.0,785.0 604.2,779.9 604.7,783.8 603.0,784.2 601.3,784.6 599.6,785.0 597.9,785.4 596.2,785.9 594.6,786.5 592.9,787.1 591.3,787.7 589.6,788.4 588.0,789.1 586.4,789.8 584.8,790.6 583.2,791.4 581.6,792.3 580.0,793.2 578.5,794.2 576.9,795.2 575.4,796.2 573.8,797.2 572.3,798.4 570.8,799.5 569.3,800.7 567.8,801.9 566.3,803.2 564.8,804.5 563.4,805.8 561.9,807.2 560.5,808.6 559.0,810.1 557.6,811.6" fill="#a6c9ea"/>
<polygon points="298.2,743.4 296.2,742.8 294.2,742.3 292.2,741.8 290.3,741.3 288.4,740.9 286.4,740.4 284.5,740.1 282.6,739.7 280.7,739.4 278.9,739.1 277.0,738.9 275.1,738.7 273.3,738.5 271.5,738.4 269.7,738.3 267.9,738.2 266.1,738.2 264.3,738.2 262.5,738.2 260.8,738.3 259.0,738.4 257.3,738.5 255.6,738.7 253.9,738.9 252.2,739.2 250.5,739.4 248.8,739.8 247.1,740.1 245.5,740.5 243.8,740.9 242.7,737.1 236.0,746.0 246.5,749.5 245.3,745.7 246.8,745.2 248.3,744.7 249.9,744.3 251.4,743.8 253.0,743.4 254.6,743.1 256.2,742.8 257.8,742.5 259.4,742.2 261.1,742.0 262.8,741.8 264.5,741.7 266.2,741.5 267.9,741.4 269.6,741.4 271.4,741.4 273.2,741.4 275.0,741.4 276.8,741.5 278.6,741.6 280.5,741.7 282.3,741.9 284.2,742.1 286.1,742.4 288.0,742.7 289.9,743.0 291.9,743.3 293.9,743.7 295.8,744.1 297.8,744.6" fill="#f6cbb0"/>
<polygon points="372.2,744.6 374.2,744.1 376.1,743.7 378.1,743.3 380.1,743.0 382.0,742.7 383.9,742.4 385.8,742.1 387.7,741.9 389.5,741.7 391.4,741.6 393.2,741.5 395.0,741.4 396.8,741.4 398.6,741.4 400.4,741.4 402.1,741.4 403.8,741.5 405.5,741.7 407.2,741.8 408.9,742.0 410.6,742.2 412.2,742.5 413.8,742.8 415.4,743.1 417.0,743.4 418.6,743.8 420.1,744.3 421.7,744.7 423.2,745.2 424.7,745.7 423.5,749.5 434.0,746.0 427.3,737.1 426.2,740.9 424.5,740.5 422.9,740.1 421.2,739.8 419.5,739.4 417.8,739.2 416.1,738.9 414.4,738.7 412.7,738.5 411.0,738.4 409.2,738.3 407.5,738.2 405.7,738.2 403.9,738.2 402.1,738.2 400.3,738.3 398.5,738.4 396.7,738.5 394.9,738.7 393.0,738.9 391.1,739.1 389.3,739.4 387.4,739.7 385.5,740.1 383.6,740.4 381.6,740.9 379.7,741.3 377.8,741.8 375.8,742.3 373.8,742.8 371.8,743.4" fill="#f6cbb0"/>
<g transform="translate(299.0,745.5) rotate(-8.2)"><ellipse cx="0.0" cy="0" rx="3.6" ry="4.2" fill="none" stroke="#f0a860" stroke-width="1.6" opacity="0.9"/><ellipse cx="7.5" cy="0" rx="3.6" ry="4.2" fill="none" stroke="#f0a860" stroke-width="1.6" opacity="0.9"/><ellipse cx="15.0" cy="0" rx="3.6" ry="4.2" fill="none" stroke="#f0a860" stroke-width="1.6" opacity="0.9"/><ellipse cx="22.5" cy="0" rx="3.6" ry="4.2" fill="none" stroke="#f0a860" stroke-width="1.6" opacity="0.9"/><ellipse cx="30.0" cy="0" rx="3.6" ry="4.2" fill="none" stroke="#f0a860" stroke-width="1.6" opacity="0.9"/><ellipse cx="37.5" cy="0" rx="3.6" ry="4.2" fill="none" stroke="#f0a860" stroke-width="1.6" opacity="0.9"/><ellipse cx="45.0" cy="0" rx="3.6" ry="4.2" fill="none" stroke="#f0a860" stroke-width="1.6" opacity="0.9"/><ellipse cx="52.5" cy="0" rx="3.6" ry="4.2" fill="none" stroke="#f0a860" stroke-width="1.6" opacity="0.9"/><path d="M0,0 L52.5,0" stroke="#4f9a3c" stroke-width="0.9"/><line x1="1.9" y1="0" x2="1.9" y2="5.5" stroke="#4f9a3c" stroke-width="0.7"/><circle cx="1.9" cy="5.5" r="1.4" fill="#a6de8a"/><line x1="5.6" y1="0" x2="5.6" y2="-5.5" stroke="#4f9a3c" stroke-width="0.7"/><circle cx="5.6" cy="-5.5" r="1.4" fill="#f3c83e"/><line x1="9.4" y1="0" x2="9.4" y2="5.5" stroke="#4f9a3c" stroke-width="0.7"/><circle cx="9.4" cy="5.5" r="1.4" fill="#86aee6"/><line x1="13.1" y1="0" x2="13.1" y2="-5.5" stroke="#4f9a3c" stroke-width="0.7"/><circle cx="13.1" cy="-5.5" r="1.4" fill="#f3c83e"/><line x1="16.9" y1="0" x2="16.9" y2="5.5" stroke="#4f9a3c" stroke-width="0.7"/><circle cx="16.9" cy="5.5" r="1.4" fill="#a6de8a"/><line x1="20.6" y1="0" x2="20.6" y2="-5.5" stroke="#4f9a3c" stroke-width="0.7"/><circle cx="20.6" cy="-5.5" r="1.4" fill="#f3c83e"/><line x1="24.4" y1="0" x2="24.4" y2="5.5" stroke="#4f9a3c" stroke-width="0.7"/><circle cx="24.4" cy="5.5" r="1.4" fill="#86aee6"/><line x1="28.1" y1="0" x2="28.1" y2="-5.5" stroke="#4f9a3c" stroke-width="0.7"/><circle cx="28.1" cy="-5.5" r="1.4" fill="#f3c83e"/><line x1="31.9" y1="0" x2="31.9" y2="5.5" stroke="#4f9a3c" stroke-width="0.7"/><circle cx="31.9" cy="5.5" r="1.4" fill="#a6de8a"/><line x1="35.7" y1="0" x2="35.7" y2="-5.5" stroke="#4f9a3c" stroke-width="0.7"/><circle cx="35.7" cy="-5.5" r="1.4" fill="#f3c83e"/><line x1="39.4" y1="0" x2="39.4" y2="5.5" stroke="#4f9a3c" stroke-width="0.7"/><circle cx="39.4" cy="5.5" r="1.4" fill="#86aee6"/><line x1="43.2" y1="0" x2="43.2" y2="-5.5" stroke="#4f9a3c" stroke-width="0.7"/><circle cx="43.2" cy="-5.5" r="1.4" fill="#f3c83e"/><line x1="46.9" y1="0" x2="46.9" y2="5.5" stroke="#4f9a3c" stroke-width="0.7"/><circle cx="46.9" cy="5.5" r="1.4" fill="#a6de8a"/><line x1="50.7" y1="0" x2="50.7" y2="-5.5" stroke="#4f9a3c" stroke-width="0.7"/><circle cx="50.7" cy="-5.5" r="1.4" fill="#f3c83e"/></g>
<g transform="translate(291.5,764.5) rotate(-8.3)"><ellipse cx="0.0" cy="0" rx="3.6" ry="4.2" fill="none" stroke="#f0a860" stroke-width="1.6" opacity="0.9"/><ellipse cx="7.4" cy="0" rx="3.6" ry="4.2" fill="none" stroke="#f0a860" stroke-width="1.6" opacity="0.9"/><ellipse cx="14.9" cy="0" rx="3.6" ry="4.2" fill="none" stroke="#f0a860" stroke-width="1.6" opacity="0.9"/><ellipse cx="22.3" cy="0" rx="3.6" ry="4.2" fill="none" stroke="#f0a860" stroke-width="1.6" opacity="0.9"/><ellipse cx="29.7" cy="0" rx="3.6" ry="4.2" fill="none" stroke="#f0a860" stroke-width="1.6" opacity="0.9"/><ellipse cx="37.2" cy="0" rx="3.6" ry="4.2" fill="none" stroke="#f0a860" stroke-width="1.6" opacity="0.9"/><ellipse cx="44.6" cy="0" rx="3.6" ry="4.2" fill="none" stroke="#f0a860" stroke-width="1.6" opacity="0.9"/><ellipse cx="52.0" cy="0" rx="3.6" ry="4.2" fill="none" stroke="#f0a860" stroke-width="1.6" opacity="0.9"/><path d="M0,0 L52.0,0" stroke="#4f9a3c" stroke-width="0.9"/><line x1="1.9" y1="0" x2="1.9" y2="5.5" stroke="#4f9a3c" stroke-width="0.7"/><circle cx="1.9" cy="5.5" r="1.4" fill="#a6de8a"/><line x1="5.6" y1="0" x2="5.6" y2="-5.5" stroke="#4f9a3c" stroke-width="0.7"/><circle cx="5.6" cy="-5.5" r="1.4" fill="#f3c83e"/><line x1="9.3" y1="0" x2="9.3" y2="5.5" stroke="#4f9a3c" stroke-width="0.7"/><circle cx="9.3" cy="5.5" r="1.4" fill="#86aee6"/><line x1="13.0" y1="0" x2="13.0" y2="-5.5" stroke="#4f9a3c" stroke-width="0.7"/><circle cx="13.0" cy="-5.5" r="1.4" fill="#f3c83e"/><line x1="16.7" y1="0" x2="16.7" y2="5.5" stroke="#4f9a3c" stroke-width="0.7"/><circle cx="16.7" cy="5.5" r="1.4" fill="#a6de8a"/><line x1="20.4" y1="0" x2="20.4" y2="-5.5" stroke="#4f9a3c" stroke-width="0.7"/><circle cx="20.4" cy="-5.5" r="1.4" fill="#f3c83e"/><line x1="24.2" y1="0" x2="24.2" y2="5.5" stroke="#4f9a3c" stroke-width="0.7"/><circle cx="24.2" cy="5.5" r="1.4" fill="#86aee6"/><line x1="27.9" y1="0" x2="27.9" y2="-5.5" stroke="#4f9a3c" stroke-width="0.7"/><circle cx="27.9" cy="-5.5" r="1.4" fill="#f3c83e"/><line x1="31.6" y1="0" x2="31.6" y2="5.5" stroke="#4f9a3c" stroke-width="0.7"/><circle cx="31.6" cy="5.5" r="1.4" fill="#a6de8a"/><line x1="35.3" y1="0" x2="35.3" y2="-5.5" stroke="#4f9a3c" stroke-width="0.7"/><circle cx="35.3" cy="-5.5" r="1.4" fill="#f3c83e"/><line x1="39.0" y1="0" x2="39.0" y2="5.5" stroke="#4f9a3c" stroke-width="0.7"/><circle cx="39.0" cy="5.5" r="1.4" fill="#86aee6"/><line x1="42.7" y1="0" x2="42.7" y2="-5.5" stroke="#4f9a3c" stroke-width="0.7"/><circle cx="42.7" cy="-5.5" r="1.4" fill="#f3c83e"/><line x1="46.5" y1="0" x2="46.5" y2="5.5" stroke="#4f9a3c" stroke-width="0.7"/><circle cx="46.5" cy="5.5" r="1.4" fill="#a6de8a"/><line x1="50.2" y1="0" x2="50.2" y2="-5.5" stroke="#4f9a3c" stroke-width="0.7"/><circle cx="50.2" cy="-5.5" r="1.4" fill="#f3c83e"/></g>
<g transform="translate(347.5,777.0) rotate(-68.1)"><ellipse cx="0.0" cy="0" rx="3.6" ry="4.2" fill="none" stroke="#f0a860" stroke-width="1.6" opacity="0.9"/><ellipse cx="7.1" cy="0" rx="3.6" ry="4.2" fill="none" stroke="#f0a860" stroke-width="1.6" opacity="0.9"/><ellipse cx="14.2" cy="0" rx="3.6" ry="4.2" fill="none" stroke="#f0a860" stroke-width="1.6" opacity="0.9"/><ellipse cx="21.2" cy="0" rx="3.6" ry="4.2" fill="none" stroke="#f0a860" stroke-width="1.6" opacity="0.9"/><ellipse cx="28.3" cy="0" rx="3.6" ry="4.2" fill="none" stroke="#f0a860" stroke-width="1.6" opacity="0.9"/><ellipse cx="35.4" cy="0" rx="3.6" ry="4.2" fill="none" stroke="#f0a860" stroke-width="1.6" opacity="0.9"/><ellipse cx="42.5" cy="0" rx="3.6" ry="4.2" fill="none" stroke="#f0a860" stroke-width="1.6" opacity="0.9"/><ellipse cx="49.6" cy="0" rx="3.6" ry="4.2" fill="none" stroke="#f0a860" stroke-width="1.6" opacity="0.9"/><path d="M0,0 L49.6,0" stroke="#4f9a3c" stroke-width="0.9"/><line x1="1.8" y1="0" x2="1.8" y2="5.5" stroke="#4f9a3c" stroke-width="0.7"/><circle cx="1.8" cy="5.5" r="1.4" fill="#a6de8a"/><line x1="5.3" y1="0" x2="5.3" y2="-5.5" stroke="#4f9a3c" stroke-width="0.7"/><circle cx="5.3" cy="-5.5" r="1.4" fill="#f3c83e"/><line x1="8.9" y1="0" x2="8.9" y2="5.5" stroke="#4f9a3c" stroke-width="0.7"/><circle cx="8.9" cy="5.5" r="1.4" fill="#86aee6"/><line x1="12.4" y1="0" x2="12.4" y2="-5.5" stroke="#4f9a3c" stroke-width="0.7"/><circle cx="12.4" cy="-5.5" r="1.4" fill="#f3c83e"/><line x1="15.9" y1="0" x2="15.9" y2="5.5" stroke="#4f9a3c" stroke-width="0.7"/><circle cx="15.9" cy="5.5" r="1.4" fill="#a6de8a"/><line x1="19.5" y1="0" x2="19.5" y2="-5.5" stroke="#4f9a3c" stroke-width="0.7"/><circle cx="19.5" cy="-5.5" r="1.4" fill="#f3c83e"/><line x1="23.0" y1="0" x2="23.0" y2="5.5" stroke="#4f9a3c" stroke-width="0.7"/><circle cx="23.0" cy="5.5" r="1.4" fill="#86aee6"/><line x1="26.6" y1="0" x2="26.6" y2="-5.5" stroke="#4f9a3c" stroke-width="0.7"/><circle cx="26.6" cy="-5.5" r="1.4" fill="#f3c83e"/><line x1="30.1" y1="0" x2="30.1" y2="5.5" stroke="#4f9a3c" stroke-width="0.7"/><circle cx="30.1" cy="5.5" r="1.4" fill="#a6de8a"/><line x1="33.6" y1="0" x2="33.6" y2="-5.5" stroke="#4f9a3c" stroke-width="0.7"/><circle cx="33.6" cy="-5.5" r="1.4" fill="#f3c83e"/><line x1="37.2" y1="0" x2="37.2" y2="5.5" stroke="#4f9a3c" stroke-width="0.7"/><circle cx="37.2" cy="5.5" r="1.4" fill="#86aee6"/><line x1="40.7" y1="0" x2="40.7" y2="-5.5" stroke="#4f9a3c" stroke-width="0.7"/><circle cx="40.7" cy="-5.5" r="1.4" fill="#f3c83e"/><line x1="44.3" y1="0" x2="44.3" y2="5.5" stroke="#4f9a3c" stroke-width="0.7"/><circle cx="44.3" cy="5.5" r="1.4" fill="#a6de8a"/><line x1="47.8" y1="0" x2="47.8" y2="-5.5" stroke="#4f9a3c" stroke-width="0.7"/><circle cx="47.8" cy="-5.5" r="1.4" fill="#f3c83e"/></g>
<polygon points="299.9,813.1 321.2,819.7 326.1,813.1 335.7,818.2 346.8,808.1 346.1,819.8 359.6,818.4 352.9,825.4 368.8,826.3 356.2,831.3 370.2,837.5 353.1,838.1 359.0,848.0 345.0,842.5 343.9,851.9 334.6,844.4 325.5,853.9 325.6,842.8 315.0,846.6 317.3,838.5 298.5,840.1 312.0,832.4 297.9,826.9 312.4,824.0" fill="#f4c6a4"/>
<text x="335.1" y="834.4" font-size="10.4" text-anchor="middle" font-weight="bold" fill="#c9281f" stroke="#c9281f" stroke-width="0.12">ROS</text>
<g transform="translate(35.0,784.0) scale(1.0)" fill="none" stroke-linecap="round"><path d="M0.5,-1.2C-4.3,-6.9 -0.0,-8.5 -4.1,-7.7C-4.7,-5.0 -7.0,-6.3 -3.8,-11.7C-9.5,-11.2 4.9,-15.5 -0.4,-14.1" stroke="#e9b540" stroke-width="0.7" opacity="0.9"/><path d="M-16.2,-1.5C-19.4,-4.9 -19.5,-3.9 -19.0,-1.3C-18.3,0.4 -14.7,5.7 -10.9,-0.2C-12.9,2.4 -5.4,1.4 -8.0,-3.8" stroke="#3d7cc0" stroke-width="1.2" opacity="0.9"/><path d="M-12.4,11.4C-13.6,15.6 -19.2,14.3 -19.0,11.4C-20.6,16.0 -15.7,18.4 -19.0,15.6C-23.7,11.5 -8.7,15.4 -12.7,17.0" stroke="#3d7cc0" stroke-width="0.6" opacity="0.9"/><path d="M13.5,2.2C13.5,8.0 12.9,5.7 9.7,5.2C9.9,10.7 13.9,0.8 13.0,1.3C18.5,-4.7 15.6,11.8 12.2,8.0" stroke="#f0c865" stroke-width="0.7" opacity="0.9"/><path d="M-5.4,-0.5C-0.1,-1.5 -6.1,3.6 -9.9,4.6C-6.4,2.6 -2.0,8.4 -3.2,4.7C-7.0,-0.2 -7.0,3.9 -7.6,-0.4" stroke="#3d7cc0" stroke-width="0.9" opacity="0.9"/><path d="M0.9,-1.1C-1.8,2.4 -2.7,-9.0 1.1,-6.5C6.5,-4.7 5.5,-4.4 3.7,-2.0C-0.9,-4.2 -0.1,-4.6 1.8,-8.1" stroke="#e4a92e" stroke-width="0.9" opacity="0.9"/><path d="M2.3,2.5C-3.5,-1.7 6.6,-5.3 3.9,-1.2C4.5,-4.6 7.6,-4.7 1.8,-8.3C3.6,-9.6 -2.3,-11.0 -3.2,-8.8" stroke="#e4a92e" stroke-width="1.2" opacity="0.9"/><path d="M-4.6,-10.9C0.4,-13.3 -4.8,-8.2 -0.7,-9.0C3.5,-7.9 0.6,0.8 4.0,-4.0C8.4,-0.6 -2.4,-7.6 -3.9,-2.0" stroke="#f0c865" stroke-width="0.7" opacity="0.9"/><path d="M10.3,2.2C9.0,2.2 -4.2,4.0 1.6,2.6C-2.5,6.9 0.9,6.5 -2.8,5.7C-5.6,0.9 -0.2,10.9 1.3,10.4" stroke="#e9b540" stroke-width="1.2" opacity="0.9"/><path d="M-7.1,-10.0C-10.5,-6.9 -1.7,1.6 -2.9,-2.5C-5.4,1.9 -5.5,7.2 -6.8,1.7C-6.1,-3.0 -8.7,-6.4 -3.2,-1.3" stroke="#3d7cc0" stroke-width="0.7" opacity="0.9"/><path d="M-10.8,10.2C-10.0,15.7 -6.5,10.9 -4.8,13.4C-0.1,8.6 -14.8,9.9 -9.3,12.4C-10.4,16.3 -8.9,6.0 -12.4,9.7" stroke="#78a9dc" stroke-width="1.2" opacity="0.9"/><path d="M-3.6,5.9C-5.0,11.5 8.2,8.5 3.3,11.0C-1.5,12.8 -2.4,11.1 3.1,17.0C4.3,16.4 6.3,11.1 8.6,16.4" stroke="#f0c865" stroke-width="0.9" opacity="0.9"/><path d="M-14.6,2.8C-12.4,4.8 -10.9,2.5 -8.0,2.0C-13.0,-0.7 -4.0,6.2 -9.8,6.9C-4.5,5.5 -16.3,-1.1 -14.0,1.0" stroke="#78a9dc" stroke-width="0.9" opacity="0.9"/><path d="M1.9,-4.0C3.0,-7.0 -10.5,-8.9 -4.7,-5.9C-9.9,-11.0 3.0,-5.4 1.3,-2.9C5.7,-7.0 3.0,-5.6 3.0,-9.1" stroke="#3d7cc0" stroke-width="0.6" opacity="0.9"/><path d="M-7.8,11.6C-12.5,11.8 -0.3,4.1 -5.4,6.6C-0.4,1.0 -3.9,8.5 -1.7,3.7C2.4,6.6 3.4,-8.3 1.1,-4.4" stroke="#3d7cc0" stroke-width="1.2" opacity="0.9"/><path d="M2.0,-5.9C5.7,-5.3 10.6,1.7 10.1,-2.5C8.1,-5.4 -1.3,1.0 4.4,-0.7C-0.9,-2.5 -5.9,-1.8 -1.6,2.7" stroke="#4f8fd1" stroke-width="0.9" opacity="0.9"/><path d="M-7.0,2.7C-6.7,2.7 -4.8,6.0 -6.6,6.7C-9.8,6.7 -9.9,-3.6 -9.6,-0.3C-4.7,4.7 -18.1,5.0 -15.4,3.2" stroke="#78a9dc" stroke-width="0.6" opacity="0.9"/><path d="M-2.4,0.3C-4.8,-2.1 -0.5,-8.6 -1.1,-4.6C-6.1,-9.1 -1.7,-10.4 -3.0,-10.6C-3.9,-5.3 -3.8,-3.9 -6.4,-7.3" stroke="#3d7cc0" stroke-width="1.2" opacity="0.9"/><path d="M-2.4,8.3C-2.1,3.4 -14.0,1.1 -11.1,5.8C-5.4,11.5 -10.0,7.0 -11.4,1.4C-7.2,-1.7 -8.9,2.7 -13.1,-2.6" stroke="#3d7cc0" stroke-width="1.2" opacity="0.9"/><path d="M5.1,-0.3C5.5,4.6 8.5,3.0 6.6,5.7C12.1,6.0 2.6,4.8 1.7,10.4C-1.2,6.5 2.6,5.9 6.8,9.5" stroke="#f0c865" stroke-width="0.9" opacity="0.9"/><path d="M2.1,8.7C0.4,7.7 0.5,1.3 5.1,4.8C8.8,9.7 3.0,2.2 8.7,1.4C10.8,4.1 16.0,-3.3 14.2,1.8" stroke="#78a9dc" stroke-width="0.9" opacity="0.9"/><path d="M-3.5,6.2C-0.9,4.4 -5.1,8.4 -5.5,10.3C-10.2,15.4 -7.8,4.2 -6.4,3.5C-3.7,6.4 3.5,-0.3 0.8,3.3" stroke="#78a9dc" stroke-width="1.2" opacity="0.9"/><path d="M-3.4,11.7C-1.9,12.1 -6.7,10.3 -5.0,16.3C-6.2,20.6 -8.7,19.8 -9.7,17.0C-9.8,19.9 -1.8,14.1 -3.5,12.3" stroke="#3d7cc0" stroke-width="0.6" opacity="0.9"/><path d="M1.6,-2.5C-3.5,0.8 -4.9,7.3 1.0,2.4C3.2,0.0 2.3,-6.3 2.8,-3.4C0.0,-8.2 7.0,-2.8 5.9,2.3" stroke="#e4a92e" stroke-width="0.6" opacity="0.9"/><path d="M-8.6,-8.1C-11.3,-10.5 -2.3,-7.3 -2.6,-4.2C-0.2,0.8 -2.9,-0.8 -4.8,-0.4C-7.2,2.4 -2.8,-1.2 -8.8,-1.9" stroke="#4f8fd1" stroke-width="0.9" opacity="0.9"/><path d="M-7.2,-0.4C-4.6,-3.3 -6.2,3.6 -7.6,6.6C-3.1,5.5 -6.8,4.9 -12.0,-0.3C-17.1,2.4 -7.5,6.0 -11.9,5.0" stroke="#4f8fd1" stroke-width="0.7" opacity="0.9"/><path d="M-8.2,6.7C-10.5,5.5 -7.9,-0.7 -3.3,2.8C-6.6,0.7 -0.0,4.4 -5.1,-1.1C-10.9,1.9 4.8,1.1 2.6,1.1" stroke="#78a9dc" stroke-width="1.2" opacity="0.9"/><path d="M0.1,-9.7C-1.4,-13.7 -8.4,-2.1 -5.2,-5.9C-8.6,-3.3 -13.9,-3.2 -11.9,-4.3C-17.3,-0.7 -0.0,-11.3 -4.3,-9.1" stroke="#f0c865" stroke-width="1.2" opacity="0.9"/><path d="M3.4,9.1C8.3,3.3 -0.6,6.3 3.6,4.4C-0.8,3.9 13.2,11.3 9.1,6.4C13.2,0.9 10.6,2.8 13.3,7.4" stroke="#78a9dc" stroke-width="0.6" opacity="0.9"/><path d="M9.9,4.5C8.6,6.1 19.7,0.1 14.0,-1.6C19.3,-0.5 12.4,4.0 14.2,2.7C9.0,1.0 7.0,-3.3 8.1,0.3" stroke="#f0c865" stroke-width="1.2" opacity="0.9"/></g>
<g transform="translate(126.0,825.0) scale(1.05)" fill="none" stroke-linecap="round"><path d="M-13.6,-7.9C-16.5,-11.4 -16.2,-13.5 -10.6,-15.7C-6.9,-11.3 -3.3,-17.2 -3.4,-15.7C1.4,-11.2 1.0,-11.8 2.6,-17.0" stroke="#4f8fd1" stroke-width="1.2" opacity="0.9"/><path d="M-4.3,-6.5C-4.1,-8.1 -1.9,-1.4 -2.1,-2.1C-3.1,-1.8 9.0,-3.9 4.1,-2.3C8.4,-3.0 4.7,-6.7 -0.7,-5.5" stroke="#e4a92e" stroke-width="1.2" opacity="0.9"/><path d="M0.0,0.0C4.6,4.8 2.4,-4.2 2.9,-5.0C2.7,-8.4 7.4,-6.3 9.5,-8.7C6.8,-3.8 11.6,4.2 13.8,-1.3" stroke="#4f8fd1" stroke-width="1.2" opacity="0.9"/><path d="M3.5,4.4C1.6,-1.5 13.1,5.0 9.3,-0.9C3.9,0.2 16.9,8.3 14.7,3.3C11.9,7.2 20.1,-6.6 14.8,-1.4" stroke="#e9b540" stroke-width="0.6" opacity="0.9"/><path d="M0.8,-10.0C3.6,-15.8 1.8,-7.4 4.8,-11.2C7.1,-12.6 2.0,-1.2 7.5,-7.1C5.6,-5.7 12.8,-8.3 9.9,-3.7" stroke="#f0c865" stroke-width="0.9" opacity="0.9"/><path d="M6.7,5.8C11.1,8.2 12.7,-2.0 13.1,1.2C8.3,0.6 14.6,-7.9 10.1,-3.5C10.3,-7.7 10.5,-9.4 5.0,-6.5" stroke="#f0c865" stroke-width="1.2" opacity="0.9"/><path d="M-6.4,-10.6C-11.3,-9.0 -1.6,-3.8 -1.7,-9.6C-4.9,-10.3 3.5,-12.2 6.5,-13.3C9.0,-16.2 -0.2,-16.7 0.8,-17.0" stroke="#3d7cc0" stroke-width="0.6" opacity="0.9"/><path d="M-0.5,5.4C-4.4,2.1 -3.7,10.1 -0.3,9.9C1.4,6.4 -0.8,16.7 -5.7,11.1C-5.5,12.1 -11.9,4.0 -6.5,5.0" stroke="#f0c865" stroke-width="0.7" opacity="0.9"/><path d="M0.7,0.5C-1.8,6.3 5.4,-8.7 6.9,-2.9C4.6,1.2 7.2,-12.8 5.1,-7.0C5.0,-10.5 0.4,-10.3 -0.6,-5.2" stroke="#3d7cc0" stroke-width="0.9" opacity="0.9"/><path d="M8.6,6.1C7.3,5.7 14.1,11.3 11.0,12.5C6.0,16.7 16.1,21.2 14.4,15.7C16.3,19.0 15.6,11.8 12.9,11.9" stroke="#f0c865" stroke-width="0.9" opacity="0.9"/><path d="M-0.3,0.6C3.3,5.8 -5.0,-0.6 -9.0,1.9C-11.9,1.0 -6.1,13.3 -8.3,8.3C-13.1,6.6 -9.2,-0.1 -15.2,4.1" stroke="#4f8fd1" stroke-width="1.2" opacity="0.9"/><path d="M6.0,7.4C4.7,9.9 19.3,7.5 14.7,9.5C10.5,15.3 22.8,13.4 17.2,14.3C17.4,10.3 10.6,22.4 14.7,17.0" stroke="#4f8fd1" stroke-width="0.7" opacity="0.9"/><path d="M10.8,-8.5C12.0,-3.9 3.1,-6.9 7.0,-7.0C9.5,-1.8 3.4,-6.7 1.0,-6.4C3.9,-4.4 9.6,-3.5 6.5,-7.7" stroke="#f0c865" stroke-width="0.7" opacity="0.9"/><path d="M-4.3,11.5C-4.7,14.0 -2.4,10.2 -7.0,8.4C-1.7,11.2 -4.1,9.5 -5.3,4.7C-1.5,7.9 -5.6,4.6 -2.0,1.7" stroke="#4f8fd1" stroke-width="0.7" opacity="0.9"/><path d="M-0.4,-1.6C-0.8,-5.1 5.1,0.1 -0.5,5.3C3.5,7.2 8.9,5.2 5.9,5.4C3.1,5.4 -2.4,-4.7 3.3,0.3" stroke="#e4a92e" stroke-width="0.9" opacity="0.9"/><path d="M1.8,8.0C1.8,13.9 3.1,-0.3 1.0,3.8C-5.0,-1.8 3.9,10.8 -0.3,10.0C-0.3,5.6 4.1,19.5 1.8,17.0" stroke="#f0c865" stroke-width="0.9" opacity="0.9"/><path d="M2.9,7.1C7.0,2.2 1.1,0.9 -0.5,2.2C3.1,3.8 -10.9,-2.6 -8.6,0.7C-11.3,6.1 -18.2,5.8 -13.6,2.0" stroke="#f0c865" stroke-width="1.2" opacity="0.9"/><path d="M-11.9,-1.0C-14.4,3.7 -3.7,3.7 -8.7,4.4C-10.8,-0.5 -17.4,-6.0 -14.3,-2.3C-16.0,1.3 -20.0,-3.9 -16.8,-7.6" stroke="#4f8fd1" stroke-width="1.2" opacity="0.9"/><path d="M5.9,10.2C11.3,13.1 1.5,14.5 -1.5,10.1C4.2,7.6 7.1,9.1 5.6,7.0C1.7,12.5 -0.1,11.2 1.6,11.5" stroke="#e4a92e" stroke-width="0.7" opacity="0.9"/><path d="M-6.4,-3.6C-1.8,-0.4 -12.6,3.6 -11.9,3.1C-13.2,0.5 -9.5,7.0 -11.2,11.2C-16.0,6.9 -18.2,14.0 -14.7,17.0" stroke="#f0c865" stroke-width="1.2" opacity="0.9"/><path d="M-0.4,-6.2C-1.9,-3.0 -10.0,-14.1 -4.7,-9.9C-1.4,-14.3 -0.8,-10.7 -1.1,-14.8C0.2,-16.1 0.7,-9.5 -5.2,-8.2" stroke="#e9b540" stroke-width="1.2" opacity="0.9"/><path d="M7.0,-9.8C7.0,-11.0 2.0,-14.3 -0.3,-10.3C4.3,-10.9 -3.9,-10.8 -5.0,-6.2C-8.9,-7.5 0.2,-6.8 0.7,-9.3" stroke="#f0c865" stroke-width="0.9" opacity="0.9"/><path d="M-4.8,-1.7C-0.9,-2.2 5.2,-2.7 0.9,-2.4C-4.8,-0.0 5.7,-5.9 5.2,-0.5C9.0,-2.5 1.7,-4.8 1.3,-1.6" stroke="#f0c865" stroke-width="0.9" opacity="0.9"/><path d="M3.2,-0.8C4.7,-2.8 7.0,-8.8 5.3,-7.6C8.6,-5.5 11.5,-6.2 11.3,-10.2C7.4,-13.8 14.5,-7.3 16.4,-3.1" stroke="#e9b540" stroke-width="0.7" opacity="0.9"/><path d="M11.2,-0.7C17.1,-3.9 12.0,9.4 9.6,7.0C10.2,3.4 3.6,4.5 7.3,3.5C10.2,5.9 2.6,-7.5 2.9,-2.1" stroke="#f0c865" stroke-width="0.7" opacity="0.9"/><path d="M-5.9,11.9C-0.9,15.1 -6.0,19.2 -1.1,17.0C4.4,12.9 1.6,15.6 3.7,11.7C-1.5,16.5 9.6,0.8 7.6,6.4" stroke="#3d7cc0" stroke-width="0.9" opacity="0.9"/><path d="M1.1,10.7C-1.8,13.4 8.3,14.2 7.1,11.3C2.7,7.3 16.4,11.8 11.9,7.4C13.3,8.8 18.7,5.6 17.7,6.3" stroke="#4f8fd1" stroke-width="1.2" opacity="0.9"/><path d="M-11.1,2.5C-9.7,4.4 -3.2,0.8 -7.9,-1.4C-3.8,-3.8 -15.5,7.7 -9.6,3.3C-11.8,0.4 -5.2,6.7 -7.8,8.6" stroke="#78a9dc" stroke-width="1.2" opacity="0.9"/><path d="M6.2,1.9C7.5,0.4 4.2,6.5 9.4,5.4C9.3,9.0 20.6,-2.5 15.6,1.7C20.7,-1.9 15.4,14.6 12.9,10.1" stroke="#f0c865" stroke-width="1.2" opacity="0.9"/><path d="M-0.5,-5.7C2.3,-1.8 -5.0,2.5 -0.5,3.0C-3.0,-0.1 -12.8,8.7 -7.4,8.4C-6.9,2.4 -3.5,2.9 -2.1,3.8" stroke="#4f8fd1" stroke-width="0.7" opacity="0.9"/></g>
<g transform="translate(630.0,779.0) scale(1.0)" fill="none" stroke-linecap="round"><path d="M2.5,-0.6C7.4,-1.0 -3.0,-7.7 -3.6,-4.0C-3.0,-5.3 -0.7,-13.8 -5.0,-10.6C-6.3,-16.4 3.3,-7.6 -0.0,-3.6" stroke="#e4a92e" stroke-width="0.6" opacity="0.9"/><path d="M8.5,2.3C12.0,1.4 16.5,0.3 13.7,-0.6C12.1,-6.2 18.2,-4.6 18.3,-1.7C22.5,-2.6 18.5,-7.7 14.5,-8.6" stroke="#e9b540" stroke-width="1.2" opacity="0.9"/><path d="M3.9,8.6C-0.1,12.9 16.8,13.0 11.3,8.1C7.8,12.1 5.3,2.4 4.4,4.9C10.3,0.0 15.6,7.1 12.0,8.2" stroke="#78a9dc" stroke-width="0.7" opacity="0.9"/><path d="M13.6,-10.9C16.2,-13.0 15.0,-8.0 10.4,-13.7C8.1,-18.8 2.6,-19.6 1.4,-14.0C2.7,-18.1 -2.1,-3.9 3.4,-8.3" stroke="#f0c865" stroke-width="0.9" opacity="0.9"/><path d="M10.9,-1.0C12.1,-0.2 5.2,3.4 3.8,-1.8C6.4,-5.0 -4.8,3.6 -2.4,-2.1C-8.3,-3.1 -8.1,-8.7 -9.1,-3.0" stroke="#e9b540" stroke-width="0.7" opacity="0.9"/><path d="M0.5,10.0C0.4,11.1 1.8,0.9 -3.7,6.6C-6.1,7.8 -12.4,8.1 -8.5,11.9C-11.4,15.3 -12.9,7.4 -8.1,3.6" stroke="#e4a92e" stroke-width="0.7" opacity="0.9"/><path d="M5.5,-4.1C0.6,-2.9 7.7,-8.5 2.3,-10.6C7.8,-15.7 6.5,-6.1 3.6,-2.7C7.0,-8.3 4.2,-7.1 -1.3,-4.9" stroke="#e9b540" stroke-width="0.7" opacity="0.9"/><path d="M3.6,7.4C1.1,10.9 -1.8,9.3 0.9,11.2C-0.1,16.2 -8.5,8.3 -4.3,14.2C1.5,13.5 8.9,16.4 3.5,11.3" stroke="#78a9dc" stroke-width="0.7" opacity="0.9"/><path d="M12.7,0.5C9.4,-4.7 12.4,3.4 11.3,6.0C16.2,8.3 17.9,6.8 12.9,2.1C7.0,5.0 14.5,-4.4 18.4,-2.0" stroke="#f0c865" stroke-width="0.6" opacity="0.9"/><path d="M-8.8,-9.3C-8.3,-5.5 -7.8,-6.3 -2.6,-3.0C-7.1,-6.1 0.8,7.5 3.5,2.9C3.4,3.7 8.3,12.2 9.5,9.1" stroke="#78a9dc" stroke-width="0.7" opacity="0.9"/><path d="M0.9,-4.2C4.2,-9.7 -1.1,-12.0 4.3,-11.8C4.5,-11.9 7.6,-15.3 11.8,-10.2C9.4,-13.0 13.1,-7.1 7.3,-6.3" stroke="#e4a92e" stroke-width="0.7" opacity="0.9"/><path d="M3.4,1.6C5.2,2.1 11.1,-2.2 9.5,3.3C11.0,6.4 10.5,5.9 12.7,0.5C9.3,-2.3 10.2,6.1 9.1,2.5" stroke="#3d7cc0" stroke-width="0.7" opacity="0.9"/><path d="M11.6,9.5C11.2,5.0 16.7,6.4 12.9,4.4C14.9,7.2 19.7,-5.5 19.0,-0.8C14.7,2.5 10.1,-7.8 15.5,-2.9" stroke="#e9b540" stroke-width="0.6" opacity="0.9"/><path d="M-15.2,8.2C-13.1,12.2 -3.8,14.8 -9.2,13.9C-6.0,14.0 -5.4,5.2 -8.0,9.9C-13.2,7.8 -7.3,5.1 -8.1,1.2" stroke="#78a9dc" stroke-width="0.7" opacity="0.9"/><path d="M-7.8,6.1C-9.1,4.3 -13.4,4.7 -12.4,9.7C-13.5,12.7 -23.1,12.0 -19.0,9.7C-18.8,9.5 -17.0,7.1 -18.7,2.3" stroke="#3d7cc0" stroke-width="0.7" opacity="0.9"/><path d="M13.6,0.4C9.9,-2.4 2.9,4.1 6.5,3.1C8.8,8.5 2.0,10.3 4.5,7.8C5.5,5.0 -6.0,6.4 -2.6,12.1" stroke="#f0c865" stroke-width="1.2" opacity="0.9"/><path d="M-12.0,-4.3C-6.1,-4.5 -10.1,-9.3 -11.2,-8.9C-10.6,-9.2 -4.5,-11.7 -7.2,-15.9C-1.6,-16.3 -16.6,-14.6 -13.4,-11.4" stroke="#4f8fd1" stroke-width="0.6" opacity="0.9"/><path d="M-12.3,-5.8C-8.0,-1.0 -12.3,5.5 -9.4,1.2C-6.6,-3.8 -16.6,10.8 -11.7,6.8C-10.8,8.9 -19.1,10.4 -13.2,12.4" stroke="#78a9dc" stroke-width="1.2" opacity="0.9"/><path d="M0.6,10.9C-3.9,8.2 -2.6,10.5 -4.6,15.2C-9.4,20.5 0.4,12.9 1.9,9.6C4.0,11.5 5.8,1.3 2.1,4.1" stroke="#e9b540" stroke-width="0.9" opacity="0.9"/><path d="M-1.8,0.2C0.9,3.1 5.0,5.0 3.3,2.2C8.3,1.7 2.0,7.6 6.7,6.9C8.5,6.0 10.7,-0.3 13.1,3.5" stroke="#3d7cc0" stroke-width="1.2" opacity="0.9"/><path d="M4.8,-7.7C3.5,-12.5 -4.5,-15.3 -1.7,-9.9C-4.5,-7.6 2.6,-0.6 2.5,-5.1C6.2,-10.3 8.3,-1.3 8.3,-7.2" stroke="#e9b540" stroke-width="0.7" opacity="0.9"/><path d="M8.9,9.8C9.7,11.9 13.3,20.5 14.6,14.7C18.9,18.3 19.5,13.0 19.0,17.0C17.4,14.5 23.1,16.3 19.0,17.0" stroke="#e9b540" stroke-width="1.2" opacity="0.9"/><path d="M-3.6,-4.6C-1.1,0.2 -8.3,-10.1 -10.3,-4.5C-15.0,-1.4 -10.8,-1.7 -7.6,2.2C-4.3,-1.3 -7.4,3.8 -11.2,-1.3" stroke="#78a9dc" stroke-width="1.2" opacity="0.9"/><path d="M17.2,-8.7C11.8,-10.4 15.8,-20.7 19.0,-15.6C16.9,-11.2 12.9,-21.4 10.6,-17.0C15.7,-14.4 17.9,-18.9 15.0,-17.0" stroke="#f0c865" stroke-width="0.7" opacity="0.9"/><path d="M-2.7,-0.4C-7.8,-4.0 -3.5,2.3 0.6,2.3C-0.4,4.1 -3.9,-4.5 -1.5,-4.0C-5.4,0.8 1.4,-11.6 -1.3,-10.0" stroke="#4f8fd1" stroke-width="0.9" opacity="0.9"/><path d="M4.0,-11.9C-0.3,-12.4 2.3,-7.8 6.0,-4.3C2.0,-10.0 4.2,-3.0 8.9,1.0C3.1,0.4 3.5,3.7 4.6,1.3" stroke="#f0c865" stroke-width="0.6" opacity="0.9"/><path d="M-1.6,11.2C-1.9,7.1 0.7,13.7 -0.7,15.6C2.0,12.9 5.8,16.6 2.3,17.0C-0.7,14.2 11.1,16.3 7.3,14.7" stroke="#e9b540" stroke-width="0.9" opacity="0.9"/><path d="M13.0,2.2C8.1,-1.7 11.6,-3.0 17.1,2.3C13.5,8.0 12.0,-1.0 12.3,-4.7C6.7,-7.0 20.3,-3.7 19.0,-9.0" stroke="#e9b540" stroke-width="0.6" opacity="0.9"/><path d="M-0.9,-2.6C4.3,-6.5 -1.7,6.6 -4.6,3.7C0.5,2.1 -2.2,-5.3 -1.1,-2.1C-3.9,-6.0 2.7,-7.1 0.0,-8.4" stroke="#4f8fd1" stroke-width="1.2" opacity="0.9"/><path d="M-8.8,-11.4C-6.7,-16.3 -19.6,-5.7 -16.4,-9.8C-12.0,-10.4 -14.2,-13.6 -19.0,-16.4C-24.1,-17.6 -13.5,-16.0 -19.0,-11.3" stroke="#4f8fd1" stroke-width="0.9" opacity="0.9"/></g>
<g transform="translate(545.0,820.0) scale(1.0)" fill="none" stroke-linecap="round"><path d="M8.8,-9.8C6.2,-4.0 10.2,-8.8 15.5,-9.0C19.4,-11.9 15.7,-8.6 10.4,-2.9C7.7,-6.9 4.5,-2.6 7.1,-7.0" stroke="#e9b540" stroke-width="0.9" opacity="0.9"/><path d="M1.0,-6.0C6.3,-2.2 6.4,3.5 1.0,-0.6C3.5,-2.9 9.7,-4.0 6.5,-0.4C5.9,-3.6 -1.2,5.7 1.7,2.1" stroke="#e4a92e" stroke-width="0.6" opacity="0.9"/><path d="M14.1,3.6C16.2,-1.7 17.7,0.7 12.7,-0.9C11.9,0.1 9.7,-2.8 8.1,0.8C10.6,-1.8 5.5,12.5 4.5,8.2" stroke="#e4a92e" stroke-width="0.6" opacity="0.9"/><path d="M-3.5,-3.4C-6.1,-1.3 2.1,-1.2 4.2,0.9C6.0,5.3 6.5,7.4 2.1,5.2C6.8,2.7 5.3,9.7 8.3,8.6" stroke="#e9b540" stroke-width="0.7" opacity="0.9"/><path d="M2.1,-3.2C2.9,-4.0 1.6,-6.7 5.1,-11.7C7.9,-10.6 14.0,-7.6 8.3,-8.9C6.2,-14.5 5.7,-13.3 1.7,-10.9" stroke="#e9b540" stroke-width="1.2" opacity="0.9"/><path d="M-7.0,-2.1C-10.0,2.5 2.9,-0.8 -1.1,-0.7C-4.2,-4.2 0.9,4.7 4.1,0.3C9.2,1.1 12.7,2.4 6.8,3.6" stroke="#4f8fd1" stroke-width="0.6" opacity="0.9"/><path d="M8.0,1.7C5.6,1.4 17.4,-2.2 12.6,0.1C16.2,3.7 6.2,1.2 8.1,2.5C5.5,4.0 -3.9,1.5 -0.2,2.7" stroke="#e9b540" stroke-width="0.7" opacity="0.9"/><path d="M-5.1,-8.0C-2.1,-2.9 -13.0,-19.1 -9.6,-13.1C-5.1,-17.7 -2.3,-11.6 -6.0,-15.0C-1.5,-18.6 0.9,-19.0 -1.1,-17.0" stroke="#78a9dc" stroke-width="1.2" opacity="0.9"/><path d="M-18.1,2.3C-16.8,-2.1 -20.6,6.1 -19.0,2.9C-14.9,6.8 -24.0,2.8 -19.0,2.3C-21.3,-0.9 -19.2,13.3 -19.0,7.7" stroke="#78a9dc" stroke-width="0.6" opacity="0.9"/><path d="M9.0,12.0C8.4,13.5 7.8,17.5 2.5,15.8C-2.1,16.5 6.7,9.0 8.3,13.1C12.6,10.2 12.4,1.7 6.8,7.6" stroke="#e4a92e" stroke-width="0.7" opacity="0.9"/><path d="M-5.7,6.9C-5.5,5.8 -13.5,-0.3 -11.1,2.9C-17.0,-2.4 -2.6,11.0 -7.5,10.5C-6.7,15.7 -0.8,5.5 -0.9,6.2" stroke="#f0c865" stroke-width="1.2" opacity="0.9"/><path d="M8.5,3.9C4.2,7.6 7.6,12.0 11.5,7.2C9.7,8.6 1.8,11.0 6.7,12.1C8.5,10.0 8.8,4.5 11.2,10.2" stroke="#f0c865" stroke-width="0.6" opacity="0.9"/><path d="M5.1,10.9C5.0,11.8 14.1,19.8 8.9,16.7C10.7,18.8 16.3,17.2 13.4,15.8C18.5,14.6 17.2,15.7 16.0,11.0" stroke="#4f8fd1" stroke-width="0.7" opacity="0.9"/><path d="M9.8,0.7C9.9,6.3 -0.1,2.4 2.1,3.1C6.9,2.6 -1.6,4.3 -2.3,0.4C-8.0,0.5 -7.7,9.3 -7.2,3.7" stroke="#e9b540" stroke-width="0.9" opacity="0.9"/><path d="M6.8,-0.4C8.0,-5.6 7.8,-10.5 2.7,-5.3C1.5,-4.3 7.0,0.4 5.5,-2.2C2.5,0.8 -2.0,2.2 1.6,-3.1" stroke="#78a9dc" stroke-width="0.6" opacity="0.9"/><path d="M13.3,2.6C9.0,1.6 5.5,1.6 9.9,-0.9C4.0,3.6 10.9,0.9 15.0,1.9C15.1,0.4 12.2,11.9 16.2,7.3" stroke="#e9b540" stroke-width="1.2" opacity="0.9"/><path d="M1.5,-2.7C6.0,-8.5 3.4,-5.0 -2.1,-0.8C1.7,-4.0 3.1,5.8 2.4,6.1C6.3,12.0 3.9,6.3 1.4,1.2" stroke="#78a9dc" stroke-width="1.2" opacity="0.9"/><path d="M11.9,-9.4C9.5,-7.7 10.4,-14.0 5.6,-15.2C2.7,-10.9 14.5,-15.9 12.6,-13.6C10.6,-9.6 22.9,-12.3 18.2,-17.0" stroke="#e9b540" stroke-width="0.6" opacity="0.9"/><path d="M-15.0,-0.6C-18.9,-6.1 -6.5,0.9 -6.7,-3.0C-4.6,-5.0 -6.5,-11.4 -7.7,-7.1C-3.1,-3.2 -6.0,-6.1 -10.1,-1.0" stroke="#3d7cc0" stroke-width="0.7" opacity="0.9"/><path d="M9.0,11.4C5.6,8.4 19.3,10.0 16.5,11.9C18.1,10.7 15.1,10.8 19.0,10.9C19.1,11.6 16.4,10.0 19.0,13.5" stroke="#3d7cc0" stroke-width="1.2" opacity="0.9"/><path d="M0.2,10.4C-0.9,11.9 3.0,14.9 -1.1,17.0C-0.9,11.4 -7.8,10.8 -4.9,13.4C-1.8,8.4 4.9,7.0 -0.9,11.0" stroke="#e9b540" stroke-width="0.6" opacity="0.9"/><path d="M3.3,-0.0C2.7,5.9 3.6,0.7 7.6,3.7C13.2,1.3 10.9,1.8 10.1,-0.1C14.3,-3.9 16.4,-8.2 13.7,-2.5" stroke="#78a9dc" stroke-width="0.7" opacity="0.9"/><path d="M-15.1,-4.1C-16.7,1.8 -12.0,-8.3 -8.1,-4.9C-5.9,0.8 -5.0,-2.5 0.4,-7.3C4.5,-12.1 -5.3,-18.7 -1.7,-14.3" stroke="#78a9dc" stroke-width="1.2" opacity="0.9"/><path d="M-4.6,5.8C-10.1,1.7 -3.8,-3.9 -0.5,-0.8C1.0,-2.7 -6.6,-0.5 -4.9,-3.0C-6.7,2.8 -3.7,-10.4 -0.3,-4.7" stroke="#78a9dc" stroke-width="0.7" opacity="0.9"/><path d="M13.5,-0.1C16.2,-1.4 14.6,-0.1 18.9,1.4C18.3,-3.0 7.6,6.1 13.3,2.7C8.6,0.2 13.3,1.4 12.6,-3.4" stroke="#e4a92e" stroke-width="1.2" opacity="0.9"/><path d="M2.3,2.8C5.0,-3.0 -4.1,2.3 -3.4,-1.3C-7.2,-3.9 -1.4,-0.4 -0.6,1.9C-2.5,4.0 -3.3,3.8 -3.9,-1.7" stroke="#e4a92e" stroke-width="0.9" opacity="0.9"/><path d="M8.7,-8.3C8.6,-4.4 -3.9,-10.4 1.2,-11.9C1.8,-16.2 6.9,-6.9 2.8,-7.4C5.3,-12.8 1.9,-4.4 -2.1,-0.2" stroke="#f0c865" stroke-width="0.7" opacity="0.9"/><path d="M5.1,-5.3C5.5,-2.2 -5.0,-15.7 0.3,-11.3C-1.6,-10.1 8.9,-15.1 3.9,-13.4C7.5,-10.0 0.6,-10.0 6.2,-6.4" stroke="#e9b540" stroke-width="0.7" opacity="0.9"/><path d="M2.8,-10.1C8.2,-9.8 10.1,-10.6 9.8,-5.4C5.8,-9.0 6.5,-11.5 4.2,-6.2C9.7,-1.5 14.1,-4.2 8.5,-4.4" stroke="#4f8fd1" stroke-width="0.9" opacity="0.9"/><path d="M-6.1,3.4C-10.2,6.6 2.4,6.2 1.9,7.1C5.0,7.4 0.4,9.6 -0.1,12.6C-0.3,14.4 -3.0,10.2 -3.5,9.2" stroke="#4f8fd1" stroke-width="0.7" opacity="0.9"/></g>
<g transform="translate(179.0,763.0) rotate(-25) scale(0.95)"><path d="M-12,0 L-8,-2 L-4,1 L0,-2 L4,1 L8,-2 L12,0" stroke="#4c8a3a" stroke-width="1.1" fill="none"/><path d="M-8,-2 L-8,-6 M0,-2 L0,-6 M8,-2 L8,-6 M-4,1 L-4,5 M4,1 L4,5" stroke="#4c8a3a" stroke-width="0.8"/><circle cx="-8" cy="-7" r="2.1" fill="#a4dd8c"/><circle cx="0" cy="-7" r="2.1" fill="#7ea6e0"/><circle cx="8" cy="-7" r="2.1" fill="#a4dd8c"/><circle cx="-4" cy="6" r="2.1" fill="#f5c242"/><circle cx="4" cy="6" r="2.1" fill="#f5c242"/><circle cx="-13" cy="1" r="2.1" fill="#7ea6e0"/><circle cx="13" cy="1" r="2.1" fill="#7ea6e0"/></g>
<g transform="translate(217.0,833.0) rotate(-25) scale(0.95)"><path d="M-12,0 L-8,-2 L-4,1 L0,-2 L4,1 L8,-2 L12,0" stroke="#4c8a3a" stroke-width="1.1" fill="none"/><path d="M-8,-2 L-8,-6 M0,-2 L0,-6 M8,-2 L8,-6 M-4,1 L-4,5 M4,1 L4,5" stroke="#4c8a3a" stroke-width="0.8"/><circle cx="-8" cy="-7" r="2.1" fill="#a4dd8c"/><circle cx="0" cy="-7" r="2.1" fill="#7ea6e0"/><circle cx="8" cy="-7" r="2.1" fill="#a4dd8c"/><circle cx="-4" cy="6" r="2.1" fill="#f5c242"/><circle cx="4" cy="6" r="2.1" fill="#f5c242"/><circle cx="-13" cy="1" r="2.1" fill="#7ea6e0"/><circle cx="13" cy="1" r="2.1" fill="#7ea6e0"/></g>
<g transform="translate(486.0,781.0) rotate(-25) scale(0.95)"><path d="M-12,0 L-8,-2 L-4,1 L0,-2 L4,1 L8,-2 L12,0" stroke="#4c8a3a" stroke-width="1.1" fill="none"/><path d="M-8,-2 L-8,-6 M0,-2 L0,-6 M8,-2 L8,-6 M-4,1 L-4,5 M4,1 L4,5" stroke="#4c8a3a" stroke-width="0.8"/><circle cx="-8" cy="-7" r="2.1" fill="#a4dd8c"/><circle cx="0" cy="-7" r="2.1" fill="#7ea6e0"/><circle cx="8" cy="-7" r="2.1" fill="#a4dd8c"/><circle cx="-4" cy="6" r="2.1" fill="#f5c242"/><circle cx="4" cy="6" r="2.1" fill="#f5c242"/><circle cx="-13" cy="1" r="2.1" fill="#7ea6e0"/><circle cx="13" cy="1" r="2.1" fill="#7ea6e0"/></g>
<g transform="translate(422.0,849.0) rotate(-25) scale(0.95)"><path d="M-12,0 L-8,-2 L-4,1 L0,-2 L4,1 L8,-2 L12,0" stroke="#4c8a3a" stroke-width="1.1" fill="none"/><path d="M-8,-2 L-8,-6 M0,-2 L0,-6 M8,-2 L8,-6 M-4,1 L-4,5 M4,1 L4,5" stroke="#4c8a3a" stroke-width="0.8"/><circle cx="-8" cy="-7" r="2.1" fill="#a4dd8c"/><circle cx="0" cy="-7" r="2.1" fill="#7ea6e0"/><circle cx="8" cy="-7" r="2.1" fill="#a4dd8c"/><circle cx="-4" cy="6" r="2.1" fill="#f5c242"/><circle cx="4" cy="6" r="2.1" fill="#f5c242"/><circle cx="-13" cy="1" r="2.1" fill="#7ea6e0"/><circle cx="13" cy="1" r="2.1" fill="#7ea6e0"/></g>
<ellipse cx="154.7" cy="685.8" rx="13.2" ry="12.3" fill="url(#pinkball)"/><text x="154.7" y="689.4" font-size="10.2" text-anchor="middle" font-weight="bold" fill="#111" stroke="#111" stroke-width="0.12">ATP</text>
<ellipse cx="206.9" cy="714.7" rx="13.2" ry="12.3" fill="url(#pinkball)"/><text x="206.9" y="718.3" font-size="10.2" text-anchor="middle" font-weight="bold" fill="#111" stroke="#111" stroke-width="0.12">ATP</text>
<ellipse cx="525.8" cy="687.5" rx="13.2" ry="12.3" fill="url(#pinkball)"/><text x="525.8" y="691.1" font-size="10.2" text-anchor="middle" font-weight="bold" fill="#111" stroke="#111" stroke-width="0.12">ATP</text>
<ellipse cx="472.2" cy="717.2" rx="13.2" ry="12.3" fill="url(#pinkball)"/><text x="472.2" y="720.8" font-size="10.2" text-anchor="middle" font-weight="bold" fill="#111" stroke="#111" stroke-width="0.12">ATP</text>
<ellipse cx="214.2" cy="767.9" rx="13.2" ry="12.3" fill="url(#blueball)"/><text x="214.2" y="771.5" font-size="10.2" text-anchor="middle" font-weight="bold" fill="#111" stroke="#111" stroke-width="0.12">ATP</text>
<ellipse cx="244.8" cy="787.6" rx="13.2" ry="12.3" fill="url(#blueball)"/><text x="244.8" y="791.2" font-size="10.2" text-anchor="middle" font-weight="bold" fill="#111" stroke="#111" stroke-width="0.12">ATP</text>
<ellipse cx="451.6" cy="767.0" rx="13.2" ry="12.3" fill="url(#blueball)"/><text x="451.6" y="770.6" font-size="10.2" text-anchor="middle" font-weight="bold" fill="#111" stroke="#111" stroke-width="0.12">ATP</text>
<ellipse cx="425.3" cy="787.6" rx="13.2" ry="12.3" fill="url(#blueball)"/><text x="425.3" y="791.2" font-size="10.2" text-anchor="middle" font-weight="bold" fill="#111" stroke="#111" stroke-width="0.12">ATP</text>
<text x="128.6" y="706.3" font-size="8.9" text-anchor="middle" font-weight="bold" fill="#222" stroke="#222" stroke-width="0.12">ATP Escapes</text>
<text x="556.2" y="710.3" font-size="8.9" text-anchor="middle" font-weight="bold" fill="#222" stroke="#222" stroke-width="0.12">ATP Escapes</text>
<text x="148.7" y="861.0" font-size="8.6" text-anchor="middle" font-weight="bold" fill="#222" stroke="#222" stroke-width="0.12" textLength="120" lengthAdjust="spacingAndGlyphs">Nucleic acid &amp; protein leakage</text>
<text x="516.0" y="861.0" font-size="8.6" text-anchor="middle" font-weight="bold" fill="#222" stroke="#222" stroke-width="0.12" textLength="120" lengthAdjust="spacingAndGlyphs">Nucleic acid &amp; protein leakage</text>
<text x="334.4" y="789.8" font-size="8.8" text-anchor="middle" font-weight="bold" fill="#222" stroke="#222" stroke-width="0.12">DNA binding</text>
<text x="336.2" y="860.3" font-size="8.8" text-anchor="middle" font-weight="bold" fill="#222" stroke="#222" stroke-width="0.12">ROS generation</text>
<g transform="translate(100.0,887.5) rotate(0) scale(1.4)"><path d="M-12,0 L-8,-2 L-4,1 L0,-2 L4,1 L8,-2 L12,0" stroke="#4c8a3a" stroke-width="1.1" fill="none"/><path d="M-8,-2 L-8,-6 M0,-2 L0,-6 M8,-2 L8,-6 M-4,1 L-4,5 M4,1 L4,5" stroke="#4c8a3a" stroke-width="0.8"/><circle cx="-8" cy="-7" r="2.1" fill="#a4dd8c"/><circle cx="0" cy="-7" r="2.1" fill="#7ea6e0"/><circle cx="8" cy="-7" r="2.1" fill="#a4dd8c"/><circle cx="-4" cy="6" r="2.1" fill="#f5c242"/><circle cx="4" cy="6" r="2.1" fill="#f5c242"/><circle cx="-13" cy="1" r="2.1" fill="#7ea6e0"/><circle cx="13" cy="1" r="2.1" fill="#7ea6e0"/></g>
<text x="124.9" y="890.7" font-size="9.3" font-weight="bold" fill="#222" stroke="#222" stroke-width="0.12">1003</text>
<circle cx="169.5" cy="880.5" r="1.6" fill="#f8cf72" stroke="#e68e3a" stroke-width="0.55"/><circle cx="170.9" cy="882.7" r="1.6" fill="#f8cf72" stroke="#e68e3a" stroke-width="0.55"/><circle cx="170.5" cy="884.9" r="1.6" fill="#f8cf72" stroke="#e68e3a" stroke-width="0.55"/><circle cx="168.8" cy="887.1" r="1.6" fill="#f8cf72" stroke="#e68e3a" stroke-width="0.55"/><circle cx="168.0" cy="889.3" r="1.6" fill="#f8cf72" stroke="#e68e3a" stroke-width="0.55"/><circle cx="169.1" cy="891.5" r="1.6" fill="#f8cf72" stroke="#e68e3a" stroke-width="0.55"/><circle cx="170.7" cy="893.7" r="1.6" fill="#f8cf72" stroke="#e68e3a" stroke-width="0.55"/><circle cx="170.8" cy="895.9" r="1.6" fill="#f8cf72" stroke="#e68e3a" stroke-width="0.55"/>
<text x="178.6" y="890.9" font-size="9.3" font-weight="bold" fill="#222" stroke="#222" stroke-width="0.12">Lipoteichoie acid</text>
<circle cx="271.3" cy="880.5" r="1.3" fill="#5cb83e"/><circle cx="271.3" cy="882.7" r="1.3" fill="#5cb83e"/><circle cx="271.3" cy="884.9" r="1.3" fill="#5cb83e"/><circle cx="271.3" cy="887.1" r="1.3" fill="#5cb83e"/><circle cx="271.3" cy="889.3" r="1.3" fill="#5cb83e"/><circle cx="271.3" cy="891.5" r="1.3" fill="#5cb83e"/><circle cx="271.3" cy="893.7" r="1.3" fill="#5cb83e"/><circle cx="271.3" cy="895.9" r="1.3" fill="#5cb83e"/>
<text x="281.9" y="890.9" font-size="9.3" font-weight="bold" fill="#222" stroke="#222" stroke-width="0.12">Lipopolysaccharide</text>
<rect x="382.6" y="883.2" width="16.2" height="4.4" rx="2.2" fill="url(#pepg)"/>
<rect x="382.6" y="890.6" width="16.2" height="4.4" rx="2.2" fill="#c8ebb6"/>
<text x="407.4" y="890.9" font-size="9.3" font-weight="bold" fill="#222" stroke="#222" stroke-width="0.12">Peptidoglycan</text>
<circle cx="483.8" cy="881.0" r="3.6" fill="url(#sball)" stroke="#eba283" stroke-width="0.5"/>
<circle cx="483.8" cy="897.3" r="3.6" fill="url(#sball)" stroke="#eba283" stroke-width="0.5"/>
<circle cx="493.4" cy="881.0" r="3.6" fill="url(#gball)" stroke="#86c96a" stroke-width="0.5"/>
<circle cx="493.4" cy="897.3" r="3.6" fill="url(#gball)" stroke="#86c96a" stroke-width="0.5"/>
<path d="M482.6,884.6 q1.2,2.5 0,5 q-1.2,2.5 0,4 M485,884.6 q1.2,2.5 0,5 q-1.2,2.5 0,4" stroke="#eeaa8c" stroke-width="0.6" fill="none"/>
<path d="M492.2,884.6 q1.2,2.5 0,5 q-1.2,2.5 0,4 M494.6,884.6 q1.2,2.5 0,5 q-1.2,2.5 0,4" stroke="#93cf7c" stroke-width="0.6" fill="none"/>
<text x="500.7" y="891.3" font-size="9.3" font-weight="bold" fill="#222" stroke="#222" stroke-width="0.12">Bacterial membrane</text>
<text x="2.0" y="13.5" font-size="16.2" font-weight="bold" fill="#1a1a1a" stroke="#1a1a1a" stroke-width="0.12">a</text>
<rect x="23.8" y="42.2" width="118.8" height="81.3" fill="#050505"/>
<rect x="144.2" y="42.2" width="118.5" height="81.3" fill="#050505"/>
<rect x="142.6" y="42.2" width="1.6" height="81.3" fill="#e8e8e8"/>
<rect x="27.2" y="53.0" width="13.3" height="47.0" fill="url(#smear)" opacity="0.3" filter="url(#gb15)"/>
<rect x="26.7" y="76.2" width="14.3" height="8.9" rx="2" fill="#ffffff" opacity="0.26" filter="url(#gb15)"/><rect x="27.2" y="77.5" width="13.3" height="6.5" rx="1.5" fill="#ffffff" opacity="0.75" filter="url(#gb08)"/>
<rect x="26.7" y="76.2" width="14.3" height="4.2" rx="2" fill="#ffffff" opacity="0.32" filter="url(#gb15)"/><rect x="27.2" y="77.4" width="13.3" height="1.8" rx="1.5" fill="#ffffff" opacity="0.9" filter="url(#gb055)"/>
<rect x="26.7" y="79.0" width="14.3" height="4.0" rx="2" fill="#ffffff" opacity="0.30" filter="url(#gb15)"/><rect x="27.2" y="80.2" width="13.3" height="1.6" rx="1.5" fill="#ffffff" opacity="0.85" filter="url(#gb055)"/>
<rect x="26.7" y="81.5" width="14.3" height="3.9" rx="2" fill="#ffffff" opacity="0.28" filter="url(#gb15)"/><rect x="27.2" y="82.7" width="13.3" height="1.5" rx="1.5" fill="#ffffff" opacity="0.8" filter="url(#gb055)"/>
<rect x="26.7" y="84.7" width="14.3" height="6.0" rx="2" fill="#ffffff" opacity="0.35" filter="url(#gb15)"/><rect x="27.2" y="85.9" width="13.3" height="3.6" rx="1.5" fill="#ffffff" opacity="1.0" filter="url(#gb055)"/>
<rect x="26.7" y="99.1" width="14.3" height="6.4" rx="2" fill="#ffffff" opacity="0.35" filter="url(#gb15)"/><rect x="27.2" y="100.3" width="13.3" height="4.0" rx="1.5" fill="#ffffff" opacity="1.0" filter="url(#gb055)"/>
<rect x="46.2" y="55.0" width="14.6" height="23.0" fill="url(#smear)" opacity="0.15" filter="url(#gb15)"/>
<rect x="46.7" y="55.0" width="13.6" height="3.9" rx="2" fill="#ffffff" opacity="0.12" filter="url(#gb15)"/><rect x="47.2" y="56.2" width="12.6" height="1.5" rx="1.5" fill="#ffffff" opacity="0.35" filter="url(#gb06)"/>
<rect x="45.7" y="72.0" width="15.6" height="8.9" rx="2" fill="#ffffff" opacity="0.35" filter="url(#gb15)"/><rect x="46.2" y="73.2" width="14.6" height="6.5" rx="1.5" fill="#ffffff" opacity="1.0" filter="url(#gb06)"/>
<rect x="65.5" y="55.0" width="15.2" height="21.0" fill="url(#smear)" opacity="0.1" filter="url(#gb15)"/>
<rect x="65.0" y="53.5" width="16.2" height="4.6" rx="2" fill="#ffffff" opacity="0.24" filter="url(#gb15)"/><rect x="65.5" y="54.7" width="15.2" height="2.2" rx="1.5" fill="#ffffff" opacity="0.7" filter="url(#gb06)"/>
<rect x="65.0" y="74.0" width="16.2" height="6.6" rx="2" fill="#ffffff" opacity="0.35" filter="url(#gb15)"/><rect x="65.5" y="75.2" width="15.2" height="4.2" rx="1.5" fill="#ffffff" opacity="1.0" filter="url(#gb06)"/>
<rect x="85.5" y="55.0" width="14.2" height="21.0" fill="url(#smear)" opacity="0.08" filter="url(#gb15)"/>
<rect x="85.0" y="53.4" width="15.2" height="4.8" rx="2" fill="#ffffff" opacity="0.25" filter="url(#gb15)"/><rect x="85.5" y="54.6" width="14.2" height="2.4" rx="1.5" fill="#ffffff" opacity="0.72" filter="url(#gb06)"/>
<rect x="85.0" y="74.3" width="15.2" height="5.8" rx="2" fill="#ffffff" opacity="0.35" filter="url(#gb15)"/><rect x="85.5" y="75.5" width="14.2" height="3.4" rx="1.5" fill="#ffffff" opacity="1.0" filter="url(#gb06)"/>
<rect x="104.9" y="51.6" width="15.2" height="5.4" rx="2" fill="#ffffff" opacity="0.24" filter="url(#gb15)"/><rect x="105.4" y="52.8" width="14.2" height="3.0" rx="1.5" fill="#ffffff" opacity="0.7" filter="url(#gb07)"/>
<rect x="124.8" y="52.1" width="15.3" height="5.0" rx="2" fill="#ffffff" opacity="0.21" filter="url(#gb15)"/><rect x="125.3" y="53.3" width="14.3" height="2.6" rx="1.5" fill="#ffffff" opacity="0.6" filter="url(#gb07)"/>
<rect x="147.2" y="60.0" width="14.3" height="36.0" fill="url(#smear)" opacity="0.28" filter="url(#gb15)"/>
<rect x="146.7" y="75.8" width="15.3" height="4.4" rx="2" fill="#ffffff" opacity="0.24" filter="url(#gb15)"/><rect x="147.2" y="77.0" width="14.3" height="2.0" rx="1.5" fill="#ffffff" opacity="0.7" filter="url(#gb05)"/>
<rect x="146.7" y="78.6" width="15.3" height="4.4" rx="2" fill="#ffffff" opacity="0.26" filter="url(#gb15)"/><rect x="147.2" y="79.8" width="14.3" height="2.0" rx="1.5" fill="#ffffff" opacity="0.75" filter="url(#gb05)"/>
<rect x="146.7" y="81.4" width="15.3" height="4.4" rx="2" fill="#ffffff" opacity="0.26" filter="url(#gb15)"/><rect x="147.2" y="82.6" width="14.3" height="2.0" rx="1.5" fill="#ffffff" opacity="0.75" filter="url(#gb05)"/>
<rect x="146.7" y="84.7" width="15.3" height="4.6" rx="2" fill="#ffffff" opacity="0.28" filter="url(#gb15)"/><rect x="147.2" y="85.9" width="14.3" height="2.2" rx="1.5" fill="#ffffff" opacity="0.8" filter="url(#gb05)"/>
<rect x="146.7" y="87.9" width="15.3" height="4.2" rx="2" fill="#ffffff" opacity="0.21" filter="url(#gb15)"/><rect x="147.2" y="89.1" width="14.3" height="1.8" rx="1.5" fill="#ffffff" opacity="0.6" filter="url(#gb05)"/>
<rect x="146.7" y="98.6" width="15.3" height="5.4" rx="2" fill="#ffffff" opacity="0.35" filter="url(#gb15)"/><rect x="147.2" y="99.8" width="14.3" height="3.0" rx="1.5" fill="#ffffff" opacity="1.0" filter="url(#gb05)"/>
<rect x="165.7" y="52.1" width="16.7" height="3.8" rx="2" fill="#ffffff" opacity="0.05" filter="url(#gb15)"/><rect x="166.2" y="53.3" width="15.7" height="1.4" rx="1.5" fill="#ffffff" opacity="0.15" filter="url(#gb06)"/>
<rect x="165.7" y="70.4" width="16.7" height="10.0" rx="2" fill="#ffffff" opacity="0.35" filter="url(#gb15)"/><rect x="166.2" y="71.6" width="15.7" height="7.6" rx="1.5" fill="#ffffff" opacity="1.0" filter="url(#gb06)"/>
<rect x="185.5" y="52.4" width="15.9" height="3.8" rx="2" fill="#ffffff" opacity="0.07" filter="url(#gb15)"/><rect x="186.0" y="53.6" width="14.9" height="1.4" rx="1.5" fill="#ffffff" opacity="0.2" filter="url(#gb06)"/>
<rect x="185.5" y="71.1" width="15.9" height="9.4" rx="2" fill="#ffffff" opacity="0.35" filter="url(#gb15)"/><rect x="186.0" y="72.3" width="14.9" height="7.0" rx="1.5" fill="#ffffff" opacity="1.0" filter="url(#gb06)"/>
<rect x="204.5" y="50.5" width="16.1" height="6.6" rx="2" fill="#ffffff" opacity="0.35" filter="url(#gb15)"/><rect x="205.0" y="51.7" width="15.1" height="4.2" rx="1.5" fill="#ffffff" opacity="1.0" filter="url(#gb06)"/>
<rect x="204.5" y="72.5" width="16.1" height="6.6" rx="2" fill="#ffffff" opacity="0.21" filter="url(#gb15)"/><rect x="205.0" y="73.7" width="15.1" height="4.2" rx="1.5" fill="#ffffff" opacity="0.6" filter="url(#gb08)"/>
<rect x="224.3" y="51.5" width="15.9" height="5.6" rx="2" fill="#ffffff" opacity="0.32" filter="url(#gb15)"/><rect x="224.8" y="52.7" width="14.9" height="3.2" rx="1.5" fill="#ffffff" opacity="0.9" filter="url(#gb06)"/>
<rect x="243.7" y="51.8" width="15.9" height="5.4" rx="2" fill="#ffffff" opacity="0.30" filter="url(#gb15)"/><rect x="244.2" y="53.0" width="14.9" height="3.0" rx="1.5" fill="#ffffff" opacity="0.85" filter="url(#gb06)"/>
<text x="32.9" y="40.4" font-size="7.9" font-weight="bold" fill="#1a1a1a" stroke="#1a1a1a" stroke-width="0.12" transform="rotate(-45 32.9 40.4)">Marker</text>
<text x="52.5" y="40.4" font-size="7.9" font-weight="bold" fill="#1a1a1a" stroke="#1a1a1a" stroke-width="0.12" transform="rotate(-45 52.5 40.4)">Control</text>
<text x="72.1" y="40.4" font-size="7.9" font-weight="bold" fill="#1a1a1a" stroke="#1a1a1a" stroke-width="0.12" transform="rotate(-45 72.1 40.4)">1×MIC</text>
<text x="91.6" y="40.4" font-size="7.9" font-weight="bold" fill="#1a1a1a" stroke="#1a1a1a" stroke-width="0.12" transform="rotate(-45 91.6 40.4)">2×MIC</text>
<text x="111.5" y="40.4" font-size="7.9" font-weight="bold" fill="#1a1a1a" stroke="#1a1a1a" stroke-width="0.12" transform="rotate(-45 111.5 40.4)">4×MIC</text>
<text x="131.4" y="40.4" font-size="7.9" font-weight="bold" fill="#1a1a1a" stroke="#1a1a1a" stroke-width="0.12" transform="rotate(-45 131.4 40.4)">8×MIC</text>
<text x="155.8" y="40.4" font-size="7.9" font-weight="bold" fill="#1a1a1a" stroke="#1a1a1a" stroke-width="0.12" transform="rotate(-45 155.8 40.4)">Marker</text>
<text x="175.5" y="40.4" font-size="7.9" font-weight="bold" fill="#1a1a1a" stroke="#1a1a1a" stroke-width="0.12" transform="rotate(-45 175.5 40.4)">Control</text>
<text x="194.8" y="40.4" font-size="7.9" font-weight="bold" fill="#1a1a1a" stroke="#1a1a1a" stroke-width="0.12" transform="rotate(-45 194.8 40.4)">1×MIC</text>
<text x="214.0" y="40.4" font-size="7.9" font-weight="bold" fill="#1a1a1a" stroke="#1a1a1a" stroke-width="0.12" transform="rotate(-45 214.0 40.4)">2×MIC</text>
<text x="233.7" y="40.4" font-size="7.9" font-weight="bold" fill="#1a1a1a" stroke="#1a1a1a" stroke-width="0.12" transform="rotate(-45 233.7 40.4)">4×MIC</text>
<text x="253.1" y="40.4" font-size="7.9" font-weight="bold" fill="#1a1a1a" stroke="#1a1a1a" stroke-width="0.12" transform="rotate(-45 253.1 40.4)">8×MIC</text>
<text x="12.2" y="48.3" font-size="7" font-weight="bold" fill="#1a1a1a" stroke="#1a1a1a" stroke-width="0.12">bp</text>
<text x="19.0" y="74.8" font-size="6.6" text-anchor="end" font-weight="bold" fill="#1a1a1a" stroke="#1a1a1a" stroke-width="0.12">15000</text>
<line x1="19.6" y1="72.4" x2="27.2" y2="78.3" stroke="#6f9ad6" stroke-width="0.6"/>
<text x="19.0" y="82.5" font-size="6.6" text-anchor="end" font-weight="bold" fill="#1a1a1a" stroke="#1a1a1a" stroke-width="0.12">10000</text>
<line x1="19.6" y1="80.1" x2="27.2" y2="80.6" stroke="#6f9ad6" stroke-width="0.6"/>
<text x="19.0" y="90.0" font-size="6.6" text-anchor="end" font-weight="bold" fill="#1a1a1a" stroke="#1a1a1a" stroke-width="0.12">7000</text>
<line x1="19.6" y1="87.6" x2="27.2" y2="83.3" stroke="#6f9ad6" stroke-width="0.6"/>
<text x="19.0" y="97.5" font-size="6.6" text-anchor="end" font-weight="bold" fill="#1a1a1a" stroke="#1a1a1a" stroke-width="0.12">5000</text>
<line x1="19.6" y1="95.1" x2="27.2" y2="88.6" stroke="#6f9ad6" stroke-width="0.6"/>
<text x="19.0" y="104.8" font-size="6.6" text-anchor="end" font-weight="bold" fill="#1a1a1a" stroke="#1a1a1a" stroke-width="0.12">2500</text>
<line x1="19.6" y1="102.4" x2="27.2" y2="102.2" stroke="#6f9ad6" stroke-width="0.6"/>
<text x="82.0" y="137.8" font-size="11.6" text-anchor="middle" fill="#1a1a1a" stroke="#1a1a1a" stroke-width="0.12"><tspan font-style="italic">MRSA</tspan> ATCC 33591</text>
<text x="204.0" y="137.5" font-size="11.6" text-anchor="middle" font-style="italic" fill="#1a1a1a" stroke="#1a1a1a" stroke-width="0.12">K. pneumoniae</text>
<text x="204.0" y="150.6" font-size="11.6" text-anchor="middle" fill="#1a1a1a" stroke="#1a1a1a" stroke-width="0.12">ATCC 700603</text>
<text x="279.5" y="12.8" font-size="16.2" font-weight="bold" fill="#1a1a1a" stroke="#1a1a1a" stroke-width="0.12">b</text>
<text x="487.6" y="12.8" font-size="16.2" font-weight="bold" fill="#1a1a1a" stroke="#1a1a1a" stroke-width="0.12">c</text>
<rect x="342.8" y="23.7" width="35.6" height="12.2" fill="#fff"/>
<line x1="342.8" y1="23.7" x2="378.4" y2="23.7" stroke="#a3a3a3" stroke-width="1.1"/>
<line x1="342.8" y1="35.9" x2="378.4" y2="35.9" stroke="#cfcfcf" stroke-width="1.1"/>
<line x1="378.4" y1="23.2" x2="378.4" y2="36.4" stroke="#a3a3a3" stroke-width="1.1"/>
<line x1="364.9" y1="29.8" x2="393.1" y2="29.8" stroke="#a3a3a3" stroke-width="1.1"/>
<line x1="364.9" y1="26.8" x2="364.9" y2="32.8" stroke="#a3a3a3" stroke-width="1.1"/>
<line x1="393.1" y1="26.8" x2="393.1" y2="32.8" stroke="#a3a3a3" stroke-width="1.1"/>
<path d="M361.9,29.8 L364.9,26.8 L367.9,29.8 L364.9,32.8Z" fill="#a3a3a3"/>
<path d="M376.2,29.8 L379.2,26.8 L382.2,29.8 L379.2,32.8Z" fill="#a3a3a3"/>
<path d="M390.1,29.8 L393.1,26.8 L396.1,29.8 L393.1,32.8Z" fill="#a3a3a3"/>
<rect x="342.8" y="43.5" width="49.2" height="12.2" fill="#fff"/>
<line x1="342.8" y1="43.5" x2="392.0" y2="43.5" stroke="#4fb09c" stroke-width="1.1"/>
<line x1="342.8" y1="55.7" x2="392.0" y2="55.7" stroke="#4fb09c" stroke-width="1.1"/>
<line x1="392.0" y1="43.0" x2="392.0" y2="56.2" stroke="#4fb09c" stroke-width="1.1"/>
<line x1="376.0" y1="49.6" x2="406.6" y2="49.6" stroke="#4fb09c" stroke-width="1.1"/>
<line x1="376.0" y1="46.6" x2="376.0" y2="52.6" stroke="#4fb09c" stroke-width="1.1"/>
<line x1="406.6" y1="46.6" x2="406.6" y2="52.6" stroke="#4fb09c" stroke-width="1.1"/>
<circle cx="376.0" cy="50.1" r="2.6" fill="#4fb09c"/>
<circle cx="399.8" cy="44.8" r="2.6" fill="#4fb09c"/>
<circle cx="399.8" cy="54.2" r="2.6" fill="#4fb09c"/>
<rect x="342.8" y="63.6" width="61.0" height="12.2" fill="#fff"/>
<line x1="342.8" y1="63.6" x2="403.8" y2="63.6" stroke="#7ea5d8" stroke-width="1.1"/>
<line x1="342.8" y1="75.8" x2="403.8" y2="75.8" stroke="#b9cfee" stroke-width="1.1"/>
<line x1="403.8" y1="63.1" x2="403.8" y2="76.3" stroke="#7ea5d8" stroke-width="1.1"/>
<line x1="398.8" y1="69.7" x2="409.1" y2="69.7" stroke="#7ea5d8" stroke-width="1.1"/>
<line x1="398.8" y1="66.7" x2="398.8" y2="72.7" stroke="#7ea5d8" stroke-width="1.1"/>
<line x1="409.1" y1="66.7" x2="409.1" y2="72.7" stroke="#7ea5d8" stroke-width="1.1"/>
<circle cx="403.8" cy="65.1" r="2.6" fill="#7ea5d8"/>
<circle cx="411.2" cy="69.7" r="2.6" fill="#7ea5d8"/>
<circle cx="399.1" cy="74.1" r="2.6" fill="#7ea5d8"/>
<rect x="342.8" y="83.8" width="82.4" height="12.2" fill="#fff"/>
<line x1="342.8" y1="83.8" x2="425.2" y2="83.8" stroke="#ef6d72" stroke-width="1.1"/>
<line x1="342.8" y1="96.0" x2="425.2" y2="96.0" stroke="#f6b3b5" stroke-width="1.1"/>
<line x1="425.2" y1="83.3" x2="425.2" y2="96.5" stroke="#ef6d72" stroke-width="1.1"/>
<line x1="420.5" y1="89.9" x2="431.6" y2="89.9" stroke="#ef6d72" stroke-width="1.1"/>
<line x1="420.5" y1="86.9" x2="420.5" y2="92.9" stroke="#ef6d72" stroke-width="1.1"/>
<line x1="431.6" y1="86.9" x2="431.6" y2="92.9" stroke="#ef6d72" stroke-width="1.1"/>
<circle cx="424.4" cy="85.1" r="2.6" fill="#ef6d72"/>
<circle cx="431.6" cy="89.9" r="2.6" fill="#ef6d72"/>
<circle cx="420.5" cy="93.9" r="2.6" fill="#ef6d72"/>
<rect x="342.8" y="103.9" width="46.7" height="12.2" fill="#fff"/>
<line x1="342.8" y1="103.9" x2="389.5" y2="103.9" stroke="#a259c4" stroke-width="1.1"/>
<line x1="342.8" y1="116.1" x2="389.5" y2="116.1" stroke="#c99be0" stroke-width="1.1"/>
<line x1="389.5" y1="103.4" x2="389.5" y2="116.6" stroke="#a259c4" stroke-width="1.1"/>
<line x1="382.0" y1="110.0" x2="402.0" y2="110.0" stroke="#a259c4" stroke-width="1.1"/>
<line x1="382.0" y1="107.0" x2="382.0" y2="113.0" stroke="#a259c4" stroke-width="1.1"/>
<line x1="402.0" y1="107.0" x2="402.0" y2="113.0" stroke="#a259c4" stroke-width="1.1"/>
<circle cx="386.3" cy="105.2" r="2.6" fill="#a259c4"/>
<circle cx="384.2" cy="114.6" r="2.6" fill="#a259c4"/>
<circle cx="402.0" cy="110.0" r="2.6" fill="#a259c4"/>
<line x1="342.8" y1="15.5" x2="342.8" y2="123.7" stroke="#1a1a1a" stroke-width="1.2"/>
<line x1="342.3" y1="123.2" x2="450.2" y2="123.2" stroke="#1a1a1a" stroke-width="1.2"/>
<line x1="339.3" y1="29.8" x2="342.8" y2="29.8" stroke="#1a1a1a" stroke-width="1.1"/>
<text x="336.0" y="33.8" font-size="11.4" text-anchor="end" fill="#1a1a1a" stroke="#1a1a1a" stroke-width="0.12">0</text>
<line x1="339.3" y1="49.6" x2="342.8" y2="49.6" stroke="#1a1a1a" stroke-width="1.1"/>
<text x="336.0" y="53.6" font-size="11.4" text-anchor="end" fill="#1a1a1a" stroke="#1a1a1a" stroke-width="0.12">1×MIC</text>
<line x1="339.3" y1="69.7" x2="342.8" y2="69.7" stroke="#1a1a1a" stroke-width="1.1"/>
<text x="336.0" y="73.7" font-size="11.4" text-anchor="end" fill="#1a1a1a" stroke="#1a1a1a" stroke-width="0.12">2×MIC</text>
<line x1="339.3" y1="89.9" x2="342.8" y2="89.9" stroke="#1a1a1a" stroke-width="1.1"/>
<text x="336.0" y="93.9" font-size="11.4" text-anchor="end" fill="#1a1a1a" stroke="#1a1a1a" stroke-width="0.12">4×MIC</text>
<line x1="339.3" y1="110.0" x2="342.8" y2="110.0" stroke="#1a1a1a" stroke-width="1.1"/>
<text x="336.0" y="114.0" font-size="11.4" text-anchor="end" fill="#1a1a1a" stroke="#1a1a1a" stroke-width="0.12">4×MIC+NAC</text>
<line x1="342.8" y1="123.2" x2="342.8" y2="126.7" stroke="#1a1a1a" stroke-width="1.1"/>
<text x="342.8" y="139.5" font-size="11.4" text-anchor="middle" fill="#1a1a1a" stroke="#1a1a1a" stroke-width="0.12">0</text>
<line x1="378.4" y1="123.2" x2="378.4" y2="126.7" stroke="#1a1a1a" stroke-width="1.1"/>
<text x="378.4" y="139.5" font-size="11.4" text-anchor="middle" fill="#1a1a1a" stroke="#1a1a1a" stroke-width="0.12">1000</text>
<line x1="414.1" y1="123.2" x2="414.1" y2="126.7" stroke="#1a1a1a" stroke-width="1.1"/>
<text x="414.1" y="139.5" font-size="11.4" text-anchor="middle" fill="#1a1a1a" stroke="#1a1a1a" stroke-width="0.12">2000</text>
<line x1="449.8" y1="123.2" x2="449.8" y2="126.7" stroke="#1a1a1a" stroke-width="1.1"/>
<text x="449.8" y="139.5" font-size="11.4" text-anchor="middle" fill="#1a1a1a" stroke="#1a1a1a" stroke-width="0.12">3000</text>
<text x="396.5" y="151.8" font-size="11.8" text-anchor="middle" fill="#1a1a1a" stroke="#1a1a1a" stroke-width="0.12">Fluorescence intensity (a.u.)</text>
<text x="395.5" y="10.9" font-size="11.6" text-anchor="middle" fill="#1a1a1a" stroke="#1a1a1a" stroke-width="0.12"><tspan font-style="italic">MRSA</tspan> ATCC 33591</text>
<polyline points="401.5,29.6 458.6,29.6 458.6,88.6 455.7,88.6" stroke="#1a1a1a" stroke-width="1.1" fill="none"/>
<polyline points="423.7,29.6 423.7,49.3 414.5,49.3" stroke="#1a1a1a" stroke-width="1.1" fill="none"/>
<polyline points="441.2,29.6 441.2,70.0 429.0,70.0" stroke="#1a1a1a" stroke-width="1.1" fill="none"/>
<polyline points="443.8,89.4 449.3,89.4 449.3,110.1 417.3,110.1" stroke="#1a1a1a" stroke-width="1.1" fill="none"/>
<text x="428.0" y="31.2" font-size="9.2" fill="#222" stroke="#222" transform="rotate(90 428.0 31.2)" stroke-width="0.08"><tspan font-style="italic">P</tspan>=0.3010</text>
<text x="445.2" y="34.5" font-size="9.2" fill="#222" stroke="#222" transform="rotate(90 445.2 34.5)" stroke-width="0.08"><tspan font-style="italic">P</tspan>=0.0427</text>
<text x="463.0" y="43.8" font-size="9.2" fill="#222" stroke="#222" transform="rotate(90 463.0 43.8)" stroke-width="0.08"><tspan font-style="italic">P</tspan>=0.0056</text>
<text x="446.5" y="119.4" font-size="8.8" text-anchor="middle" fill="#222" stroke="#222" stroke-width="0.08"><tspan font-style="italic">P</tspan>=0.0055</text>
<rect x="547.0" y="24.2" width="19.1" height="12.2" fill="#fff"/>
<line x1="547.0" y1="24.2" x2="566.1" y2="24.2" stroke="#a3a3a3" stroke-width="1.1"/>
<line x1="547.0" y1="36.4" x2="566.1" y2="36.4" stroke="#cfcfcf" stroke-width="1.1"/>
<line x1="566.1" y1="23.7" x2="566.1" y2="36.9" stroke="#a3a3a3" stroke-width="1.1"/>
<line x1="562.8" y1="30.3" x2="566.1" y2="30.3" stroke="#a3a3a3" stroke-width="1.1"/>
<line x1="562.8" y1="27.3" x2="562.8" y2="33.3" stroke="#a3a3a3" stroke-width="1.1"/>
<line x1="566.1" y1="27.3" x2="566.1" y2="33.3" stroke="#a3a3a3" stroke-width="1.1"/>
<circle cx="565.0" cy="25.8" r="2.6" fill="#a3a3a3"/>
<circle cx="561.0" cy="34.7" r="2.6" fill="#a3a3a3"/>
<circle cx="566.1" cy="34.7" r="2.6" fill="#a3a3a3"/>
<rect x="547.0" y="44.2" width="23.0" height="12.2" fill="#fff"/>
<line x1="547.0" y1="44.2" x2="570.0" y2="44.2" stroke="#4fb09c" stroke-width="1.1"/>
<line x1="547.0" y1="56.4" x2="570.0" y2="56.4" stroke="#4fb09c" stroke-width="1.1"/>
<line x1="570.0" y1="43.7" x2="570.0" y2="56.9" stroke="#4fb09c" stroke-width="1.1"/>
<line x1="568.6" y1="50.3" x2="573.4" y2="50.3" stroke="#4fb09c" stroke-width="1.1"/>
<line x1="568.6" y1="47.3" x2="568.6" y2="53.3" stroke="#4fb09c" stroke-width="1.1"/>
<line x1="573.4" y1="47.3" x2="573.4" y2="53.3" stroke="#4fb09c" stroke-width="1.1"/>
<circle cx="571.8" cy="45.7" r="2.6" fill="#4fb09c"/>
<circle cx="573.4" cy="50.3" r="2.6" fill="#4fb09c"/>
<circle cx="568.6" cy="54.7" r="2.6" fill="#4fb09c"/>
<rect x="547.0" y="64.3" width="53.6" height="12.2" fill="#fff"/>
<line x1="547.0" y1="64.3" x2="600.6" y2="64.3" stroke="#7ea5d8" stroke-width="1.1"/>
<line x1="547.0" y1="76.5" x2="600.6" y2="76.5" stroke="#b9cfee" stroke-width="1.1"/>
<line x1="600.6" y1="63.8" x2="600.6" y2="77.0" stroke="#7ea5d8" stroke-width="1.1"/>
<line x1="591.6" y1="70.4" x2="609.6" y2="70.4" stroke="#7ea5d8" stroke-width="1.1"/>
<line x1="591.6" y1="67.4" x2="591.6" y2="73.4" stroke="#7ea5d8" stroke-width="1.1"/>
<line x1="609.6" y1="67.4" x2="609.6" y2="73.4" stroke="#7ea5d8" stroke-width="1.1"/>
<circle cx="604.2" cy="65.8" r="2.6" fill="#7ea5d8"/>
<circle cx="591.6" cy="70.4" r="2.6" fill="#7ea5d8"/>
<circle cx="605.7" cy="74.9" r="2.6" fill="#7ea5d8"/>
<rect x="547.0" y="84.3" width="62.6" height="12.2" fill="#fff"/>
<line x1="547.0" y1="84.3" x2="609.6" y2="84.3" stroke="#ef6d72" stroke-width="1.1"/>
<line x1="547.0" y1="96.5" x2="609.6" y2="96.5" stroke="#f6b3b5" stroke-width="1.1"/>
<line x1="609.6" y1="83.8" x2="609.6" y2="97.0" stroke="#ef6d72" stroke-width="1.1"/>
<line x1="604.2" y1="90.4" x2="616.5" y2="90.4" stroke="#ef6d72" stroke-width="1.1"/>
<line x1="604.2" y1="87.4" x2="604.2" y2="93.4" stroke="#ef6d72" stroke-width="1.1"/>
<line x1="616.5" y1="87.4" x2="616.5" y2="93.4" stroke="#ef6d72" stroke-width="1.1"/>
<circle cx="607.5" cy="85.8" r="2.6" fill="#ef6d72"/>
<circle cx="616.5" cy="90.4" r="2.6" fill="#ef6d72"/>
<circle cx="604.2" cy="94.6" r="2.6" fill="#ef6d72"/>
<rect x="547.0" y="104.3" width="34.4" height="12.2" fill="#fff"/>
<line x1="547.0" y1="104.3" x2="581.4" y2="104.3" stroke="#a259c4" stroke-width="1.1"/>
<line x1="547.0" y1="116.5" x2="581.4" y2="116.5" stroke="#c99be0" stroke-width="1.1"/>
<line x1="581.4" y1="103.8" x2="581.4" y2="117.0" stroke="#a259c4" stroke-width="1.1"/>
<line x1="569.3" y1="110.4" x2="593.1" y2="110.4" stroke="#a259c4" stroke-width="1.1"/>
<line x1="569.3" y1="107.4" x2="569.3" y2="113.4" stroke="#a259c4" stroke-width="1.1"/>
<line x1="593.1" y1="107.4" x2="593.1" y2="113.4" stroke="#a259c4" stroke-width="1.1"/>
<circle cx="569.3" cy="110.4" r="2.6" fill="#a259c4"/>
<circle cx="584.1" cy="110.4" r="2.6" fill="#a259c4"/>
<circle cx="593.1" cy="110.4" r="2.6" fill="#a259c4"/>
<line x1="547.0" y1="16.0" x2="547.0" y2="124.1" stroke="#1a1a1a" stroke-width="1.2"/>
<line x1="546.5" y1="123.6" x2="655.5" y2="123.6" stroke="#1a1a1a" stroke-width="1.2"/>
<line x1="543.5" y1="30.3" x2="547.0" y2="30.3" stroke="#1a1a1a" stroke-width="1.1"/>
<text x="540.2" y="34.3" font-size="11.4" text-anchor="end" fill="#1a1a1a" stroke="#1a1a1a" stroke-width="0.12">0</text>
<line x1="543.5" y1="50.3" x2="547.0" y2="50.3" stroke="#1a1a1a" stroke-width="1.1"/>
<text x="540.2" y="54.3" font-size="11.4" text-anchor="end" fill="#1a1a1a" stroke="#1a1a1a" stroke-width="0.12">1×MIC</text>
<line x1="543.5" y1="70.4" x2="547.0" y2="70.4" stroke="#1a1a1a" stroke-width="1.1"/>
<text x="540.2" y="74.4" font-size="11.4" text-anchor="end" fill="#1a1a1a" stroke="#1a1a1a" stroke-width="0.12">2×MIC</text>
<line x1="543.5" y1="90.4" x2="547.0" y2="90.4" stroke="#1a1a1a" stroke-width="1.1"/>
<text x="540.2" y="94.4" font-size="11.4" text-anchor="end" fill="#1a1a1a" stroke="#1a1a1a" stroke-width="0.12">4×MIC</text>
<line x1="543.5" y1="110.4" x2="547.0" y2="110.4" stroke="#1a1a1a" stroke-width="1.1"/>
<text x="540.2" y="114.4" font-size="11.4" text-anchor="end" fill="#1a1a1a" stroke="#1a1a1a" stroke-width="0.12">4×MIC+NAC</text>
<line x1="547.0" y1="123.6" x2="547.0" y2="127.1" stroke="#1a1a1a" stroke-width="1.1"/>
<text x="547.0" y="139.9" font-size="11.4" text-anchor="middle" fill="#1a1a1a" stroke="#1a1a1a" stroke-width="0.12">0</text>
<line x1="583.0" y1="123.6" x2="583.0" y2="127.1" stroke="#1a1a1a" stroke-width="1.1"/>
<text x="583.0" y="139.9" font-size="11.4" text-anchor="middle" fill="#1a1a1a" stroke="#1a1a1a" stroke-width="0.12">500</text>
<line x1="619.0" y1="123.6" x2="619.0" y2="127.1" stroke="#1a1a1a" stroke-width="1.1"/>
<text x="619.0" y="139.9" font-size="11.4" text-anchor="middle" fill="#1a1a1a" stroke="#1a1a1a" stroke-width="0.12">1000</text>
<line x1="655.0" y1="123.6" x2="655.0" y2="127.1" stroke="#1a1a1a" stroke-width="1.1"/>
<text x="655.0" y="139.9" font-size="11.4" text-anchor="middle" fill="#1a1a1a" stroke="#1a1a1a" stroke-width="0.12">1500</text>
<text x="600.5" y="152.2" font-size="11.8" text-anchor="middle" fill="#1a1a1a" stroke="#1a1a1a" stroke-width="0.12">Fluorescence intensity (a.u.)</text>
<text x="600.5" y="10.9" font-size="11.6" text-anchor="middle" fill="#1a1a1a" stroke="#1a1a1a" stroke-width="0.12"><tspan font-style="italic">K. pneumoniae</tspan>  ATCC 700603</text>
<polyline points="580.1,30.2 652.1,30.2 652.1,89.3 648.7,89.3" stroke="#1a1a1a" stroke-width="1.1" fill="none"/>
<polyline points="613.7,30.2 613.7,50.7 604.9,50.7" stroke="#1a1a1a" stroke-width="1.1" fill="none"/>
<polyline points="631.6,30.2 631.6,70.4 619.5,70.4" stroke="#1a1a1a" stroke-width="1.1" fill="none"/>
<polyline points="637.5,89.8 642.2,89.8 642.2,110.5 610.0,110.5" stroke="#1a1a1a" stroke-width="1.1" fill="none"/>
<text x="617.4" y="31.7" font-size="9.2" fill="#222" stroke="#222" transform="rotate(90 617.4 31.7)" stroke-width="0.08"><tspan font-style="italic">P</tspan>=0.0162</text>
<text x="636.4" y="34.6" font-size="9.2" fill="#222" stroke="#222" transform="rotate(90 636.4 34.6)" stroke-width="0.08"><tspan font-style="italic">P</tspan>=0.0013</text>
<text x="655.8" y="44.8" font-size="9.2" fill="#222" stroke="#222" transform="rotate(90 655.8 44.8)" stroke-width="0.08"><tspan font-style="italic">P</tspan>=0.0004</text>
<text x="640.0" y="120.4" font-size="8.8" text-anchor="middle" fill="#222" stroke="#222" stroke-width="0.08"><tspan font-style="italic">P</tspan>=0.0243</text>
<text x="1.5" y="172.5" font-size="16.2" font-weight="bold" fill="#1a1a1a" stroke="#1a1a1a" stroke-width="0.12">d</text>
<polyline points="40.1,302.3 50.2,268.9 60.4,269.9 80.6,268.1 121.2,260.9 161.7,254.5" stroke="#a3a3a3" stroke-width="1.0" fill="none"/>
<line x1="40.1" y1="298.4" x2="40.1" y2="306.2" stroke="#a3a3a3" stroke-width="1.0"/>
<line x1="37.5" y1="298.4" x2="42.7" y2="298.4" stroke="#a3a3a3" stroke-width="1.0"/>
<line x1="37.5" y1="306.2" x2="42.7" y2="306.2" stroke="#a3a3a3" stroke-width="1.0"/>
<path d="M40.1,298.8 L43.4,305.0 L36.8,305.0Z" fill="#a3a3a3"/>
<line x1="50.2" y1="258.6" x2="50.2" y2="279.2" stroke="#a3a3a3" stroke-width="1.0"/>
<line x1="47.6" y1="258.6" x2="52.8" y2="258.6" stroke="#a3a3a3" stroke-width="1.0"/>
<line x1="47.6" y1="279.2" x2="52.8" y2="279.2" stroke="#a3a3a3" stroke-width="1.0"/>
<path d="M50.2,265.4 L53.5,271.6 L46.9,271.6Z" fill="#a3a3a3"/>
<line x1="60.4" y1="260.9" x2="60.4" y2="278.9" stroke="#a3a3a3" stroke-width="1.0"/>
<line x1="57.8" y1="260.9" x2="63.0" y2="260.9" stroke="#a3a3a3" stroke-width="1.0"/>
<line x1="57.8" y1="278.9" x2="63.0" y2="278.9" stroke="#a3a3a3" stroke-width="1.0"/>
<path d="M60.4,266.4 L63.7,272.6 L57.1,272.6Z" fill="#a3a3a3"/>
<path d="M80.6,264.6 L83.9,270.8 L77.3,270.8Z" fill="#a3a3a3"/>
<path d="M121.2,257.4 L124.5,263.6 L117.9,263.6Z" fill="#a3a3a3"/>
<line x1="161.7" y1="244.2" x2="161.7" y2="264.8" stroke="#a3a3a3" stroke-width="1.0"/>
<line x1="159.1" y1="244.2" x2="164.3" y2="244.2" stroke="#a3a3a3" stroke-width="1.0"/>
<line x1="159.1" y1="264.8" x2="164.3" y2="264.8" stroke="#a3a3a3" stroke-width="1.0"/>
<path d="M161.7,251.0 L165.0,257.2 L158.4,257.2Z" fill="#a3a3a3"/>
<polyline points="40.1,302.3 50.2,266.8 60.4,269.9 80.6,266.3 121.2,253.7 161.7,253.7" stroke="#4fb09c" stroke-width="1.0" fill="none"/>
<path d="M40.1,298.8 L43.4,305.0 L36.8,305.0Z" fill="#4fb09c"/>
<line x1="50.2" y1="261.7" x2="50.2" y2="272.0" stroke="#4fb09c" stroke-width="1.0"/>
<line x1="47.6" y1="261.7" x2="52.8" y2="261.7" stroke="#4fb09c" stroke-width="1.0"/>
<line x1="47.6" y1="272.0" x2="52.8" y2="272.0" stroke="#4fb09c" stroke-width="1.0"/>
<path d="M50.2,263.3 L53.5,269.5 L46.9,269.5Z" fill="#4fb09c"/>
<line x1="60.4" y1="267.3" x2="60.4" y2="272.5" stroke="#4fb09c" stroke-width="1.0"/>
<line x1="57.8" y1="267.3" x2="63.0" y2="267.3" stroke="#4fb09c" stroke-width="1.0"/>
<line x1="57.8" y1="272.5" x2="63.0" y2="272.5" stroke="#4fb09c" stroke-width="1.0"/>
<path d="M60.4,266.4 L63.7,272.6 L57.1,272.6Z" fill="#4fb09c"/>
<path d="M80.6,262.8 L83.9,269.0 L77.3,269.0Z" fill="#4fb09c"/>
<path d="M121.2,250.2 L124.5,256.4 L117.9,256.4Z" fill="#4fb09c"/>
<path d="M161.7,250.2 L165.0,256.4 L158.4,256.4Z" fill="#4fb09c"/>
<polyline points="40.1,302.3 50.2,259.9 60.4,263.2 80.6,259.1 121.2,247.8 161.7,255.0" stroke="#7ea5d8" stroke-width="1.0" fill="none"/>
<rect x="37.3" y="299.5" width="5.6" height="5.6" fill="#7ea5d8"/>
<line x1="50.2" y1="257.3" x2="50.2" y2="262.5" stroke="#7ea5d8" stroke-width="1.0"/>
<line x1="47.6" y1="257.3" x2="52.8" y2="257.3" stroke="#7ea5d8" stroke-width="1.0"/>
<line x1="47.6" y1="262.5" x2="52.8" y2="262.5" stroke="#7ea5d8" stroke-width="1.0"/>
<rect x="47.4" y="257.1" width="5.6" height="5.6" fill="#7ea5d8"/>
<line x1="60.4" y1="261.2" x2="60.4" y2="265.3" stroke="#7ea5d8" stroke-width="1.0"/>
<line x1="57.8" y1="261.2" x2="63.0" y2="261.2" stroke="#7ea5d8" stroke-width="1.0"/>
<line x1="57.8" y1="265.3" x2="63.0" y2="265.3" stroke="#7ea5d8" stroke-width="1.0"/>
<rect x="57.6" y="260.4" width="5.6" height="5.6" fill="#7ea5d8"/>
<rect x="77.8" y="256.3" width="5.6" height="5.6" fill="#7ea5d8"/>
<rect x="118.4" y="245.0" width="5.6" height="5.6" fill="#7ea5d8"/>
<line x1="161.7" y1="247.3" x2="161.7" y2="262.7" stroke="#7ea5d8" stroke-width="1.0"/>
<line x1="159.1" y1="247.3" x2="164.3" y2="247.3" stroke="#7ea5d8" stroke-width="1.0"/>
<line x1="159.1" y1="262.7" x2="164.3" y2="262.7" stroke="#7ea5d8" stroke-width="1.0"/>
<rect x="158.9" y="252.2" width="5.6" height="5.6" fill="#7ea5d8"/>
<polyline points="40.1,302.3 50.2,248.1 60.4,243.2 80.6,237.8 121.2,241.1 161.7,238.3" stroke="#ef6d72" stroke-width="1.0" fill="none"/>
<circle cx="40.1" cy="302.3" r="2.9" fill="#ef6d72"/>
<line x1="50.2" y1="246.0" x2="50.2" y2="250.1" stroke="#ef6d72" stroke-width="1.0"/>
<line x1="47.6" y1="246.0" x2="52.8" y2="246.0" stroke="#ef6d72" stroke-width="1.0"/>
<line x1="47.6" y1="250.1" x2="52.8" y2="250.1" stroke="#ef6d72" stroke-width="1.0"/>
<circle cx="50.2" cy="248.1" r="2.9" fill="#ef6d72"/>
<circle cx="60.4" cy="243.2" r="2.9" fill="#ef6d72"/>
<line x1="80.6" y1="233.4" x2="80.6" y2="242.2" stroke="#ef6d72" stroke-width="1.0"/>
<line x1="78.0" y1="233.4" x2="83.2" y2="233.4" stroke="#ef6d72" stroke-width="1.0"/>
<line x1="78.0" y1="242.2" x2="83.2" y2="242.2" stroke="#ef6d72" stroke-width="1.0"/>
<circle cx="80.6" cy="237.8" r="2.9" fill="#ef6d72"/>
<line x1="121.2" y1="238.1" x2="121.2" y2="244.2" stroke="#ef6d72" stroke-width="1.0"/>
<line x1="118.6" y1="238.1" x2="123.8" y2="238.1" stroke="#ef6d72" stroke-width="1.0"/>
<line x1="118.6" y1="244.2" x2="123.8" y2="244.2" stroke="#ef6d72" stroke-width="1.0"/>
<circle cx="121.2" cy="241.1" r="2.9" fill="#ef6d72"/>
<line x1="161.7" y1="234.7" x2="161.7" y2="241.9" stroke="#ef6d72" stroke-width="1.0"/>
<line x1="159.1" y1="234.7" x2="164.3" y2="234.7" stroke="#ef6d72" stroke-width="1.0"/>
<line x1="159.1" y1="241.9" x2="164.3" y2="241.9" stroke="#ef6d72" stroke-width="1.0"/>
<circle cx="161.7" cy="238.3" r="2.9" fill="#ef6d72"/>
<line x1="40.1" y1="199.0" x2="40.1" y2="302.8" stroke="#1a1a1a" stroke-width="1.2"/>
<line x1="39.6" y1="302.3" x2="162.2" y2="302.3" stroke="#1a1a1a" stroke-width="1.2"/>
<line x1="36.6" y1="302.3" x2="40.1" y2="302.3" stroke="#1a1a1a" stroke-width="1.1"/>
<text x="33.9" y="306.0" font-size="10.4" text-anchor="end" fill="#1a1a1a" stroke="#1a1a1a" stroke-width="0.12">0.0</text>
<line x1="36.6" y1="276.6" x2="40.1" y2="276.6" stroke="#1a1a1a" stroke-width="1.1"/>
<text x="33.9" y="280.3" font-size="10.4" text-anchor="end" fill="#1a1a1a" stroke="#1a1a1a" stroke-width="0.12">0.1</text>
<line x1="36.6" y1="250.9" x2="40.1" y2="250.9" stroke="#1a1a1a" stroke-width="1.1"/>
<text x="33.9" y="254.6" font-size="10.4" text-anchor="end" fill="#1a1a1a" stroke="#1a1a1a" stroke-width="0.12">0.2</text>
<line x1="36.6" y1="225.2" x2="40.1" y2="225.2" stroke="#1a1a1a" stroke-width="1.1"/>
<text x="33.9" y="228.9" font-size="10.4" text-anchor="end" fill="#1a1a1a" stroke="#1a1a1a" stroke-width="0.12">0.3</text>
<line x1="36.6" y1="199.5" x2="40.1" y2="199.5" stroke="#1a1a1a" stroke-width="1.1"/>
<text x="33.9" y="203.2" font-size="10.4" text-anchor="end" fill="#1a1a1a" stroke="#1a1a1a" stroke-width="0.12">0.4</text>
<line x1="40.1" y1="302.3" x2="40.1" y2="305.8" stroke="#1a1a1a" stroke-width="1.1"/>
<text x="40.1" y="318.1" font-size="10.4" text-anchor="middle" fill="#1a1a1a" stroke="#1a1a1a" stroke-width="0.12">0</text>
<line x1="60.4" y1="302.3" x2="60.4" y2="304.5" stroke="#1a1a1a" stroke-width="1.1"/>
<line x1="80.6" y1="302.3" x2="80.6" y2="305.8" stroke="#1a1a1a" stroke-width="1.1"/>
<text x="80.6" y="318.1" font-size="10.4" text-anchor="middle" fill="#1a1a1a" stroke="#1a1a1a" stroke-width="0.12">2</text>
<line x1="100.9" y1="302.3" x2="100.9" y2="304.5" stroke="#1a1a1a" stroke-width="1.1"/>
<line x1="121.2" y1="302.3" x2="121.2" y2="305.8" stroke="#1a1a1a" stroke-width="1.1"/>
<text x="121.2" y="318.1" font-size="10.4" text-anchor="middle" fill="#1a1a1a" stroke="#1a1a1a" stroke-width="0.12">4</text>
<line x1="141.4" y1="302.3" x2="141.4" y2="304.5" stroke="#1a1a1a" stroke-width="1.1"/>
<line x1="161.7" y1="302.3" x2="161.7" y2="305.8" stroke="#1a1a1a" stroke-width="1.1"/>
<text x="161.7" y="318.1" font-size="10.4" text-anchor="middle" fill="#1a1a1a" stroke="#1a1a1a" stroke-width="0.12">6</text>
<text x="100.9" y="332.3" font-size="11.1" text-anchor="middle" fill="#1a1a1a" stroke="#1a1a1a" stroke-width="0.12">Time (h)</text>
<text x="10.6" y="249.0" font-size="11.6" text-anchor="middle" fill="#1a1a1a" stroke="#1a1a1a" stroke-width="0.12" transform="rotate(-90 10.6 249.0)">OD<tspan font-size="8.6" dy="2.6">260nm</tspan></text>
<text x="101.0" y="187.6" font-size="11.2" text-anchor="middle" fill="#1a1a1a" stroke="#1a1a1a" stroke-width="0.12"><tspan font-style="italic">MRSA</tspan> ATCC 33591</text>
<line x1="52.3" y1="201.3" x2="63.3" y2="201.3" stroke="#ef6d72" stroke-width="1.0"/>
<circle cx="57.8" cy="201.3" r="2.9" fill="#ef6d72"/>
<text x="68.8" y="204.9" font-size="9.8" fill="#1a1a1a" stroke="#1a1a1a" stroke-width="0.12">8×MIC</text>
<line x1="109.5" y1="201.3" x2="120.5" y2="201.3" stroke="#7ea5d8" stroke-width="1.0"/>
<rect x="112.2" y="198.5" width="5.6" height="5.6" fill="#7ea5d8"/>
<text x="126.0" y="204.9" font-size="9.8" fill="#1a1a1a" stroke="#1a1a1a" stroke-width="0.12">4×MIC</text>
<line x1="52.3" y1="214.6" x2="63.3" y2="214.6" stroke="#4fb09c" stroke-width="1.0"/>
<path d="M57.8,211.1 L61.1,217.3 L54.5,217.3Z" fill="#4fb09c"/>
<text x="68.8" y="218.2" font-size="9.8" fill="#1a1a1a" stroke="#1a1a1a" stroke-width="0.12">2×MIC</text>
<line x1="109.5" y1="214.6" x2="120.5" y2="214.6" stroke="#a3a3a3" stroke-width="1.0"/>
<path d="M115.0,211.1 L118.3,217.3 L111.7,217.3Z" fill="#a3a3a3"/>
<text x="126.0" y="218.2" font-size="9.8" fill="#1a1a1a" stroke="#1a1a1a" stroke-width="0.12">Control</text>
<text x="170.5" y="172.5" font-size="16.2" font-weight="bold" fill="#1a1a1a" stroke="#1a1a1a" stroke-width="0.12">e</text>
<polyline points="208.0,301.8 218.1,277.9 228.3,278.3 248.6,277.5 289.1,272.6 329.7,267.9" stroke="#a3a3a3" stroke-width="1.0" fill="none"/>
<path d="M208.0,298.3 L211.3,304.5 L204.7,304.5Z" fill="#a3a3a3"/>
<line x1="218.1" y1="270.7" x2="218.1" y2="285.0" stroke="#a3a3a3" stroke-width="1.0"/>
<line x1="215.5" y1="270.7" x2="220.7" y2="270.7" stroke="#a3a3a3" stroke-width="1.0"/>
<line x1="215.5" y1="285.0" x2="220.7" y2="285.0" stroke="#a3a3a3" stroke-width="1.0"/>
<path d="M218.1,274.4 L221.4,280.6 L214.8,280.6Z" fill="#a3a3a3"/>
<line x1="228.3" y1="272.2" x2="228.3" y2="284.4" stroke="#a3a3a3" stroke-width="1.0"/>
<line x1="225.7" y1="272.2" x2="230.9" y2="272.2" stroke="#a3a3a3" stroke-width="1.0"/>
<line x1="225.7" y1="284.4" x2="230.9" y2="284.4" stroke="#a3a3a3" stroke-width="1.0"/>
<path d="M228.3,274.8 L231.6,281.0 L225.0,281.0Z" fill="#a3a3a3"/>
<path d="M248.6,274.0 L251.9,280.2 L245.3,280.2Z" fill="#a3a3a3"/>
<path d="M289.1,269.1 L292.4,275.3 L285.8,275.3Z" fill="#a3a3a3"/>
<line x1="329.7" y1="261.7" x2="329.7" y2="274.0" stroke="#a3a3a3" stroke-width="1.0"/>
<line x1="327.1" y1="261.7" x2="332.3" y2="261.7" stroke="#a3a3a3" stroke-width="1.0"/>
<line x1="327.1" y1="274.0" x2="332.3" y2="274.0" stroke="#a3a3a3" stroke-width="1.0"/>
<path d="M329.7,264.4 L333.0,270.6 L326.4,270.6Z" fill="#a3a3a3"/>
<polyline points="208.0,301.8 218.1,272.6 228.3,274.8 248.6,273.2 289.1,264.4 329.7,264.4" stroke="#4fb09c" stroke-width="1.0" fill="none"/>
<path d="M208.0,298.3 L211.3,304.5 L204.7,304.5Z" fill="#4fb09c"/>
<line x1="218.1" y1="269.5" x2="218.1" y2="275.6" stroke="#4fb09c" stroke-width="1.0"/>
<line x1="215.5" y1="269.5" x2="220.7" y2="269.5" stroke="#4fb09c" stroke-width="1.0"/>
<line x1="215.5" y1="275.6" x2="220.7" y2="275.6" stroke="#4fb09c" stroke-width="1.0"/>
<path d="M218.1,269.1 L221.4,275.3 L214.8,275.3Z" fill="#4fb09c"/>
<line x1="228.3" y1="271.8" x2="228.3" y2="277.9" stroke="#4fb09c" stroke-width="1.0"/>
<line x1="225.7" y1="271.8" x2="230.9" y2="271.8" stroke="#4fb09c" stroke-width="1.0"/>
<line x1="225.7" y1="277.9" x2="230.9" y2="277.9" stroke="#4fb09c" stroke-width="1.0"/>
<path d="M228.3,271.3 L231.6,277.5 L225.0,277.5Z" fill="#4fb09c"/>
<path d="M248.6,269.7 L251.9,275.9 L245.3,275.9Z" fill="#4fb09c"/>
<path d="M289.1,260.9 L292.4,267.1 L285.8,267.1Z" fill="#4fb09c"/>
<path d="M329.7,260.9 L333.0,267.1 L326.4,267.1Z" fill="#4fb09c"/>
<polyline points="208.0,301.8 218.1,264.4 228.3,267.1 248.6,265.0 289.1,257.4 329.7,263.4" stroke="#7ea5d8" stroke-width="1.0" fill="none"/>
<rect x="205.2" y="299.0" width="5.6" height="5.6" fill="#7ea5d8"/>
<rect x="215.3" y="261.6" width="5.6" height="5.6" fill="#7ea5d8"/>
<rect x="225.5" y="264.3" width="5.6" height="5.6" fill="#7ea5d8"/>
<rect x="245.8" y="262.2" width="5.6" height="5.6" fill="#7ea5d8"/>
<rect x="286.3" y="254.6" width="5.6" height="5.6" fill="#7ea5d8"/>
<line x1="329.7" y1="261.3" x2="329.7" y2="265.4" stroke="#7ea5d8" stroke-width="1.0"/>
<line x1="327.1" y1="261.3" x2="332.3" y2="261.3" stroke="#7ea5d8" stroke-width="1.0"/>
<line x1="327.1" y1="265.4" x2="332.3" y2="265.4" stroke="#7ea5d8" stroke-width="1.0"/>
<rect x="326.9" y="260.6" width="5.6" height="5.6" fill="#7ea5d8"/>
<polyline points="208.0,301.8 218.1,248.2 228.3,245.4 248.6,242.9 289.1,246.0 329.7,244.8" stroke="#ef6d72" stroke-width="1.0" fill="none"/>
<circle cx="208.0" cy="301.8" r="2.9" fill="#ef6d72"/>
<circle cx="218.1" cy="248.2" r="2.9" fill="#ef6d72"/>
<circle cx="228.3" cy="245.4" r="2.9" fill="#ef6d72"/>
<line x1="248.6" y1="240.1" x2="248.6" y2="245.8" stroke="#ef6d72" stroke-width="1.0"/>
<line x1="246.0" y1="240.1" x2="251.2" y2="240.1" stroke="#ef6d72" stroke-width="1.0"/>
<line x1="246.0" y1="245.8" x2="251.2" y2="245.8" stroke="#ef6d72" stroke-width="1.0"/>
<circle cx="248.6" cy="242.9" r="2.9" fill="#ef6d72"/>
<line x1="289.1" y1="244.0" x2="289.1" y2="248.0" stroke="#ef6d72" stroke-width="1.0"/>
<line x1="286.5" y1="244.0" x2="291.7" y2="244.0" stroke="#ef6d72" stroke-width="1.0"/>
<line x1="286.5" y1="248.0" x2="291.7" y2="248.0" stroke="#ef6d72" stroke-width="1.0"/>
<circle cx="289.1" cy="246.0" r="2.9" fill="#ef6d72"/>
<line x1="329.7" y1="242.1" x2="329.7" y2="247.4" stroke="#ef6d72" stroke-width="1.0"/>
<line x1="327.1" y1="242.1" x2="332.3" y2="242.1" stroke="#ef6d72" stroke-width="1.0"/>
<line x1="327.1" y1="247.4" x2="332.3" y2="247.4" stroke="#ef6d72" stroke-width="1.0"/>
<circle cx="329.7" cy="244.8" r="2.9" fill="#ef6d72"/>
<line x1="208.0" y1="199.1" x2="208.0" y2="302.3" stroke="#1a1a1a" stroke-width="1.2"/>
<line x1="207.5" y1="301.8" x2="330.2" y2="301.8" stroke="#1a1a1a" stroke-width="1.2"/>
<line x1="204.5" y1="301.8" x2="208.0" y2="301.8" stroke="#1a1a1a" stroke-width="1.1"/>
<text x="201.8" y="305.5" font-size="10.4" text-anchor="end" fill="#1a1a1a" stroke="#1a1a1a" stroke-width="0.12">0.0</text>
<line x1="204.5" y1="281.4" x2="208.0" y2="281.4" stroke="#1a1a1a" stroke-width="1.1"/>
<text x="201.8" y="285.1" font-size="10.4" text-anchor="end" fill="#1a1a1a" stroke="#1a1a1a" stroke-width="0.12">0.1</text>
<line x1="204.5" y1="260.9" x2="208.0" y2="260.9" stroke="#1a1a1a" stroke-width="1.1"/>
<text x="201.8" y="264.6" font-size="10.4" text-anchor="end" fill="#1a1a1a" stroke="#1a1a1a" stroke-width="0.12">0.2</text>
<line x1="204.5" y1="240.5" x2="208.0" y2="240.5" stroke="#1a1a1a" stroke-width="1.1"/>
<text x="201.8" y="244.2" font-size="10.4" text-anchor="end" fill="#1a1a1a" stroke="#1a1a1a" stroke-width="0.12">0.3</text>
<line x1="204.5" y1="220.0" x2="208.0" y2="220.0" stroke="#1a1a1a" stroke-width="1.1"/>
<text x="201.8" y="223.7" font-size="10.4" text-anchor="end" fill="#1a1a1a" stroke="#1a1a1a" stroke-width="0.12">0.4</text>
<line x1="204.5" y1="199.6" x2="208.0" y2="199.6" stroke="#1a1a1a" stroke-width="1.1"/>
<text x="201.8" y="203.3" font-size="10.4" text-anchor="end" fill="#1a1a1a" stroke="#1a1a1a" stroke-width="0.12">0.5</text>
<line x1="208.0" y1="301.8" x2="208.0" y2="305.3" stroke="#1a1a1a" stroke-width="1.1"/>
<text x="208.0" y="317.6" font-size="10.4" text-anchor="middle" fill="#1a1a1a" stroke="#1a1a1a" stroke-width="0.12">0</text>
<line x1="228.3" y1="301.8" x2="228.3" y2="304.0" stroke="#1a1a1a" stroke-width="1.1"/>
<line x1="248.6" y1="301.8" x2="248.6" y2="305.3" stroke="#1a1a1a" stroke-width="1.1"/>
<text x="248.6" y="317.6" font-size="10.4" text-anchor="middle" fill="#1a1a1a" stroke="#1a1a1a" stroke-width="0.12">2</text>
<line x1="268.8" y1="301.8" x2="268.8" y2="304.0" stroke="#1a1a1a" stroke-width="1.1"/>
<line x1="289.1" y1="301.8" x2="289.1" y2="305.3" stroke="#1a1a1a" stroke-width="1.1"/>
<text x="289.1" y="317.6" font-size="10.4" text-anchor="middle" fill="#1a1a1a" stroke="#1a1a1a" stroke-width="0.12">4</text>
<line x1="309.4" y1="301.8" x2="309.4" y2="304.0" stroke="#1a1a1a" stroke-width="1.1"/>
<line x1="329.7" y1="301.8" x2="329.7" y2="305.3" stroke="#1a1a1a" stroke-width="1.1"/>
<text x="329.7" y="317.6" font-size="10.4" text-anchor="middle" fill="#1a1a1a" stroke="#1a1a1a" stroke-width="0.12">6</text>
<text x="268.8" y="331.8" font-size="11.1" text-anchor="middle" fill="#1a1a1a" stroke="#1a1a1a" stroke-width="0.12">Time (h)</text>
<text x="179.0" y="249.0" font-size="11.6" text-anchor="middle" fill="#1a1a1a" stroke="#1a1a1a" stroke-width="0.12" transform="rotate(-90 179.0 249.0)">OD<tspan font-size="8.6" dy="2.6">280nm</tspan></text>
<text x="270.0" y="188.2" font-size="11.2" text-anchor="middle" fill="#1a1a1a" stroke="#1a1a1a" stroke-width="0.12"><tspan font-style="italic">MRSA</tspan> ATCC 33591</text>
<line x1="220.2" y1="201.3" x2="231.2" y2="201.3" stroke="#ef6d72" stroke-width="1.0"/>
<circle cx="225.7" cy="201.3" r="2.9" fill="#ef6d72"/>
<text x="236.7" y="204.9" font-size="9.8" fill="#1a1a1a" stroke="#1a1a1a" stroke-width="0.12">8×MIC</text>
<line x1="277.4" y1="201.3" x2="288.4" y2="201.3" stroke="#7ea5d8" stroke-width="1.0"/>
<rect x="280.1" y="198.5" width="5.6" height="5.6" fill="#7ea5d8"/>
<text x="293.9" y="204.9" font-size="9.8" fill="#1a1a1a" stroke="#1a1a1a" stroke-width="0.12">4×MIC</text>
<line x1="220.2" y1="214.6" x2="231.2" y2="214.6" stroke="#4fb09c" stroke-width="1.0"/>
<path d="M225.7,211.1 L229.0,217.3 L222.4,217.3Z" fill="#4fb09c"/>
<text x="236.7" y="218.2" font-size="9.8" fill="#1a1a1a" stroke="#1a1a1a" stroke-width="0.12">2×MIC</text>
<line x1="277.4" y1="214.6" x2="288.4" y2="214.6" stroke="#a3a3a3" stroke-width="1.0"/>
<path d="M282.9,211.1 L286.2,217.3 L279.6,217.3Z" fill="#a3a3a3"/>
<text x="293.9" y="218.2" font-size="9.8" fill="#1a1a1a" stroke="#1a1a1a" stroke-width="0.12">Control</text>
<text x="344.5" y="172.5" font-size="16.2" font-weight="bold" fill="#1a1a1a" stroke="#1a1a1a" stroke-width="0.12">f</text>
<polyline points="379.4,302.4 389.6,275.1 399.8,275.1 420.1,273.8 460.9,272.8 501.6,270.0" stroke="#a3a3a3" stroke-width="1.0" fill="none"/>
<path d="M379.4,298.9 L382.7,305.1 L376.1,305.1Z" fill="#a3a3a3"/>
<line x1="389.6" y1="267.5" x2="389.6" y2="282.8" stroke="#a3a3a3" stroke-width="1.0"/>
<line x1="387.0" y1="267.5" x2="392.2" y2="267.5" stroke="#a3a3a3" stroke-width="1.0"/>
<line x1="387.0" y1="282.8" x2="392.2" y2="282.8" stroke="#a3a3a3" stroke-width="1.0"/>
<path d="M389.6,271.6 L392.9,277.8 L386.3,277.8Z" fill="#a3a3a3"/>
<line x1="399.8" y1="271.3" x2="399.8" y2="278.9" stroke="#a3a3a3" stroke-width="1.0"/>
<line x1="397.2" y1="271.3" x2="402.4" y2="271.3" stroke="#a3a3a3" stroke-width="1.0"/>
<line x1="397.2" y1="278.9" x2="402.4" y2="278.9" stroke="#a3a3a3" stroke-width="1.0"/>
<path d="M399.8,271.6 L403.1,277.8 L396.5,277.8Z" fill="#a3a3a3"/>
<path d="M420.1,270.3 L423.4,276.5 L416.8,276.5Z" fill="#a3a3a3"/>
<line x1="460.9" y1="269.0" x2="460.9" y2="276.6" stroke="#a3a3a3" stroke-width="1.0"/>
<line x1="458.3" y1="269.0" x2="463.5" y2="269.0" stroke="#a3a3a3" stroke-width="1.0"/>
<line x1="458.3" y1="276.6" x2="463.5" y2="276.6" stroke="#a3a3a3" stroke-width="1.0"/>
<path d="M460.9,269.3 L464.2,275.5 L457.6,275.5Z" fill="#a3a3a3"/>
<line x1="501.6" y1="267.0" x2="501.6" y2="273.1" stroke="#a3a3a3" stroke-width="1.0"/>
<line x1="499.0" y1="267.0" x2="504.2" y2="267.0" stroke="#a3a3a3" stroke-width="1.0"/>
<line x1="499.0" y1="273.1" x2="504.2" y2="273.1" stroke="#a3a3a3" stroke-width="1.0"/>
<path d="M501.6,266.5 L504.9,272.7 L498.3,272.7Z" fill="#a3a3a3"/>
<polyline points="379.4,302.4 389.6,265.9 399.8,264.7 420.1,263.4 460.9,255.7 501.6,254.2" stroke="#4fb09c" stroke-width="1.0" fill="none"/>
<path d="M379.4,298.9 L382.7,305.1 L376.1,305.1Z" fill="#4fb09c"/>
<path d="M389.6,262.4 L392.9,268.6 L386.3,268.6Z" fill="#4fb09c"/>
<line x1="399.8" y1="260.1" x2="399.8" y2="269.2" stroke="#4fb09c" stroke-width="1.0"/>
<line x1="397.2" y1="260.1" x2="402.4" y2="260.1" stroke="#4fb09c" stroke-width="1.0"/>
<line x1="397.2" y1="269.2" x2="402.4" y2="269.2" stroke="#4fb09c" stroke-width="1.0"/>
<path d="M399.8,261.2 L403.1,267.4 L396.5,267.4Z" fill="#4fb09c"/>
<line x1="420.1" y1="258.3" x2="420.1" y2="268.5" stroke="#4fb09c" stroke-width="1.0"/>
<line x1="417.5" y1="258.3" x2="422.7" y2="258.3" stroke="#4fb09c" stroke-width="1.0"/>
<line x1="417.5" y1="268.5" x2="422.7" y2="268.5" stroke="#4fb09c" stroke-width="1.0"/>
<path d="M420.1,259.9 L423.4,266.1 L416.8,266.1Z" fill="#4fb09c"/>
<line x1="460.9" y1="251.1" x2="460.9" y2="260.3" stroke="#4fb09c" stroke-width="1.0"/>
<line x1="458.3" y1="251.1" x2="463.5" y2="251.1" stroke="#4fb09c" stroke-width="1.0"/>
<line x1="458.3" y1="260.3" x2="463.5" y2="260.3" stroke="#4fb09c" stroke-width="1.0"/>
<path d="M460.9,252.2 L464.2,258.4 L457.6,258.4Z" fill="#4fb09c"/>
<line x1="501.6" y1="251.1" x2="501.6" y2="257.3" stroke="#4fb09c" stroke-width="1.0"/>
<line x1="499.0" y1="251.1" x2="504.2" y2="251.1" stroke="#4fb09c" stroke-width="1.0"/>
<line x1="499.0" y1="257.3" x2="504.2" y2="257.3" stroke="#4fb09c" stroke-width="1.0"/>
<path d="M501.6,250.7 L504.9,256.9 L498.3,256.9Z" fill="#4fb09c"/>
<polyline points="379.4,302.4 389.6,255.7 399.8,254.5 420.1,247.3 460.9,248.6 501.6,249.6" stroke="#7ea5d8" stroke-width="1.0" fill="none"/>
<rect x="376.6" y="299.6" width="5.6" height="5.6" fill="#7ea5d8"/>
<rect x="386.8" y="252.9" width="5.6" height="5.6" fill="#7ea5d8"/>
<line x1="399.8" y1="250.6" x2="399.8" y2="258.3" stroke="#7ea5d8" stroke-width="1.0"/>
<line x1="397.2" y1="250.6" x2="402.4" y2="250.6" stroke="#7ea5d8" stroke-width="1.0"/>
<line x1="397.2" y1="258.3" x2="402.4" y2="258.3" stroke="#7ea5d8" stroke-width="1.0"/>
<rect x="397.0" y="251.7" width="5.6" height="5.6" fill="#7ea5d8"/>
<line x1="420.1" y1="242.2" x2="420.1" y2="252.4" stroke="#7ea5d8" stroke-width="1.0"/>
<line x1="417.5" y1="242.2" x2="422.7" y2="242.2" stroke="#7ea5d8" stroke-width="1.0"/>
<line x1="417.5" y1="252.4" x2="422.7" y2="252.4" stroke="#7ea5d8" stroke-width="1.0"/>
<rect x="417.3" y="244.5" width="5.6" height="5.6" fill="#7ea5d8"/>
<rect x="458.1" y="245.8" width="5.6" height="5.6" fill="#7ea5d8"/>
<line x1="501.6" y1="246.6" x2="501.6" y2="252.7" stroke="#7ea5d8" stroke-width="1.0"/>
<line x1="499.0" y1="246.6" x2="504.2" y2="246.6" stroke="#7ea5d8" stroke-width="1.0"/>
<line x1="499.0" y1="252.7" x2="504.2" y2="252.7" stroke="#7ea5d8" stroke-width="1.0"/>
<rect x="498.8" y="246.8" width="5.6" height="5.6" fill="#7ea5d8"/>
<polyline points="379.4,302.4 389.6,241.7 399.8,238.4 420.1,235.3 460.9,228.2 501.6,230.0" stroke="#ef6d72" stroke-width="1.0" fill="none"/>
<circle cx="379.4" cy="302.4" r="2.9" fill="#ef6d72"/>
<line x1="389.6" y1="234.8" x2="389.6" y2="248.6" stroke="#ef6d72" stroke-width="1.0"/>
<line x1="387.0" y1="234.8" x2="392.2" y2="234.8" stroke="#ef6d72" stroke-width="1.0"/>
<line x1="387.0" y1="248.6" x2="392.2" y2="248.6" stroke="#ef6d72" stroke-width="1.0"/>
<circle cx="389.6" cy="241.7" r="2.9" fill="#ef6d72"/>
<line x1="399.8" y1="236.4" x2="399.8" y2="240.4" stroke="#ef6d72" stroke-width="1.0"/>
<line x1="397.2" y1="236.4" x2="402.4" y2="236.4" stroke="#ef6d72" stroke-width="1.0"/>
<line x1="397.2" y1="240.4" x2="402.4" y2="240.4" stroke="#ef6d72" stroke-width="1.0"/>
<circle cx="399.8" cy="238.4" r="2.9" fill="#ef6d72"/>
<line x1="420.1" y1="229.7" x2="420.1" y2="240.9" stroke="#ef6d72" stroke-width="1.0"/>
<line x1="417.5" y1="229.7" x2="422.7" y2="229.7" stroke="#ef6d72" stroke-width="1.0"/>
<line x1="417.5" y1="240.9" x2="422.7" y2="240.9" stroke="#ef6d72" stroke-width="1.0"/>
<circle cx="420.1" cy="235.3" r="2.9" fill="#ef6d72"/>
<circle cx="460.9" cy="228.2" r="2.9" fill="#ef6d72"/>
<line x1="501.6" y1="226.7" x2="501.6" y2="233.3" stroke="#ef6d72" stroke-width="1.0"/>
<line x1="499.0" y1="226.7" x2="504.2" y2="226.7" stroke="#ef6d72" stroke-width="1.0"/>
<line x1="499.0" y1="233.3" x2="504.2" y2="233.3" stroke="#ef6d72" stroke-width="1.0"/>
<circle cx="501.6" cy="230.0" r="2.9" fill="#ef6d72"/>
<line x1="379.4" y1="199.9" x2="379.4" y2="302.9" stroke="#1a1a1a" stroke-width="1.2"/>
<line x1="378.9" y1="302.4" x2="502.1" y2="302.4" stroke="#1a1a1a" stroke-width="1.2"/>
<line x1="375.9" y1="302.4" x2="379.4" y2="302.4" stroke="#1a1a1a" stroke-width="1.1"/>
<text x="373.2" y="306.1" font-size="10.4" text-anchor="end" fill="#1a1a1a" stroke="#1a1a1a" stroke-width="0.12">0.0</text>
<line x1="375.9" y1="276.9" x2="379.4" y2="276.9" stroke="#1a1a1a" stroke-width="1.1"/>
<text x="373.2" y="280.6" font-size="10.4" text-anchor="end" fill="#1a1a1a" stroke="#1a1a1a" stroke-width="0.12">0.1</text>
<line x1="375.9" y1="251.4" x2="379.4" y2="251.4" stroke="#1a1a1a" stroke-width="1.1"/>
<text x="373.2" y="255.1" font-size="10.4" text-anchor="end" fill="#1a1a1a" stroke="#1a1a1a" stroke-width="0.12">0.2</text>
<line x1="375.9" y1="225.9" x2="379.4" y2="225.9" stroke="#1a1a1a" stroke-width="1.1"/>
<text x="373.2" y="229.6" font-size="10.4" text-anchor="end" fill="#1a1a1a" stroke="#1a1a1a" stroke-width="0.12">0.3</text>
<line x1="375.9" y1="200.4" x2="379.4" y2="200.4" stroke="#1a1a1a" stroke-width="1.1"/>
<text x="373.2" y="204.1" font-size="10.4" text-anchor="end" fill="#1a1a1a" stroke="#1a1a1a" stroke-width="0.12">0.4</text>
<line x1="379.4" y1="302.4" x2="379.4" y2="305.9" stroke="#1a1a1a" stroke-width="1.1"/>
<text x="379.4" y="318.2" font-size="10.4" text-anchor="middle" fill="#1a1a1a" stroke="#1a1a1a" stroke-width="0.12">0</text>
<line x1="399.8" y1="302.4" x2="399.8" y2="304.6" stroke="#1a1a1a" stroke-width="1.1"/>
<line x1="420.1" y1="302.4" x2="420.1" y2="305.9" stroke="#1a1a1a" stroke-width="1.1"/>
<text x="420.1" y="318.2" font-size="10.4" text-anchor="middle" fill="#1a1a1a" stroke="#1a1a1a" stroke-width="0.12">2</text>
<line x1="440.5" y1="302.4" x2="440.5" y2="304.6" stroke="#1a1a1a" stroke-width="1.1"/>
<line x1="460.9" y1="302.4" x2="460.9" y2="305.9" stroke="#1a1a1a" stroke-width="1.1"/>
<text x="460.9" y="318.2" font-size="10.4" text-anchor="middle" fill="#1a1a1a" stroke="#1a1a1a" stroke-width="0.12">4</text>
<line x1="481.2" y1="302.4" x2="481.2" y2="304.6" stroke="#1a1a1a" stroke-width="1.1"/>
<line x1="501.6" y1="302.4" x2="501.6" y2="305.9" stroke="#1a1a1a" stroke-width="1.1"/>
<text x="501.6" y="318.2" font-size="10.4" text-anchor="middle" fill="#1a1a1a" stroke="#1a1a1a" stroke-width="0.12">6</text>
<text x="440.5" y="332.4" font-size="11.1" text-anchor="middle" fill="#1a1a1a" stroke="#1a1a1a" stroke-width="0.12">Time (h)</text>
<text x="350.8" y="249.0" font-size="11.6" text-anchor="middle" fill="#1a1a1a" stroke="#1a1a1a" stroke-width="0.12" transform="rotate(-90 350.8 249.0)">OD<tspan font-size="8.6" dy="2.6">260nm</tspan></text>
<text x="430.0" y="188.2" font-size="11.2" text-anchor="middle" fill="#1a1a1a" stroke="#1a1a1a" stroke-width="0.12"><tspan font-style="italic">K. pneumoniae</tspan>  ATCC 700603</text>
<line x1="391.6" y1="201.3" x2="402.6" y2="201.3" stroke="#ef6d72" stroke-width="1.0"/>
<circle cx="397.1" cy="201.3" r="2.9" fill="#ef6d72"/>
<text x="408.1" y="204.9" font-size="9.8" fill="#1a1a1a" stroke="#1a1a1a" stroke-width="0.12">8×MIC</text>
<line x1="448.8" y1="201.3" x2="459.8" y2="201.3" stroke="#7ea5d8" stroke-width="1.0"/>
<rect x="451.5" y="198.5" width="5.6" height="5.6" fill="#7ea5d8"/>
<text x="465.3" y="204.9" font-size="9.8" fill="#1a1a1a" stroke="#1a1a1a" stroke-width="0.12">4×MIC</text>
<line x1="391.6" y1="214.6" x2="402.6" y2="214.6" stroke="#4fb09c" stroke-width="1.0"/>
<path d="M397.1,211.1 L400.4,217.3 L393.8,217.3Z" fill="#4fb09c"/>
<text x="408.1" y="218.2" font-size="9.8" fill="#1a1a1a" stroke="#1a1a1a" stroke-width="0.12">2×MIC</text>
<line x1="448.8" y1="214.6" x2="459.8" y2="214.6" stroke="#a3a3a3" stroke-width="1.0"/>
<path d="M454.3,211.1 L457.6,217.3 L451.0,217.3Z" fill="#a3a3a3"/>
<text x="465.3" y="218.2" font-size="9.8" fill="#1a1a1a" stroke="#1a1a1a" stroke-width="0.12">Control</text>
<text x="512.5" y="172.5" font-size="16.2" font-weight="bold" fill="#1a1a1a" stroke="#1a1a1a" stroke-width="0.12">g</text>
<polyline points="551.5,302.3 561.6,282.2 571.8,282.2 592.0,281.5 632.6,280.7 673.1,279.1" stroke="#a3a3a3" stroke-width="1.0" fill="none"/>
<path d="M551.5,298.8 L554.8,305.0 L548.2,305.0Z" fill="#a3a3a3"/>
<line x1="561.6" y1="276.0" x2="561.6" y2="288.3" stroke="#a3a3a3" stroke-width="1.0"/>
<line x1="559.0" y1="276.0" x2="564.2" y2="276.0" stroke="#a3a3a3" stroke-width="1.0"/>
<line x1="559.0" y1="288.3" x2="564.2" y2="288.3" stroke="#a3a3a3" stroke-width="1.0"/>
<path d="M561.6,278.7 L564.9,284.9 L558.3,284.9Z" fill="#a3a3a3"/>
<line x1="571.8" y1="279.1" x2="571.8" y2="285.2" stroke="#a3a3a3" stroke-width="1.0"/>
<line x1="569.2" y1="279.1" x2="574.4" y2="279.1" stroke="#a3a3a3" stroke-width="1.0"/>
<line x1="569.2" y1="285.2" x2="574.4" y2="285.2" stroke="#a3a3a3" stroke-width="1.0"/>
<path d="M571.8,278.7 L575.1,284.9 L568.5,284.9Z" fill="#a3a3a3"/>
<path d="M592.0,278.0 L595.3,284.2 L588.7,284.2Z" fill="#a3a3a3"/>
<line x1="632.6" y1="278.2" x2="632.6" y2="283.2" stroke="#a3a3a3" stroke-width="1.0"/>
<line x1="630.0" y1="278.2" x2="635.2" y2="278.2" stroke="#a3a3a3" stroke-width="1.0"/>
<line x1="630.0" y1="283.2" x2="635.2" y2="283.2" stroke="#a3a3a3" stroke-width="1.0"/>
<path d="M632.6,277.2 L635.9,283.4 L629.3,283.4Z" fill="#a3a3a3"/>
<path d="M673.1,275.6 L676.4,281.8 L669.8,281.8Z" fill="#a3a3a3"/>
<polyline points="551.5,302.3 561.6,271.5 571.8,270.4 592.0,269.8 632.6,264.3 673.1,263.4" stroke="#4fb09c" stroke-width="1.0" fill="none"/>
<path d="M551.5,298.8 L554.8,305.0 L548.2,305.0Z" fill="#4fb09c"/>
<path d="M561.6,268.0 L564.9,274.2 L558.3,274.2Z" fill="#4fb09c"/>
<line x1="571.8" y1="266.7" x2="571.8" y2="274.1" stroke="#4fb09c" stroke-width="1.0"/>
<line x1="569.2" y1="266.7" x2="574.4" y2="266.7" stroke="#4fb09c" stroke-width="1.0"/>
<line x1="569.2" y1="274.1" x2="574.4" y2="274.1" stroke="#4fb09c" stroke-width="1.0"/>
<path d="M571.8,266.9 L575.1,273.1 L568.5,273.1Z" fill="#4fb09c"/>
<line x1="592.0" y1="266.7" x2="592.0" y2="272.9" stroke="#4fb09c" stroke-width="1.0"/>
<line x1="589.4" y1="266.7" x2="594.6" y2="266.7" stroke="#4fb09c" stroke-width="1.0"/>
<line x1="589.4" y1="272.9" x2="594.6" y2="272.9" stroke="#4fb09c" stroke-width="1.0"/>
<path d="M592.0,266.3 L595.3,272.5 L588.7,272.5Z" fill="#4fb09c"/>
<line x1="632.6" y1="260.2" x2="632.6" y2="268.4" stroke="#4fb09c" stroke-width="1.0"/>
<line x1="630.0" y1="260.2" x2="635.2" y2="260.2" stroke="#4fb09c" stroke-width="1.0"/>
<line x1="630.0" y1="268.4" x2="635.2" y2="268.4" stroke="#4fb09c" stroke-width="1.0"/>
<path d="M632.6,260.8 L635.9,267.0 L629.3,267.0Z" fill="#4fb09c"/>
<line x1="673.1" y1="261.0" x2="673.1" y2="265.9" stroke="#4fb09c" stroke-width="1.0"/>
<line x1="670.5" y1="261.0" x2="675.7" y2="261.0" stroke="#4fb09c" stroke-width="1.0"/>
<line x1="670.5" y1="265.9" x2="675.7" y2="265.9" stroke="#4fb09c" stroke-width="1.0"/>
<path d="M673.1,259.9 L676.4,266.1 L669.8,266.1Z" fill="#4fb09c"/>
<polyline points="551.5,302.3 561.6,259.5 571.8,259.3 592.0,254.6 632.6,255.4 673.1,256.7" stroke="#7ea5d8" stroke-width="1.0" fill="none"/>
<rect x="548.7" y="299.5" width="5.6" height="5.6" fill="#7ea5d8"/>
<rect x="558.8" y="256.7" width="5.6" height="5.6" fill="#7ea5d8"/>
<line x1="571.8" y1="257.3" x2="571.8" y2="261.4" stroke="#7ea5d8" stroke-width="1.0"/>
<line x1="569.2" y1="257.3" x2="574.4" y2="257.3" stroke="#7ea5d8" stroke-width="1.0"/>
<line x1="569.2" y1="261.4" x2="574.4" y2="261.4" stroke="#7ea5d8" stroke-width="1.0"/>
<rect x="569.0" y="256.5" width="5.6" height="5.6" fill="#7ea5d8"/>
<line x1="592.0" y1="251.5" x2="592.0" y2="257.7" stroke="#7ea5d8" stroke-width="1.0"/>
<line x1="589.4" y1="251.5" x2="594.6" y2="251.5" stroke="#7ea5d8" stroke-width="1.0"/>
<line x1="589.4" y1="257.7" x2="594.6" y2="257.7" stroke="#7ea5d8" stroke-width="1.0"/>
<rect x="589.2" y="251.8" width="5.6" height="5.6" fill="#7ea5d8"/>
<rect x="629.8" y="252.6" width="5.6" height="5.6" fill="#7ea5d8"/>
<line x1="673.1" y1="254.2" x2="673.1" y2="259.1" stroke="#7ea5d8" stroke-width="1.0"/>
<line x1="670.5" y1="254.2" x2="675.7" y2="254.2" stroke="#7ea5d8" stroke-width="1.0"/>
<line x1="670.5" y1="259.1" x2="675.7" y2="259.1" stroke="#7ea5d8" stroke-width="1.0"/>
<rect x="670.3" y="253.9" width="5.6" height="5.6" fill="#7ea5d8"/>
<polyline points="551.5,302.3 561.6,240.8 571.8,239.4 592.0,237.9 632.6,232.0 673.1,233.8" stroke="#ef6d72" stroke-width="1.0" fill="none"/>
<circle cx="551.5" cy="302.3" r="2.9" fill="#ef6d72"/>
<line x1="561.6" y1="236.3" x2="561.6" y2="245.3" stroke="#ef6d72" stroke-width="1.0"/>
<line x1="559.0" y1="236.3" x2="564.2" y2="236.3" stroke="#ef6d72" stroke-width="1.0"/>
<line x1="559.0" y1="245.3" x2="564.2" y2="245.3" stroke="#ef6d72" stroke-width="1.0"/>
<circle cx="561.6" cy="240.8" r="2.9" fill="#ef6d72"/>
<circle cx="571.8" cy="239.4" r="2.9" fill="#ef6d72"/>
<line x1="592.0" y1="233.8" x2="592.0" y2="242.1" stroke="#ef6d72" stroke-width="1.0"/>
<line x1="589.4" y1="233.8" x2="594.6" y2="233.8" stroke="#ef6d72" stroke-width="1.0"/>
<line x1="589.4" y1="242.1" x2="594.6" y2="242.1" stroke="#ef6d72" stroke-width="1.0"/>
<circle cx="592.0" cy="237.9" r="2.9" fill="#ef6d72"/>
<circle cx="632.6" cy="232.0" r="2.9" fill="#ef6d72"/>
<line x1="673.1" y1="231.8" x2="673.1" y2="235.9" stroke="#ef6d72" stroke-width="1.0"/>
<line x1="670.5" y1="231.8" x2="675.7" y2="231.8" stroke="#ef6d72" stroke-width="1.0"/>
<line x1="670.5" y1="235.9" x2="675.7" y2="235.9" stroke="#ef6d72" stroke-width="1.0"/>
<circle cx="673.1" cy="233.8" r="2.9" fill="#ef6d72"/>
<line x1="551.5" y1="199.0" x2="551.5" y2="302.8" stroke="#1a1a1a" stroke-width="1.2"/>
<line x1="551.0" y1="302.3" x2="673.6" y2="302.3" stroke="#1a1a1a" stroke-width="1.2"/>
<line x1="548.0" y1="302.3" x2="551.5" y2="302.3" stroke="#1a1a1a" stroke-width="1.1"/>
<text x="545.3" y="306.0" font-size="10.4" text-anchor="end" fill="#1a1a1a" stroke="#1a1a1a" stroke-width="0.12">0.0</text>
<line x1="548.0" y1="281.7" x2="551.5" y2="281.7" stroke="#1a1a1a" stroke-width="1.1"/>
<text x="545.3" y="285.4" font-size="10.4" text-anchor="end" fill="#1a1a1a" stroke="#1a1a1a" stroke-width="0.12">0.1</text>
<line x1="548.0" y1="261.2" x2="551.5" y2="261.2" stroke="#1a1a1a" stroke-width="1.1"/>
<text x="545.3" y="264.9" font-size="10.4" text-anchor="end" fill="#1a1a1a" stroke="#1a1a1a" stroke-width="0.12">0.2</text>
<line x1="548.0" y1="240.6" x2="551.5" y2="240.6" stroke="#1a1a1a" stroke-width="1.1"/>
<text x="545.3" y="244.3" font-size="10.4" text-anchor="end" fill="#1a1a1a" stroke="#1a1a1a" stroke-width="0.12">0.3</text>
<line x1="548.0" y1="220.1" x2="551.5" y2="220.1" stroke="#1a1a1a" stroke-width="1.1"/>
<text x="545.3" y="223.8" font-size="10.4" text-anchor="end" fill="#1a1a1a" stroke="#1a1a1a" stroke-width="0.12">0.4</text>
<line x1="548.0" y1="199.5" x2="551.5" y2="199.5" stroke="#1a1a1a" stroke-width="1.1"/>
<text x="545.3" y="203.2" font-size="10.4" text-anchor="end" fill="#1a1a1a" stroke="#1a1a1a" stroke-width="0.12">0.5</text>
<line x1="551.5" y1="302.3" x2="551.5" y2="305.8" stroke="#1a1a1a" stroke-width="1.1"/>
<text x="551.5" y="318.1" font-size="10.4" text-anchor="middle" fill="#1a1a1a" stroke="#1a1a1a" stroke-width="0.12">0</text>
<line x1="571.8" y1="302.3" x2="571.8" y2="304.5" stroke="#1a1a1a" stroke-width="1.1"/>
<line x1="592.0" y1="302.3" x2="592.0" y2="305.8" stroke="#1a1a1a" stroke-width="1.1"/>
<text x="592.0" y="318.1" font-size="10.4" text-anchor="middle" fill="#1a1a1a" stroke="#1a1a1a" stroke-width="0.12">2</text>
<line x1="612.3" y1="302.3" x2="612.3" y2="304.5" stroke="#1a1a1a" stroke-width="1.1"/>
<line x1="632.6" y1="302.3" x2="632.6" y2="305.8" stroke="#1a1a1a" stroke-width="1.1"/>
<text x="632.6" y="318.1" font-size="10.4" text-anchor="middle" fill="#1a1a1a" stroke="#1a1a1a" stroke-width="0.12">4</text>
<line x1="652.9" y1="302.3" x2="652.9" y2="304.5" stroke="#1a1a1a" stroke-width="1.1"/>
<line x1="673.1" y1="302.3" x2="673.1" y2="305.8" stroke="#1a1a1a" stroke-width="1.1"/>
<text x="673.1" y="318.1" font-size="10.4" text-anchor="middle" fill="#1a1a1a" stroke="#1a1a1a" stroke-width="0.12">6</text>
<text x="612.3" y="332.3" font-size="11.1" text-anchor="middle" fill="#1a1a1a" stroke="#1a1a1a" stroke-width="0.12">Time (h)</text>
<text x="522.0" y="249.0" font-size="11.6" text-anchor="middle" fill="#1a1a1a" stroke="#1a1a1a" stroke-width="0.12" transform="rotate(-90 522.0 249.0)">OD<tspan font-size="8.6" dy="2.6">280nm</tspan></text>
<text x="602.5" y="188.2" font-size="11.2" text-anchor="middle" fill="#1a1a1a" stroke="#1a1a1a" stroke-width="0.12"><tspan font-style="italic">K. pneumoniae</tspan>  ATCC 700603</text>
<line x1="563.7" y1="201.3" x2="574.7" y2="201.3" stroke="#ef6d72" stroke-width="1.0"/>
<circle cx="569.2" cy="201.3" r="2.9" fill="#ef6d72"/>
<text x="580.2" y="204.9" font-size="9.8" fill="#1a1a1a" stroke="#1a1a1a" stroke-width="0.12">8×MIC</text>
<line x1="620.9" y1="201.3" x2="631.9" y2="201.3" stroke="#7ea5d8" stroke-width="1.0"/>
<rect x="623.6" y="198.5" width="5.6" height="5.6" fill="#7ea5d8"/>
<text x="637.4" y="204.9" font-size="9.8" fill="#1a1a1a" stroke="#1a1a1a" stroke-width="0.12">4×MIC</text>
<line x1="563.7" y1="214.6" x2="574.7" y2="214.6" stroke="#4fb09c" stroke-width="1.0"/>
<path d="M569.2,211.1 L572.5,217.3 L565.9,217.3Z" fill="#4fb09c"/>
<text x="580.2" y="218.2" font-size="9.8" fill="#1a1a1a" stroke="#1a1a1a" stroke-width="0.12">2×MIC</text>
<line x1="620.9" y1="214.6" x2="631.9" y2="214.6" stroke="#a3a3a3" stroke-width="1.0"/>
<path d="M626.4,211.1 L629.7,217.3 L623.1,217.3Z" fill="#a3a3a3"/>
<text x="637.4" y="218.2" font-size="9.8" fill="#1a1a1a" stroke="#1a1a1a" stroke-width="0.12">Control</text>
<text x="1.5" y="350.5" font-size="16.2" font-weight="bold" fill="#1a1a1a" stroke="#1a1a1a" stroke-width="0.12">h</text>
<line x1="53.4" y1="414.6" x2="69.7" y2="414.6" stroke="#ef6d72" stroke-width="1.2"/>
<line x1="53.4" y1="414.1" x2="53.4" y2="486.8" stroke="#f7b9bb" stroke-width="1.2"/>
<line x1="69.7" y1="414.1" x2="69.7" y2="486.8" stroke="#ef6d72" stroke-width="1.2"/>
<line x1="61.5" y1="409.2" x2="61.5" y2="420.0" stroke="#ef6d72" stroke-width="1.1"/>
<line x1="58.5" y1="409.2" x2="64.5" y2="409.2" stroke="#ef6d72" stroke-width="1.1"/>
<line x1="58.5" y1="420.0" x2="64.5" y2="420.0" stroke="#ef6d72" stroke-width="1.1"/>
<circle cx="61.5" cy="408.5" r="2.6" fill="#ef6d72"/>
<circle cx="61.5" cy="420.9" r="2.6" fill="#ef6d72"/>
<circle cx="61.5" cy="414.4" r="2.6" fill="#ef6d72"/>
<line x1="78.8" y1="440.2" x2="95.2" y2="440.2" stroke="#7ea5d8" stroke-width="1.2"/>
<line x1="78.8" y1="439.7" x2="78.8" y2="486.8" stroke="#7ea5d8" stroke-width="1.2"/>
<line x1="95.2" y1="439.7" x2="95.2" y2="486.8" stroke="#7ea5d8" stroke-width="1.2"/>
<line x1="87.0" y1="437.0" x2="87.0" y2="443.4" stroke="#7ea5d8" stroke-width="1.1"/>
<line x1="84.0" y1="437.0" x2="90.0" y2="437.0" stroke="#7ea5d8" stroke-width="1.1"/>
<line x1="84.0" y1="443.4" x2="90.0" y2="443.4" stroke="#7ea5d8" stroke-width="1.1"/>
<rect x="84.4" y="432.9" width="5.2" height="5.2" fill="#7ea5d8"/>
<rect x="79.4" y="439.4" width="5.2" height="5.2" fill="#7ea5d8"/>
<rect x="89.4" y="439.4" width="5.2" height="5.2" fill="#7ea5d8"/>
<line x1="104.4" y1="452.0" x2="120.8" y2="452.0" stroke="#4fb09c" stroke-width="1.2"/>
<line x1="104.4" y1="451.5" x2="104.4" y2="486.8" stroke="#4fb09c" stroke-width="1.2"/>
<line x1="120.8" y1="451.5" x2="120.8" y2="486.8" stroke="#a5dbd0" stroke-width="1.2"/>
<line x1="112.6" y1="450.4" x2="112.6" y2="453.6" stroke="#4fb09c" stroke-width="1.1"/>
<line x1="109.6" y1="450.4" x2="115.6" y2="450.4" stroke="#4fb09c" stroke-width="1.1"/>
<line x1="109.6" y1="453.6" x2="115.6" y2="453.6" stroke="#4fb09c" stroke-width="1.1"/>
<path d="M107.6,450.1 L110.6,455.7 L104.6,455.7Z" fill="#4fb09c"/>
<path d="M112.6,446.9 L115.6,452.5 L109.6,452.5Z" fill="#4fb09c"/>
<path d="M117.6,448.0 L120.6,453.6 L114.6,453.6Z" fill="#4fb09c"/>
<line x1="130.0" y1="481.4" x2="146.3" y2="481.4" stroke="#a3a3a3" stroke-width="1.2"/>
<line x1="130.0" y1="480.9" x2="130.0" y2="486.8" stroke="#a3a3a3" stroke-width="1.2"/>
<line x1="146.3" y1="480.9" x2="146.3" y2="486.8" stroke="#a3a3a3" stroke-width="1.2"/>
<line x1="138.2" y1="479.8" x2="138.2" y2="483.0" stroke="#a3a3a3" stroke-width="1.1"/>
<line x1="135.2" y1="479.8" x2="141.2" y2="479.8" stroke="#a3a3a3" stroke-width="1.1"/>
<line x1="135.2" y1="483.0" x2="141.2" y2="483.0" stroke="#a3a3a3" stroke-width="1.1"/>
<path d="M138.2,483.0 L141.2,477.4 L135.2,477.4Z" fill="#a3a3a3"/>
<path d="M133.7,485.1 L136.7,479.5 L130.7,479.5Z" fill="#a3a3a3"/>
<path d="M142.7,485.7 L145.7,480.1 L139.7,480.1Z" fill="#a3a3a3"/>
<line x1="44.9" y1="378.3" x2="44.9" y2="487.3" stroke="#1a1a1a" stroke-width="1.2"/>
<line x1="44.4" y1="486.8" x2="154.7" y2="486.8" stroke="#1a1a1a" stroke-width="1.2"/>
<line x1="40.1" y1="486.8" x2="44.9" y2="486.8" stroke="#1a1a1a" stroke-width="1.1"/>
<text x="38.1" y="490.5" font-size="11.2" text-anchor="end" fill="#1a1a1a" stroke="#1a1a1a" stroke-width="0.12">0.0</text>
<line x1="40.1" y1="459.8" x2="44.9" y2="459.8" stroke="#1a1a1a" stroke-width="1.1"/>
<text x="38.1" y="463.5" font-size="11.2" text-anchor="end" fill="#1a1a1a" stroke="#1a1a1a" stroke-width="0.12">0.5</text>
<line x1="40.1" y1="432.8" x2="44.9" y2="432.8" stroke="#1a1a1a" stroke-width="1.1"/>
<text x="38.1" y="436.5" font-size="11.2" text-anchor="end" fill="#1a1a1a" stroke="#1a1a1a" stroke-width="0.12">1.0</text>
<line x1="40.1" y1="405.8" x2="44.9" y2="405.8" stroke="#1a1a1a" stroke-width="1.1"/>
<text x="38.1" y="409.5" font-size="11.2" text-anchor="end" fill="#1a1a1a" stroke="#1a1a1a" stroke-width="0.12">1.5</text>
<line x1="40.1" y1="378.8" x2="44.9" y2="378.8" stroke="#1a1a1a" stroke-width="1.1"/>
<text x="38.1" y="382.5" font-size="11.2" text-anchor="end" fill="#1a1a1a" stroke="#1a1a1a" stroke-width="0.12">2.0</text>
<line x1="61.5" y1="486.8" x2="61.5" y2="490.3" stroke="#1a1a1a" stroke-width="1.1"/>
<text x="64.5" y="500.4" font-size="11.8" text-anchor="end" fill="#1a1a1a" stroke="#1a1a1a" stroke-width="0.12" transform="rotate(-45 64.5 500.4)">8×MIC</text>
<line x1="87.0" y1="486.8" x2="87.0" y2="490.3" stroke="#1a1a1a" stroke-width="1.1"/>
<text x="90.0" y="500.4" font-size="11.8" text-anchor="end" fill="#1a1a1a" stroke="#1a1a1a" stroke-width="0.12" transform="rotate(-45 90.0 500.4)">4×MIC</text>
<line x1="112.6" y1="486.8" x2="112.6" y2="490.3" stroke="#1a1a1a" stroke-width="1.1"/>
<text x="115.6" y="500.4" font-size="11.8" text-anchor="end" fill="#1a1a1a" stroke="#1a1a1a" stroke-width="0.12" transform="rotate(-45 115.6 500.4)">2×MIC</text>
<line x1="138.2" y1="486.8" x2="138.2" y2="490.3" stroke="#1a1a1a" stroke-width="1.1"/>
<text x="141.2" y="500.4" font-size="11.8" text-anchor="end" fill="#1a1a1a" stroke="#1a1a1a" stroke-width="0.12" transform="rotate(-45 141.2 500.4)">0</text>
<polyline points="61.5,402.3 61.5,396.6 113.6,396.6 113.6,402.3" stroke="#1a1a1a" stroke-width="1.1" fill="none"/>
<polyline points="85.4,396.6 85.4,390.4 137.5,390.4 137.5,468.1" stroke="#1a1a1a" stroke-width="1.1" fill="none"/>
<text x="112.0" y="388.2" font-size="9.0" text-anchor="middle" fill="#222" stroke="#222" stroke-width="0.08"><tspan font-style="italic">P</tspan> &lt; 0.0001</text>
<text x="87.4" y="364.4" font-size="11.9" text-anchor="middle" fill="#1a1a1a" stroke="#1a1a1a" stroke-width="0.12"><tspan font-style="italic">MRSA</tspan> ATCC 33591</text>
<text x="13.8" y="429.0" font-size="12.0" text-anchor="middle" fill="#1a1a1a" stroke="#1a1a1a" stroke-width="0.12" transform="rotate(-90 13.8 429.0)">Extracellular ATP (μM)</text>
<text x="166.0" y="350.5" font-size="16.2" font-weight="bold" fill="#1a1a1a" stroke="#1a1a1a" stroke-width="0.12">i</text>
<line x1="216.2" y1="457.5" x2="232.5" y2="457.5" stroke="#ef6d72" stroke-width="1.2"/>
<line x1="216.2" y1="457.0" x2="216.2" y2="486.2" stroke="#f7b9bb" stroke-width="1.2"/>
<line x1="232.5" y1="457.0" x2="232.5" y2="486.2" stroke="#ef6d72" stroke-width="1.2"/>
<line x1="224.3" y1="454.8" x2="224.3" y2="460.2" stroke="#ef6d72" stroke-width="1.1"/>
<line x1="221.3" y1="454.8" x2="227.3" y2="454.8" stroke="#ef6d72" stroke-width="1.1"/>
<line x1="221.3" y1="460.2" x2="227.3" y2="460.2" stroke="#ef6d72" stroke-width="1.1"/>
<circle cx="224.3" cy="454.2" r="2.6" fill="#ef6d72"/>
<circle cx="219.3" cy="458.3" r="2.6" fill="#ef6d72"/>
<circle cx="229.3" cy="457.6" r="2.6" fill="#ef6d72"/>
<line x1="241.5" y1="438.2" x2="257.8" y2="438.2" stroke="#7ea5d8" stroke-width="1.2"/>
<line x1="241.5" y1="437.7" x2="241.5" y2="486.2" stroke="#7ea5d8" stroke-width="1.2"/>
<line x1="257.8" y1="437.7" x2="257.8" y2="486.2" stroke="#7ea5d8" stroke-width="1.2"/>
<line x1="249.7" y1="434.8" x2="249.7" y2="441.6" stroke="#7ea5d8" stroke-width="1.1"/>
<line x1="246.7" y1="434.8" x2="252.7" y2="434.8" stroke="#7ea5d8" stroke-width="1.1"/>
<line x1="246.7" y1="441.6" x2="252.7" y2="441.6" stroke="#7ea5d8" stroke-width="1.1"/>
<rect x="247.1" y="431.9" width="5.2" height="5.2" fill="#7ea5d8"/>
<rect x="242.1" y="437.4" width="5.2" height="5.2" fill="#7ea5d8"/>
<rect x="252.1" y="436.7" width="5.2" height="5.2" fill="#7ea5d8"/>
<line x1="266.8" y1="430.0" x2="283.0" y2="430.0" stroke="#4fb09c" stroke-width="1.2"/>
<line x1="266.8" y1="429.5" x2="266.8" y2="486.2" stroke="#4fb09c" stroke-width="1.2"/>
<line x1="283.0" y1="429.5" x2="283.0" y2="486.2" stroke="#a5dbd0" stroke-width="1.2"/>
<line x1="274.9" y1="429.1" x2="274.9" y2="431.0" stroke="#4fb09c" stroke-width="1.1"/>
<line x1="271.9" y1="429.1" x2="277.9" y2="429.1" stroke="#4fb09c" stroke-width="1.1"/>
<line x1="271.9" y1="431.0" x2="277.9" y2="431.0" stroke="#4fb09c" stroke-width="1.1"/>
<path d="M269.9,427.2 L272.9,432.8 L266.9,432.8Z" fill="#4fb09c"/>
<path d="M274.9,425.6 L277.9,431.2 L271.9,431.2Z" fill="#4fb09c"/>
<path d="M279.9,427.0 L282.9,432.6 L276.9,432.6Z" fill="#4fb09c"/>
<line x1="291.9" y1="431.5" x2="308.1" y2="431.5" stroke="#a3a3a3" stroke-width="1.2"/>
<line x1="291.9" y1="431.0" x2="291.9" y2="486.2" stroke="#a3a3a3" stroke-width="1.2"/>
<line x1="308.1" y1="431.0" x2="308.1" y2="486.2" stroke="#a3a3a3" stroke-width="1.2"/>
<line x1="300.0" y1="430.4" x2="300.0" y2="432.6" stroke="#a3a3a3" stroke-width="1.1"/>
<line x1="297.0" y1="430.4" x2="303.0" y2="430.4" stroke="#a3a3a3" stroke-width="1.1"/>
<line x1="297.0" y1="432.6" x2="303.0" y2="432.6" stroke="#a3a3a3" stroke-width="1.1"/>
<path d="M295.0,435.0 L298.0,429.4 L292.0,429.4Z" fill="#a3a3a3"/>
<path d="M300.0,433.6 L303.0,428.0 L297.0,428.0Z" fill="#a3a3a3"/>
<path d="M305.0,435.0 L308.0,429.4 L302.0,429.4Z" fill="#a3a3a3"/>
<line x1="207.4" y1="376.9" x2="207.4" y2="486.7" stroke="#1a1a1a" stroke-width="1.2"/>
<line x1="206.9" y1="486.2" x2="316.5" y2="486.2" stroke="#1a1a1a" stroke-width="1.2"/>
<line x1="202.6" y1="486.2" x2="207.4" y2="486.2" stroke="#1a1a1a" stroke-width="1.1"/>
<text x="200.6" y="489.9" font-size="11.2" text-anchor="end" fill="#1a1a1a" stroke="#1a1a1a" stroke-width="0.12">0.0</text>
<line x1="202.6" y1="459.0" x2="207.4" y2="459.0" stroke="#1a1a1a" stroke-width="1.1"/>
<text x="200.6" y="462.7" font-size="11.2" text-anchor="end" fill="#1a1a1a" stroke="#1a1a1a" stroke-width="0.12">2.0</text>
<line x1="202.6" y1="431.8" x2="207.4" y2="431.8" stroke="#1a1a1a" stroke-width="1.1"/>
<text x="200.6" y="435.5" font-size="11.2" text-anchor="end" fill="#1a1a1a" stroke="#1a1a1a" stroke-width="0.12">4.0</text>
<line x1="202.6" y1="404.6" x2="207.4" y2="404.6" stroke="#1a1a1a" stroke-width="1.1"/>
<text x="200.6" y="408.3" font-size="11.2" text-anchor="end" fill="#1a1a1a" stroke="#1a1a1a" stroke-width="0.12">6.0</text>
<line x1="202.6" y1="377.4" x2="207.4" y2="377.4" stroke="#1a1a1a" stroke-width="1.1"/>
<text x="200.6" y="381.1" font-size="11.2" text-anchor="end" fill="#1a1a1a" stroke="#1a1a1a" stroke-width="0.12">8.0</text>
<line x1="224.3" y1="486.2" x2="224.3" y2="489.7" stroke="#1a1a1a" stroke-width="1.1"/>
<text x="227.3" y="499.8" font-size="11.8" text-anchor="end" fill="#1a1a1a" stroke="#1a1a1a" stroke-width="0.12" transform="rotate(-45 227.3 499.8)">8×MIC</text>
<line x1="249.7" y1="486.2" x2="249.7" y2="489.7" stroke="#1a1a1a" stroke-width="1.1"/>
<text x="252.7" y="499.8" font-size="11.8" text-anchor="end" fill="#1a1a1a" stroke="#1a1a1a" stroke-width="0.12" transform="rotate(-45 252.7 499.8)">4×MIC</text>
<line x1="274.9" y1="486.2" x2="274.9" y2="489.7" stroke="#1a1a1a" stroke-width="1.1"/>
<text x="277.9" y="499.8" font-size="11.8" text-anchor="end" fill="#1a1a1a" stroke="#1a1a1a" stroke-width="0.12" transform="rotate(-45 277.9 499.8)">2×MIC</text>
<line x1="300.0" y1="486.2" x2="300.0" y2="489.7" stroke="#1a1a1a" stroke-width="1.1"/>
<text x="303.0" y="499.8" font-size="11.8" text-anchor="end" fill="#1a1a1a" stroke="#1a1a1a" stroke-width="0.12" transform="rotate(-45 303.0 499.8)">0</text>
<polyline points="224.3,442.6 224.3,388.4 300.4,388.4 300.4,424.2" stroke="#1a1a1a" stroke-width="1.1" fill="none"/>
<polyline points="249.7,425.2 249.7,402.7 300.4,402.7" stroke="#1a1a1a" stroke-width="1.1" fill="none"/>
<polyline points="274.9,422.1 274.9,417.4 300.4,417.4" stroke="#1a1a1a" stroke-width="1.1" fill="none"/>
<text x="267.7" y="385.3" font-size="9.0" text-anchor="middle" fill="#222" stroke="#222" stroke-width="0.08"><tspan font-style="italic">P</tspan> &lt; 0.0001</text>
<text x="273.8" y="400.0" font-size="9.0" text-anchor="middle" fill="#222" stroke="#222" stroke-width="0.08"><tspan font-style="italic">P</tspan> = 0.0342</text>
<text x="275.4" y="415.0" font-size="9.0" text-anchor="middle" fill="#222" stroke="#222" stroke-width="0.08"><tspan font-style="italic">P</tspan> = 0.0420</text>
<text x="250.8" y="364.4" font-size="11.9" text-anchor="middle" fill="#1a1a1a" stroke="#1a1a1a" stroke-width="0.12"><tspan font-style="italic">MRSA</tspan> ATCC 33591</text>
<text x="177.8" y="428.0" font-size="12.0" text-anchor="middle" fill="#1a1a1a" stroke="#1a1a1a" stroke-width="0.12" transform="rotate(-90 177.8 428.0)">Intracellular ATP (μM)</text>
<text x="325.3" y="350.5" font-size="16.2" font-weight="bold" fill="#1a1a1a" stroke="#1a1a1a" stroke-width="0.12">j</text>
<line x1="382.5" y1="422.2" x2="398.8" y2="422.2" stroke="#ef6d72" stroke-width="1.2"/>
<line x1="382.5" y1="421.7" x2="382.5" y2="486.6" stroke="#f7b9bb" stroke-width="1.2"/>
<line x1="398.8" y1="421.7" x2="398.8" y2="486.6" stroke="#ef6d72" stroke-width="1.2"/>
<line x1="390.6" y1="414.8" x2="390.6" y2="429.6" stroke="#ef6d72" stroke-width="1.1"/>
<line x1="387.6" y1="414.8" x2="393.6" y2="414.8" stroke="#ef6d72" stroke-width="1.1"/>
<line x1="387.6" y1="429.6" x2="393.6" y2="429.6" stroke="#ef6d72" stroke-width="1.1"/>
<circle cx="385.6" cy="415.1" r="2.6" fill="#ef6d72"/>
<circle cx="395.6" cy="417.8" r="2.6" fill="#ef6d72"/>
<circle cx="390.6" cy="428.6" r="2.6" fill="#ef6d72"/>
<line x1="407.5" y1="462.2" x2="423.8" y2="462.2" stroke="#7ea5d8" stroke-width="1.2"/>
<line x1="407.5" y1="461.7" x2="407.5" y2="486.6" stroke="#7ea5d8" stroke-width="1.2"/>
<line x1="423.8" y1="461.7" x2="423.8" y2="486.6" stroke="#7ea5d8" stroke-width="1.2"/>
<line x1="415.6" y1="455.4" x2="415.6" y2="468.9" stroke="#7ea5d8" stroke-width="1.1"/>
<line x1="412.6" y1="455.4" x2="418.6" y2="455.4" stroke="#7ea5d8" stroke-width="1.1"/>
<line x1="412.6" y1="468.9" x2="418.6" y2="468.9" stroke="#7ea5d8" stroke-width="1.1"/>
<rect x="413.0" y="452.7" width="5.2" height="5.2" fill="#7ea5d8"/>
<rect x="408.0" y="461.7" width="5.2" height="5.2" fill="#7ea5d8"/>
<rect x="418.0" y="461.3" width="5.2" height="5.2" fill="#7ea5d8"/>
<line x1="432.8" y1="473.4" x2="449.0" y2="473.4" stroke="#4fb09c" stroke-width="1.2"/>
<line x1="432.8" y1="472.9" x2="432.8" y2="486.6" stroke="#4fb09c" stroke-width="1.2"/>
<line x1="449.0" y1="472.9" x2="449.0" y2="486.6" stroke="#a5dbd0" stroke-width="1.2"/>
<line x1="440.9" y1="470.7" x2="440.9" y2="476.1" stroke="#4fb09c" stroke-width="1.1"/>
<line x1="437.9" y1="470.7" x2="443.9" y2="470.7" stroke="#4fb09c" stroke-width="1.1"/>
<line x1="437.9" y1="476.1" x2="443.9" y2="476.1" stroke="#4fb09c" stroke-width="1.1"/>
<path d="M440.9,466.7 L443.9,472.3 L437.9,472.3Z" fill="#4fb09c"/>
<path d="M435.9,470.2 L438.9,475.8 L432.9,475.8Z" fill="#4fb09c"/>
<path d="M445.9,469.9 L448.9,475.5 L442.9,475.5Z" fill="#4fb09c"/>
<line x1="458.1" y1="476.3" x2="474.3" y2="476.3" stroke="#a3a3a3" stroke-width="1.2"/>
<line x1="458.1" y1="475.8" x2="458.1" y2="486.6" stroke="#a3a3a3" stroke-width="1.2"/>
<line x1="474.3" y1="475.8" x2="474.3" y2="486.6" stroke="#a3a3a3" stroke-width="1.2"/>
<line x1="466.2" y1="473.6" x2="466.2" y2="479.0" stroke="#a3a3a3" stroke-width="1.1"/>
<line x1="463.2" y1="473.6" x2="469.2" y2="473.6" stroke="#a3a3a3" stroke-width="1.1"/>
<line x1="463.2" y1="479.0" x2="469.2" y2="479.0" stroke="#a3a3a3" stroke-width="1.1"/>
<path d="M466.2,477.0 L469.2,471.4 L463.2,471.4Z" fill="#a3a3a3"/>
<path d="M461.2,480.4 L464.2,474.8 L458.2,474.8Z" fill="#a3a3a3"/>
<path d="M471.2,480.4 L474.2,474.8 L468.2,474.8Z" fill="#a3a3a3"/>
<line x1="373.2" y1="378.1" x2="373.2" y2="487.1" stroke="#1a1a1a" stroke-width="1.2"/>
<line x1="372.7" y1="486.6" x2="482.7" y2="486.6" stroke="#1a1a1a" stroke-width="1.2"/>
<line x1="368.4" y1="486.6" x2="373.2" y2="486.6" stroke="#1a1a1a" stroke-width="1.1"/>
<text x="366.4" y="490.3" font-size="11.2" text-anchor="end" fill="#1a1a1a" stroke="#1a1a1a" stroke-width="0.12">0.0</text>
<line x1="368.4" y1="459.6" x2="373.2" y2="459.6" stroke="#1a1a1a" stroke-width="1.1"/>
<text x="366.4" y="463.3" font-size="11.2" text-anchor="end" fill="#1a1a1a" stroke="#1a1a1a" stroke-width="0.12">0.2</text>
<line x1="368.4" y1="432.6" x2="373.2" y2="432.6" stroke="#1a1a1a" stroke-width="1.1"/>
<text x="366.4" y="436.3" font-size="11.2" text-anchor="end" fill="#1a1a1a" stroke="#1a1a1a" stroke-width="0.12">0.4</text>
<line x1="368.4" y1="405.6" x2="373.2" y2="405.6" stroke="#1a1a1a" stroke-width="1.1"/>
<text x="366.4" y="409.3" font-size="11.2" text-anchor="end" fill="#1a1a1a" stroke="#1a1a1a" stroke-width="0.12">0.6</text>
<line x1="368.4" y1="378.6" x2="373.2" y2="378.6" stroke="#1a1a1a" stroke-width="1.1"/>
<text x="366.4" y="382.3" font-size="11.2" text-anchor="end" fill="#1a1a1a" stroke="#1a1a1a" stroke-width="0.12">0.8</text>
<line x1="390.6" y1="486.6" x2="390.6" y2="490.1" stroke="#1a1a1a" stroke-width="1.1"/>
<text x="393.6" y="500.2" font-size="11.8" text-anchor="end" fill="#1a1a1a" stroke="#1a1a1a" stroke-width="0.12" transform="rotate(-45 393.6 500.2)">8×MIC</text>
<line x1="415.6" y1="486.6" x2="415.6" y2="490.1" stroke="#1a1a1a" stroke-width="1.1"/>
<text x="418.6" y="500.2" font-size="11.8" text-anchor="end" fill="#1a1a1a" stroke="#1a1a1a" stroke-width="0.12" transform="rotate(-45 418.6 500.2)">4×MIC</text>
<line x1="440.9" y1="486.6" x2="440.9" y2="490.1" stroke="#1a1a1a" stroke-width="1.1"/>
<text x="443.9" y="500.2" font-size="11.8" text-anchor="end" fill="#1a1a1a" stroke="#1a1a1a" stroke-width="0.12" transform="rotate(-45 443.9 500.2)">2×MIC</text>
<line x1="466.2" y1="486.6" x2="466.2" y2="490.1" stroke="#1a1a1a" stroke-width="1.1"/>
<text x="469.2" y="500.2" font-size="11.8" text-anchor="end" fill="#1a1a1a" stroke="#1a1a1a" stroke-width="0.12" transform="rotate(-45 469.2 500.2)">0</text>
<polyline points="390.6,402.3 390.6,390.8 466.2,390.8 466.2,458.3" stroke="#1a1a1a" stroke-width="1.1" fill="none"/>
<polyline points="415.6,438.5 415.6,409.4 466.2,409.4" stroke="#1a1a1a" stroke-width="1.1" fill="none"/>
<polyline points="440.9,452.8 440.9,430.9 466.2,430.9" stroke="#555" stroke-width="1.1" fill="none"/>
<text x="429.4" y="388.4" font-size="9.0" text-anchor="middle" fill="#222" stroke="#222" stroke-width="0.08"><tspan font-style="italic">P</tspan> = 0.0002</text>
<text x="438.6" y="406.4" font-size="9.0" text-anchor="middle" fill="#222" stroke="#222" stroke-width="0.08"><tspan font-style="italic">P</tspan> = 0.0128</text>
<text x="442.1" y="427.2" font-size="9.0" text-anchor="middle" fill="#222" stroke="#222" stroke-width="0.08"><tspan font-style="italic">P</tspan> = 0.1318</text>
<text x="414.8" y="364.4" font-size="11.9" text-anchor="middle" fill="#1a1a1a" stroke="#1a1a1a" stroke-width="0.12"><tspan font-style="italic">K. pneumoniae</tspan>  ATCC 700603</text>
<text x="343.5" y="428.0" font-size="12.0" text-anchor="middle" fill="#1a1a1a" stroke="#1a1a1a" stroke-width="0.12" transform="rotate(-90 343.5 428.0)">Extracellular ATP (μM)</text>
<text x="505.5" y="350.5" font-size="16.2" font-weight="bold" fill="#1a1a1a" stroke="#1a1a1a" stroke-width="0.12">k</text>
<line x1="565.0" y1="468.2" x2="581.2" y2="468.2" stroke="#ef6d72" stroke-width="1.2"/>
<line x1="565.0" y1="467.7" x2="565.0" y2="487.6" stroke="#f7b9bb" stroke-width="1.2"/>
<line x1="581.2" y1="467.7" x2="581.2" y2="487.6" stroke="#ef6d72" stroke-width="1.2"/>
<line x1="573.1" y1="467.3" x2="573.1" y2="469.0" stroke="#ef6d72" stroke-width="1.1"/>
<line x1="570.1" y1="467.3" x2="576.1" y2="467.3" stroke="#ef6d72" stroke-width="1.1"/>
<line x1="570.1" y1="469.0" x2="576.1" y2="469.0" stroke="#ef6d72" stroke-width="1.1"/>
<circle cx="568.1" cy="468.3" r="2.6" fill="#ef6d72"/>
<circle cx="573.1" cy="467.2" r="2.6" fill="#ef6d72"/>
<circle cx="578.1" cy="468.3" r="2.6" fill="#ef6d72"/>
<line x1="589.9" y1="469.5" x2="606.1" y2="469.5" stroke="#7ea5d8" stroke-width="1.2"/>
<line x1="589.9" y1="469.0" x2="589.9" y2="487.6" stroke="#7ea5d8" stroke-width="1.2"/>
<line x1="606.1" y1="469.0" x2="606.1" y2="487.6" stroke="#7ea5d8" stroke-width="1.2"/>
<line x1="598.0" y1="467.9" x2="598.0" y2="471.1" stroke="#7ea5d8" stroke-width="1.1"/>
<line x1="595.0" y1="467.9" x2="601.0" y2="467.9" stroke="#7ea5d8" stroke-width="1.1"/>
<line x1="595.0" y1="471.1" x2="601.0" y2="471.1" stroke="#7ea5d8" stroke-width="1.1"/>
<rect x="590.4" y="468.0" width="5.2" height="5.2" fill="#7ea5d8"/>
<rect x="595.4" y="465.3" width="5.2" height="5.2" fill="#7ea5d8"/>
<rect x="600.4" y="466.0" width="5.2" height="5.2" fill="#7ea5d8"/>
<line x1="615.1" y1="459.9" x2="631.4" y2="459.9" stroke="#4fb09c" stroke-width="1.2"/>
<line x1="615.1" y1="459.4" x2="615.1" y2="487.6" stroke="#4fb09c" stroke-width="1.2"/>
<line x1="631.4" y1="459.4" x2="631.4" y2="487.6" stroke="#a5dbd0" stroke-width="1.2"/>
<line x1="623.2" y1="458.5" x2="623.2" y2="461.2" stroke="#4fb09c" stroke-width="1.1"/>
<line x1="620.2" y1="458.5" x2="626.2" y2="458.5" stroke="#4fb09c" stroke-width="1.1"/>
<line x1="620.2" y1="461.2" x2="626.2" y2="461.2" stroke="#4fb09c" stroke-width="1.1"/>
<path d="M618.2,457.2 L621.2,462.8 L615.2,462.8Z" fill="#4fb09c"/>
<path d="M623.2,455.2 L626.2,460.8 L620.2,460.8Z" fill="#4fb09c"/>
<path d="M628.2,457.2 L631.2,462.8 L625.2,462.8Z" fill="#4fb09c"/>
<line x1="640.0" y1="435.0" x2="656.2" y2="435.0" stroke="#a3a3a3" stroke-width="1.2"/>
<line x1="640.0" y1="434.5" x2="640.0" y2="487.6" stroke="#a3a3a3" stroke-width="1.2"/>
<line x1="656.2" y1="434.5" x2="656.2" y2="487.6" stroke="#a3a3a3" stroke-width="1.2"/>
<line x1="648.1" y1="425.4" x2="648.1" y2="444.5" stroke="#a3a3a3" stroke-width="1.1"/>
<line x1="645.1" y1="425.4" x2="651.1" y2="425.4" stroke="#a3a3a3" stroke-width="1.1"/>
<line x1="645.1" y1="444.5" x2="651.1" y2="444.5" stroke="#a3a3a3" stroke-width="1.1"/>
<path d="M648.1,428.9 L651.1,423.3 L645.1,423.3Z" fill="#a3a3a3"/>
<path d="M648.1,433.7 L651.1,428.1 L645.1,428.1Z" fill="#a3a3a3"/>
<path d="M648.1,447.3 L651.1,441.7 L645.1,441.7Z" fill="#a3a3a3"/>
<line x1="556.3" y1="378.3" x2="556.3" y2="488.1" stroke="#1a1a1a" stroke-width="1.2"/>
<line x1="555.8" y1="487.6" x2="664.6" y2="487.6" stroke="#1a1a1a" stroke-width="1.2"/>
<line x1="551.5" y1="487.6" x2="556.3" y2="487.6" stroke="#1a1a1a" stroke-width="1.1"/>
<text x="549.5" y="491.3" font-size="11.2" text-anchor="end" fill="#1a1a1a" stroke="#1a1a1a" stroke-width="0.12">0.0</text>
<line x1="551.5" y1="460.4" x2="556.3" y2="460.4" stroke="#1a1a1a" stroke-width="1.1"/>
<text x="549.5" y="464.1" font-size="11.2" text-anchor="end" fill="#1a1a1a" stroke="#1a1a1a" stroke-width="0.12">2.0</text>
<line x1="551.5" y1="433.2" x2="556.3" y2="433.2" stroke="#1a1a1a" stroke-width="1.1"/>
<text x="549.5" y="436.9" font-size="11.2" text-anchor="end" fill="#1a1a1a" stroke="#1a1a1a" stroke-width="0.12">4.0</text>
<line x1="551.5" y1="406.0" x2="556.3" y2="406.0" stroke="#1a1a1a" stroke-width="1.1"/>
<text x="549.5" y="409.7" font-size="11.2" text-anchor="end" fill="#1a1a1a" stroke="#1a1a1a" stroke-width="0.12">6.0</text>
<line x1="551.5" y1="378.8" x2="556.3" y2="378.8" stroke="#1a1a1a" stroke-width="1.1"/>
<text x="549.5" y="382.5" font-size="11.2" text-anchor="end" fill="#1a1a1a" stroke="#1a1a1a" stroke-width="0.12">8.0</text>
<line x1="573.1" y1="487.6" x2="573.1" y2="491.1" stroke="#1a1a1a" stroke-width="1.1"/>
<text x="576.1" y="501.2" font-size="11.8" text-anchor="end" fill="#1a1a1a" stroke="#1a1a1a" stroke-width="0.12" transform="rotate(-45 576.1 501.2)">8×MIC</text>
<line x1="598.0" y1="487.6" x2="598.0" y2="491.1" stroke="#1a1a1a" stroke-width="1.1"/>
<text x="601.0" y="501.2" font-size="11.8" text-anchor="end" fill="#1a1a1a" stroke="#1a1a1a" stroke-width="0.12" transform="rotate(-45 601.0 501.2)">4×MIC</text>
<line x1="623.2" y1="487.6" x2="623.2" y2="491.1" stroke="#1a1a1a" stroke-width="1.1"/>
<text x="626.2" y="501.2" font-size="11.8" text-anchor="end" fill="#1a1a1a" stroke="#1a1a1a" stroke-width="0.12" transform="rotate(-45 626.2 501.2)">2×MIC</text>
<line x1="648.1" y1="487.6" x2="648.1" y2="491.1" stroke="#1a1a1a" stroke-width="1.1"/>
<text x="651.1" y="501.2" font-size="11.8" text-anchor="end" fill="#1a1a1a" stroke="#1a1a1a" stroke-width="0.12" transform="rotate(-45 651.1 501.2)">0</text>
<polyline points="573.1,456.9 573.1,389.4 648.3,389.4 648.3,424.2" stroke="#1a1a1a" stroke-width="1.1" fill="none"/>
<polyline points="598.0,449.7 598.0,403.1 648.3,403.1" stroke="#666" stroke-width="1.1" fill="none"/>
<polyline points="623.2,439.5 623.2,418.4 648.3,418.4" stroke="#1a1a1a" stroke-width="1.1" fill="none"/>
<text x="616.6" y="386.8" font-size="9.0" text-anchor="middle" fill="#222" stroke="#222" stroke-width="0.08"><tspan font-style="italic">P</tspan> = 0.0038</text>
<text x="621.7" y="400.7" font-size="9.0" text-anchor="middle" fill="#222" stroke="#222" stroke-width="0.08"><tspan font-style="italic">P</tspan> = 0.0037</text>
<text x="623.4" y="416.0" font-size="9.0" text-anchor="middle" fill="#222" stroke="#222" stroke-width="0.08"><tspan font-style="italic">P</tspan> = 0.0107</text>
<text x="597.6" y="364.4" font-size="11.9" text-anchor="middle" fill="#1a1a1a" stroke="#1a1a1a" stroke-width="0.12"><tspan font-style="italic">K. pneumoniae</tspan>  ATCC 700603</text>
<text x="524.3" y="428.0" font-size="12.0" text-anchor="middle" fill="#1a1a1a" stroke="#1a1a1a" stroke-width="0.12" transform="rotate(-90 524.3 428.0)">Intracellular ATP (μM)</text>
</svg>
</body></html>
